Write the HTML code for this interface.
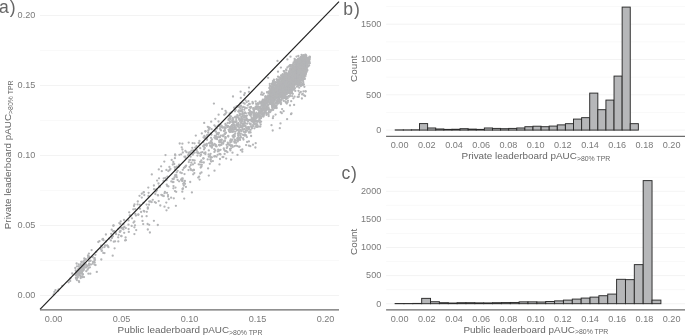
<!DOCTYPE html><html><head><meta charset="utf-8"><title>Leaderboard pAUC</title><style>html,body{margin:0;padding:0;background:#fff;}svg{display:block;will-change:transform}</style></head><body><svg width="685" height="335" viewBox="0 0 685 335"><line x1="40.0" x2="339.0" y1="295.50" y2="295.50" stroke="#ebebeb" stroke-width="0.6"/>
<line x1="40.0" x2="339.0" y1="260.50" y2="260.50" stroke="#f3f3f3" stroke-width="0.5"/>
<line x1="40.0" x2="339.0" y1="225.50" y2="225.50" stroke="#ebebeb" stroke-width="0.6"/>
<line x1="40.0" x2="339.0" y1="190.50" y2="190.50" stroke="#f3f3f3" stroke-width="0.5"/>
<line x1="40.0" x2="339.0" y1="155.50" y2="155.50" stroke="#ebebeb" stroke-width="0.6"/>
<line x1="40.0" x2="339.0" y1="120.50" y2="120.50" stroke="#f3f3f3" stroke-width="0.5"/>
<line x1="40.0" x2="339.0" y1="85.50" y2="85.50" stroke="#ebebeb" stroke-width="0.6"/>
<line x1="40.0" x2="339.0" y1="50.50" y2="50.50" stroke="#f3f3f3" stroke-width="0.5"/>
<line x1="40.0" x2="339.0" y1="15.50" y2="15.50" stroke="#ebebeb" stroke-width="0.6"/>
<g fill="#b4b5b7">
<circle cx="54.4" cy="291.9" r="1.15"/>
<circle cx="55.5" cy="290.2" r="1.15"/>
<circle cx="53.7" cy="294.4" r="1.15"/>
<circle cx="62.3" cy="285.8" r="1.15"/>
<circle cx="58.1" cy="290.8" r="1.15"/>
<circle cx="58.6" cy="289.3" r="1.15"/>
<circle cx="70.4" cy="278.5" r="1.15"/>
<circle cx="68.6" cy="282.3" r="1.15"/>
<circle cx="72.2" cy="273.5" r="1.15"/>
<circle cx="70.2" cy="280.9" r="1.15"/>
<circle cx="75.3" cy="268.0" r="1.15"/>
<circle cx="78.1" cy="270.3" r="1.15"/>
<circle cx="76.8" cy="271.3" r="1.15"/>
<circle cx="82.8" cy="265.7" r="1.15"/>
<circle cx="77.1" cy="278.2" r="1.15"/>
<circle cx="78.8" cy="274.7" r="1.15"/>
<circle cx="80.4" cy="269.2" r="1.15"/>
<circle cx="77.4" cy="272.7" r="1.15"/>
<circle cx="81.6" cy="272.8" r="1.15"/>
<circle cx="80.7" cy="268.7" r="1.15"/>
<circle cx="79.6" cy="273.5" r="1.15"/>
<circle cx="81.7" cy="262.0" r="1.15"/>
<circle cx="77.7" cy="277.2" r="1.15"/>
<circle cx="83.3" cy="270.2" r="1.15"/>
<circle cx="82.0" cy="271.9" r="1.15"/>
<circle cx="76.6" cy="263.5" r="1.15"/>
<circle cx="79.3" cy="271.5" r="1.15"/>
<circle cx="79.9" cy="273.4" r="1.15"/>
<circle cx="75.9" cy="277.6" r="1.15"/>
<circle cx="80.6" cy="276.6" r="1.15"/>
<circle cx="83.3" cy="270.4" r="1.15"/>
<circle cx="80.8" cy="264.2" r="1.15"/>
<circle cx="80.7" cy="278.0" r="1.15"/>
<circle cx="83.9" cy="264.7" r="1.15"/>
<circle cx="79.7" cy="271.9" r="1.15"/>
<circle cx="81.8" cy="270.5" r="1.15"/>
<circle cx="81.3" cy="261.8" r="1.15"/>
<circle cx="78.1" cy="272.9" r="1.15"/>
<circle cx="79.0" cy="272.2" r="1.15"/>
<circle cx="79.6" cy="272.0" r="1.15"/>
<circle cx="77.0" cy="272.5" r="1.15"/>
<circle cx="82.4" cy="267.6" r="1.15"/>
<circle cx="76.7" cy="273.8" r="1.15"/>
<circle cx="83.3" cy="263.3" r="1.15"/>
<circle cx="76.3" cy="278.7" r="1.15"/>
<circle cx="83.4" cy="265.9" r="1.15"/>
<circle cx="82.8" cy="265.9" r="1.15"/>
<circle cx="79.2" cy="274.1" r="1.15"/>
<circle cx="78.7" cy="264.5" r="1.15"/>
<circle cx="76.9" cy="280.1" r="1.15"/>
<circle cx="77.1" cy="273.1" r="1.15"/>
<circle cx="79.8" cy="268.1" r="1.15"/>
<circle cx="80.8" cy="270.3" r="1.15"/>
<circle cx="79.3" cy="271.2" r="1.15"/>
<circle cx="78.8" cy="281.1" r="1.15"/>
<circle cx="81.7" cy="273.6" r="1.15"/>
<circle cx="80.1" cy="275.4" r="1.15"/>
<circle cx="76.0" cy="278.2" r="1.15"/>
<circle cx="83.5" cy="265.8" r="1.15"/>
<circle cx="82.6" cy="277.2" r="1.15"/>
<circle cx="79.0" cy="273.3" r="1.15"/>
<circle cx="81.2" cy="268.7" r="1.15"/>
<circle cx="76.1" cy="272.0" r="1.15"/>
<circle cx="77.0" cy="272.5" r="1.15"/>
<circle cx="78.6" cy="272.1" r="1.15"/>
<circle cx="76.9" cy="273.6" r="1.15"/>
<circle cx="76.4" cy="274.6" r="1.15"/>
<circle cx="83.3" cy="266.9" r="1.15"/>
<circle cx="81.0" cy="268.1" r="1.15"/>
<circle cx="78.6" cy="269.7" r="1.15"/>
<circle cx="78.8" cy="266.4" r="1.15"/>
<circle cx="84.4" cy="260.5" r="1.15"/>
<circle cx="79.7" cy="272.9" r="1.15"/>
<circle cx="76.4" cy="273.9" r="1.15"/>
<circle cx="78.6" cy="272.8" r="1.15"/>
<circle cx="77.0" cy="266.3" r="1.15"/>
<circle cx="75.7" cy="270.3" r="1.15"/>
<circle cx="76.8" cy="275.1" r="1.15"/>
<circle cx="80.4" cy="265.6" r="1.15"/>
<circle cx="84.2" cy="265.8" r="1.15"/>
<circle cx="83.2" cy="269.0" r="1.15"/>
<circle cx="78.8" cy="274.9" r="1.15"/>
<circle cx="77.0" cy="272.9" r="1.15"/>
<circle cx="82.5" cy="273.9" r="1.15"/>
<circle cx="78.5" cy="271.0" r="1.15"/>
<circle cx="84.3" cy="258.5" r="1.15"/>
<circle cx="83.1" cy="265.1" r="1.15"/>
<circle cx="82.1" cy="276.4" r="1.15"/>
<circle cx="77.6" cy="276.7" r="1.15"/>
<circle cx="75.8" cy="275.0" r="1.15"/>
<circle cx="75.8" cy="275.1" r="1.15"/>
<circle cx="81.7" cy="266.0" r="1.15"/>
<circle cx="84.0" cy="277.1" r="1.15"/>
<circle cx="84.3" cy="263.2" r="1.15"/>
<circle cx="84.0" cy="269.1" r="1.15"/>
<circle cx="77.6" cy="271.0" r="1.15"/>
<circle cx="77.3" cy="271.8" r="1.15"/>
<circle cx="83.5" cy="261.5" r="1.15"/>
<circle cx="83.0" cy="274.4" r="1.15"/>
<circle cx="82.6" cy="267.5" r="1.15"/>
<circle cx="76.3" cy="278.6" r="1.15"/>
<circle cx="82.5" cy="276.7" r="1.15"/>
<circle cx="82.2" cy="271.5" r="1.15"/>
<circle cx="82.5" cy="268.1" r="1.15"/>
<circle cx="78.5" cy="268.9" r="1.15"/>
<circle cx="79.1" cy="282.0" r="1.15"/>
<circle cx="88.0" cy="255.5" r="1.15"/>
<circle cx="85.9" cy="267.6" r="1.15"/>
<circle cx="85.5" cy="259.5" r="1.15"/>
<circle cx="91.6" cy="250.1" r="1.15"/>
<circle cx="85.7" cy="259.2" r="1.15"/>
<circle cx="90.3" cy="273.7" r="1.15"/>
<circle cx="87.5" cy="266.0" r="1.15"/>
<circle cx="84.5" cy="267.2" r="1.15"/>
<circle cx="93.0" cy="262.0" r="1.15"/>
<circle cx="92.7" cy="263.7" r="1.15"/>
<circle cx="88.3" cy="256.3" r="1.15"/>
<circle cx="86.3" cy="271.2" r="1.15"/>
<circle cx="86.7" cy="265.3" r="1.15"/>
<circle cx="89.6" cy="257.8" r="1.15"/>
<circle cx="86.7" cy="266.5" r="1.15"/>
<circle cx="92.5" cy="257.2" r="1.15"/>
<circle cx="87.6" cy="269.7" r="1.15"/>
<circle cx="92.5" cy="256.7" r="1.15"/>
<circle cx="88.2" cy="257.8" r="1.15"/>
<circle cx="89.1" cy="264.9" r="1.15"/>
<circle cx="89.1" cy="256.6" r="1.15"/>
<circle cx="86.0" cy="264.4" r="1.15"/>
<circle cx="84.5" cy="265.7" r="1.15"/>
<circle cx="88.6" cy="265.4" r="1.15"/>
<circle cx="90.9" cy="264.6" r="1.15"/>
<circle cx="89.0" cy="263.6" r="1.15"/>
<circle cx="89.4" cy="261.2" r="1.15"/>
<circle cx="89.4" cy="264.0" r="1.15"/>
<circle cx="86.6" cy="265.8" r="1.15"/>
<circle cx="88.9" cy="253.6" r="1.15"/>
<circle cx="89.4" cy="260.9" r="1.15"/>
<circle cx="88.4" cy="273.7" r="1.15"/>
<circle cx="89.9" cy="267.3" r="1.15"/>
<circle cx="90.6" cy="260.7" r="1.15"/>
<circle cx="88.4" cy="268.2" r="1.15"/>
<circle cx="101.7" cy="250.9" r="1.15"/>
<circle cx="99.5" cy="241.1" r="1.15"/>
<circle cx="95.6" cy="265.1" r="1.15"/>
<circle cx="98.3" cy="242.0" r="1.15"/>
<circle cx="94.5" cy="260.3" r="1.15"/>
<circle cx="94.4" cy="258.7" r="1.15"/>
<circle cx="95.4" cy="254.8" r="1.15"/>
<circle cx="93.9" cy="261.8" r="1.15"/>
<circle cx="101.3" cy="259.5" r="1.15"/>
<circle cx="94.7" cy="258.1" r="1.15"/>
<circle cx="94.6" cy="264.6" r="1.15"/>
<circle cx="101.1" cy="245.6" r="1.15"/>
<circle cx="101.8" cy="250.3" r="1.15"/>
<circle cx="96.8" cy="271.9" r="1.15"/>
<circle cx="100.7" cy="248.9" r="1.15"/>
<circle cx="94.7" cy="262.5" r="1.15"/>
<circle cx="96.3" cy="251.8" r="1.15"/>
<circle cx="95.0" cy="259.8" r="1.15"/>
<circle cx="102.4" cy="239.4" r="1.15"/>
<circle cx="107.1" cy="245.3" r="1.15"/>
<circle cx="105.1" cy="245.5" r="1.15"/>
<circle cx="107.7" cy="245.9" r="1.15"/>
<circle cx="110.9" cy="240.4" r="1.15"/>
<circle cx="109.2" cy="238.7" r="1.15"/>
<circle cx="104.5" cy="247.1" r="1.15"/>
<circle cx="102.5" cy="247.6" r="1.15"/>
<circle cx="103.3" cy="252.9" r="1.15"/>
<circle cx="105.9" cy="234.5" r="1.15"/>
<circle cx="104.5" cy="253.1" r="1.15"/>
<circle cx="103.5" cy="240.2" r="1.15"/>
<circle cx="108.4" cy="247.2" r="1.15"/>
<circle cx="103.0" cy="238.9" r="1.15"/>
<circle cx="106.0" cy="241.5" r="1.15"/>
<circle cx="111.7" cy="229.7" r="1.15"/>
<circle cx="118.2" cy="237.3" r="1.15"/>
<circle cx="111.8" cy="237.6" r="1.15"/>
<circle cx="118.7" cy="234.8" r="1.15"/>
<circle cx="115.1" cy="241.3" r="1.15"/>
<circle cx="119.3" cy="223.1" r="1.15"/>
<circle cx="113.4" cy="231.3" r="1.15"/>
<circle cx="113.2" cy="231.3" r="1.15"/>
<circle cx="112.0" cy="237.9" r="1.15"/>
<circle cx="112.9" cy="236.3" r="1.15"/>
<circle cx="113.8" cy="241.7" r="1.15"/>
<circle cx="113.6" cy="225.5" r="1.15"/>
<circle cx="115.5" cy="232.5" r="1.15"/>
<circle cx="111.2" cy="233.8" r="1.15"/>
<circle cx="113.3" cy="225.7" r="1.15"/>
<circle cx="116.0" cy="234.0" r="1.15"/>
<circle cx="112.7" cy="255.7" r="1.15"/>
<circle cx="112.0" cy="236.4" r="1.15"/>
<circle cx="118.3" cy="241.4" r="1.15"/>
<circle cx="118.5" cy="228.8" r="1.15"/>
<circle cx="114.6" cy="248.3" r="1.15"/>
<circle cx="119.8" cy="231.9" r="1.15"/>
<circle cx="114.1" cy="231.1" r="1.15"/>
<circle cx="125.6" cy="237.5" r="1.15"/>
<circle cx="123.5" cy="229.3" r="1.15"/>
<circle cx="121.1" cy="227.8" r="1.15"/>
<circle cx="120.6" cy="231.0" r="1.15"/>
<circle cx="121.4" cy="236.2" r="1.15"/>
<circle cx="120.7" cy="221.4" r="1.15"/>
<circle cx="125.9" cy="240.2" r="1.15"/>
<circle cx="122.4" cy="228.4" r="1.15"/>
<circle cx="124.0" cy="220.0" r="1.15"/>
<circle cx="121.3" cy="236.0" r="1.15"/>
<circle cx="128.5" cy="220.4" r="1.15"/>
<circle cx="128.6" cy="229.1" r="1.15"/>
<circle cx="128.5" cy="224.7" r="1.15"/>
<circle cx="122.7" cy="228.8" r="1.15"/>
<circle cx="123.3" cy="227.6" r="1.15"/>
<circle cx="124.2" cy="232.8" r="1.15"/>
<circle cx="124.4" cy="226.9" r="1.15"/>
<circle cx="120.0" cy="231.5" r="1.15"/>
<circle cx="123.5" cy="224.0" r="1.15"/>
<circle cx="120.3" cy="223.9" r="1.15"/>
<circle cx="122.0" cy="228.2" r="1.15"/>
<circle cx="125.1" cy="240.4" r="1.15"/>
<circle cx="125.8" cy="228.1" r="1.15"/>
<circle cx="135.2" cy="209.2" r="1.15"/>
<circle cx="131.7" cy="225.9" r="1.15"/>
<circle cx="137.6" cy="204.4" r="1.15"/>
<circle cx="134.5" cy="204.4" r="1.15"/>
<circle cx="129.2" cy="212.3" r="1.15"/>
<circle cx="134.4" cy="234.1" r="1.15"/>
<circle cx="135.3" cy="213.9" r="1.15"/>
<circle cx="133.5" cy="222.6" r="1.15"/>
<circle cx="133.3" cy="209.3" r="1.15"/>
<circle cx="136.2" cy="230.1" r="1.15"/>
<circle cx="134.0" cy="206.0" r="1.15"/>
<circle cx="135.0" cy="225.3" r="1.15"/>
<circle cx="130.9" cy="215.6" r="1.15"/>
<circle cx="132.0" cy="218.3" r="1.15"/>
<circle cx="129.8" cy="215.5" r="1.15"/>
<circle cx="134.4" cy="227.3" r="1.15"/>
<circle cx="134.4" cy="221.5" r="1.15"/>
<circle cx="128.8" cy="231.9" r="1.15"/>
<circle cx="135.9" cy="215.5" r="1.15"/>
<circle cx="142.5" cy="220.9" r="1.15"/>
<circle cx="143.6" cy="192.4" r="1.15"/>
<circle cx="139.9" cy="204.8" r="1.15"/>
<circle cx="138.4" cy="214.5" r="1.15"/>
<circle cx="139.5" cy="195.8" r="1.15"/>
<circle cx="144.3" cy="195.1" r="1.15"/>
<circle cx="141.1" cy="212.0" r="1.15"/>
<circle cx="142.0" cy="216.4" r="1.15"/>
<circle cx="143.2" cy="224.1" r="1.15"/>
<circle cx="143.4" cy="202.8" r="1.15"/>
<circle cx="140.0" cy="208.7" r="1.15"/>
<circle cx="144.3" cy="211.5" r="1.15"/>
<circle cx="137.8" cy="201.5" r="1.15"/>
<circle cx="138.2" cy="214.8" r="1.15"/>
<circle cx="143.8" cy="192.2" r="1.15"/>
<circle cx="143.7" cy="210.8" r="1.15"/>
<circle cx="141.8" cy="197.6" r="1.15"/>
<circle cx="141.8" cy="193.7" r="1.15"/>
<circle cx="148.3" cy="187.6" r="1.15"/>
<circle cx="155.3" cy="194.1" r="1.15"/>
<circle cx="150.7" cy="201.5" r="1.15"/>
<circle cx="153.9" cy="185.5" r="1.15"/>
<circle cx="149.0" cy="204.7" r="1.15"/>
<circle cx="148.4" cy="195.9" r="1.15"/>
<circle cx="151.7" cy="202.1" r="1.15"/>
<circle cx="147.8" cy="229.5" r="1.15"/>
<circle cx="147.8" cy="207.5" r="1.15"/>
<circle cx="153.9" cy="220.8" r="1.15"/>
<circle cx="152.8" cy="199.8" r="1.15"/>
<circle cx="148.6" cy="192.8" r="1.15"/>
<circle cx="146.8" cy="211.8" r="1.15"/>
<circle cx="146.6" cy="216.2" r="1.15"/>
<circle cx="149.3" cy="201.5" r="1.15"/>
<circle cx="147.8" cy="208.7" r="1.15"/>
<circle cx="154.0" cy="189.2" r="1.15"/>
<circle cx="146.6" cy="204.6" r="1.15"/>
<circle cx="147.6" cy="224.0" r="1.15"/>
<circle cx="154.8" cy="202.1" r="1.15"/>
<circle cx="149.2" cy="224.8" r="1.15"/>
<circle cx="149.9" cy="232.5" r="1.15"/>
<circle cx="151.8" cy="174.4" r="1.15"/>
<circle cx="158.7" cy="201.1" r="1.15"/>
<circle cx="155.9" cy="191.5" r="1.15"/>
<circle cx="156.4" cy="190.3" r="1.15"/>
<circle cx="163.8" cy="196.1" r="1.15"/>
<circle cx="157.7" cy="195.1" r="1.15"/>
<circle cx="157.1" cy="180.6" r="1.15"/>
<circle cx="158.8" cy="169.4" r="1.15"/>
<circle cx="162.7" cy="195.5" r="1.15"/>
<circle cx="161.1" cy="166.3" r="1.15"/>
<circle cx="160.3" cy="205.5" r="1.15"/>
<circle cx="161.8" cy="171.2" r="1.15"/>
<circle cx="159.5" cy="186.1" r="1.15"/>
<circle cx="162.1" cy="195.3" r="1.15"/>
<circle cx="155.9" cy="202.8" r="1.15"/>
<circle cx="163.7" cy="178.3" r="1.15"/>
<circle cx="158.5" cy="183.5" r="1.15"/>
<circle cx="158.1" cy="195.4" r="1.15"/>
<circle cx="157.8" cy="225.0" r="1.15"/>
<circle cx="161.3" cy="194.8" r="1.15"/>
<circle cx="159.0" cy="178.3" r="1.15"/>
<circle cx="156.9" cy="190.3" r="1.15"/>
<circle cx="163.5" cy="181.0" r="1.15"/>
<circle cx="159.9" cy="186.8" r="1.15"/>
<circle cx="164.3" cy="161.6" r="1.15"/>
<circle cx="159.5" cy="187.1" r="1.15"/>
<circle cx="156.3" cy="189.4" r="1.15"/>
<circle cx="167.4" cy="176.7" r="1.15"/>
<circle cx="166.6" cy="180.1" r="1.15"/>
<circle cx="169.4" cy="166.9" r="1.15"/>
<circle cx="168.0" cy="196.6" r="1.15"/>
<circle cx="168.0" cy="195.1" r="1.15"/>
<circle cx="167.3" cy="185.9" r="1.15"/>
<circle cx="164.9" cy="192.0" r="1.15"/>
<circle cx="165.5" cy="155.1" r="1.15"/>
<circle cx="168.8" cy="199.2" r="1.15"/>
<circle cx="166.3" cy="202.6" r="1.15"/>
<circle cx="166.7" cy="184.6" r="1.15"/>
<circle cx="168.3" cy="171.1" r="1.15"/>
<circle cx="172.8" cy="164.5" r="1.15"/>
<circle cx="164.5" cy="206.7" r="1.15"/>
<circle cx="164.6" cy="193.2" r="1.15"/>
<circle cx="168.5" cy="207.8" r="1.15"/>
<circle cx="169.6" cy="170.0" r="1.15"/>
<circle cx="172.6" cy="179.0" r="1.15"/>
<circle cx="171.7" cy="159.9" r="1.15"/>
<circle cx="166.5" cy="210.3" r="1.15"/>
<circle cx="165.3" cy="177.9" r="1.15"/>
<circle cx="170.4" cy="169.0" r="1.15"/>
<circle cx="172.7" cy="182.0" r="1.15"/>
<circle cx="171.1" cy="197.7" r="1.15"/>
<circle cx="168.4" cy="186.4" r="1.15"/>
<circle cx="171.3" cy="181.4" r="1.15"/>
<circle cx="166.4" cy="169.9" r="1.15"/>
<circle cx="167.0" cy="192.8" r="1.15"/>
<circle cx="174.4" cy="177.5" r="1.15"/>
<circle cx="179.4" cy="154.8" r="1.15"/>
<circle cx="174.2" cy="164.0" r="1.15"/>
<circle cx="178.4" cy="166.9" r="1.15"/>
<circle cx="176.7" cy="172.3" r="1.15"/>
<circle cx="173.3" cy="162.0" r="1.15"/>
<circle cx="175.9" cy="205.8" r="1.15"/>
<circle cx="178.9" cy="165.2" r="1.15"/>
<circle cx="181.1" cy="179.7" r="1.15"/>
<circle cx="175.4" cy="174.9" r="1.15"/>
<circle cx="181.8" cy="173.1" r="1.15"/>
<circle cx="173.4" cy="188.3" r="1.15"/>
<circle cx="177.6" cy="180.0" r="1.15"/>
<circle cx="175.5" cy="187.6" r="1.15"/>
<circle cx="179.1" cy="164.7" r="1.15"/>
<circle cx="173.5" cy="182.1" r="1.15"/>
<circle cx="176.2" cy="191.8" r="1.15"/>
<circle cx="175.0" cy="167.8" r="1.15"/>
<circle cx="180.3" cy="172.5" r="1.15"/>
<circle cx="175.0" cy="191.1" r="1.15"/>
<circle cx="181.8" cy="178.7" r="1.15"/>
<circle cx="175.3" cy="155.4" r="1.15"/>
<circle cx="175.2" cy="175.8" r="1.15"/>
<circle cx="181.7" cy="180.5" r="1.15"/>
<circle cx="177.6" cy="170.8" r="1.15"/>
<circle cx="176.9" cy="166.7" r="1.15"/>
<circle cx="179.1" cy="166.1" r="1.15"/>
<circle cx="176.7" cy="177.2" r="1.15"/>
<circle cx="175.1" cy="169.9" r="1.15"/>
<circle cx="173.7" cy="179.1" r="1.15"/>
<circle cx="173.8" cy="198.3" r="1.15"/>
<circle cx="181.1" cy="154.3" r="1.15"/>
<circle cx="179.7" cy="143.5" r="1.15"/>
<circle cx="176.1" cy="176.0" r="1.15"/>
<circle cx="174.9" cy="158.2" r="1.15"/>
<circle cx="173.5" cy="186.1" r="1.15"/>
<circle cx="179.1" cy="181.3" r="1.15"/>
<circle cx="176.2" cy="167.3" r="1.15"/>
<circle cx="174.7" cy="167.1" r="1.15"/>
<circle cx="176.3" cy="175.2" r="1.15"/>
<circle cx="181.7" cy="147.3" r="1.15"/>
<circle cx="175.1" cy="154.5" r="1.15"/>
<circle cx="185.3" cy="156.6" r="1.15"/>
<circle cx="185.9" cy="186.9" r="1.15"/>
<circle cx="182.5" cy="181.1" r="1.15"/>
<circle cx="190.3" cy="159.8" r="1.15"/>
<circle cx="183.8" cy="185.5" r="1.15"/>
<circle cx="182.4" cy="149.5" r="1.15"/>
<circle cx="185.7" cy="158.1" r="1.15"/>
<circle cx="182.5" cy="189.0" r="1.15"/>
<circle cx="182.4" cy="143.7" r="1.15"/>
<circle cx="184.4" cy="156.8" r="1.15"/>
<circle cx="188.7" cy="154.0" r="1.15"/>
<circle cx="184.5" cy="174.1" r="1.15"/>
<circle cx="190.6" cy="168.9" r="1.15"/>
<circle cx="188.5" cy="170.1" r="1.15"/>
<circle cx="184.9" cy="167.2" r="1.15"/>
<circle cx="188.8" cy="162.1" r="1.15"/>
<circle cx="190.2" cy="182.0" r="1.15"/>
<circle cx="182.3" cy="191.7" r="1.15"/>
<circle cx="184.2" cy="198.6" r="1.15"/>
<circle cx="190.6" cy="156.7" r="1.15"/>
<circle cx="185.5" cy="166.5" r="1.15"/>
<circle cx="186.5" cy="152.2" r="1.15"/>
<circle cx="190.3" cy="152.5" r="1.15"/>
<circle cx="188.7" cy="142.6" r="1.15"/>
<circle cx="189.4" cy="160.1" r="1.15"/>
<circle cx="185.0" cy="183.8" r="1.15"/>
<circle cx="184.9" cy="181.0" r="1.15"/>
<circle cx="182.8" cy="152.5" r="1.15"/>
<circle cx="183.9" cy="167.9" r="1.15"/>
<circle cx="182.7" cy="178.5" r="1.15"/>
<circle cx="182.4" cy="179.9" r="1.15"/>
<circle cx="190.8" cy="165.1" r="1.15"/>
<circle cx="189.9" cy="152.3" r="1.15"/>
<circle cx="182.8" cy="169.8" r="1.15"/>
<circle cx="183.0" cy="188.5" r="1.15"/>
<circle cx="186.1" cy="165.7" r="1.15"/>
<circle cx="184.2" cy="182.7" r="1.15"/>
<circle cx="188.1" cy="155.2" r="1.15"/>
<circle cx="188.7" cy="152.6" r="1.15"/>
<circle cx="183.2" cy="183.8" r="1.15"/>
<circle cx="189.6" cy="166.9" r="1.15"/>
<circle cx="185.4" cy="150.9" r="1.15"/>
<circle cx="197.5" cy="152.9" r="1.15"/>
<circle cx="193.2" cy="150.4" r="1.15"/>
<circle cx="192.3" cy="147.8" r="1.15"/>
<circle cx="193.9" cy="170.0" r="1.15"/>
<circle cx="194.5" cy="143.3" r="1.15"/>
<circle cx="193.0" cy="160.3" r="1.15"/>
<circle cx="198.2" cy="177.6" r="1.15"/>
<circle cx="191.9" cy="192.4" r="1.15"/>
<circle cx="195.2" cy="147.6" r="1.15"/>
<circle cx="199.1" cy="176.7" r="1.15"/>
<circle cx="191.3" cy="162.7" r="1.15"/>
<circle cx="192.7" cy="153.8" r="1.15"/>
<circle cx="199.6" cy="179.6" r="1.15"/>
<circle cx="194.3" cy="173.1" r="1.15"/>
<circle cx="198.7" cy="164.3" r="1.15"/>
<circle cx="197.9" cy="152.5" r="1.15"/>
<circle cx="199.4" cy="140.9" r="1.15"/>
<circle cx="196.5" cy="146.2" r="1.15"/>
<circle cx="192.9" cy="164.4" r="1.15"/>
<circle cx="192.8" cy="154.7" r="1.15"/>
<circle cx="193.2" cy="174.3" r="1.15"/>
<circle cx="192.8" cy="170.5" r="1.15"/>
<circle cx="191.1" cy="170.1" r="1.15"/>
<circle cx="192.6" cy="143.1" r="1.15"/>
<circle cx="193.8" cy="152.5" r="1.15"/>
<circle cx="195.8" cy="135.6" r="1.15"/>
<circle cx="191.5" cy="150.6" r="1.15"/>
<circle cx="195.9" cy="149.7" r="1.15"/>
<circle cx="196.7" cy="150.2" r="1.15"/>
<circle cx="197.2" cy="152.1" r="1.15"/>
<circle cx="194.6" cy="160.5" r="1.15"/>
<circle cx="199.4" cy="143.6" r="1.15"/>
<circle cx="193.8" cy="169.9" r="1.15"/>
<circle cx="194.7" cy="163.1" r="1.15"/>
<circle cx="198.7" cy="142.9" r="1.15"/>
<circle cx="192.7" cy="160.1" r="1.15"/>
<circle cx="197.4" cy="155.6" r="1.15"/>
<circle cx="199.0" cy="153.4" r="1.15"/>
<circle cx="194.7" cy="152.6" r="1.15"/>
<circle cx="207.7" cy="159.4" r="1.15"/>
<circle cx="204.0" cy="149.4" r="1.15"/>
<circle cx="204.8" cy="148.0" r="1.15"/>
<circle cx="205.5" cy="144.6" r="1.15"/>
<circle cx="205.4" cy="152.4" r="1.15"/>
<circle cx="203.2" cy="158.4" r="1.15"/>
<circle cx="202.4" cy="152.1" r="1.15"/>
<circle cx="204.5" cy="144.7" r="1.15"/>
<circle cx="204.2" cy="153.2" r="1.15"/>
<circle cx="207.0" cy="139.8" r="1.15"/>
<circle cx="201.0" cy="154.8" r="1.15"/>
<circle cx="208.2" cy="132.5" r="1.15"/>
<circle cx="200.3" cy="155.8" r="1.15"/>
<circle cx="208.1" cy="168.4" r="1.15"/>
<circle cx="205.4" cy="131.5" r="1.15"/>
<circle cx="207.2" cy="135.9" r="1.15"/>
<circle cx="201.8" cy="133.4" r="1.15"/>
<circle cx="203.5" cy="137.3" r="1.15"/>
<circle cx="201.5" cy="172.4" r="1.15"/>
<circle cx="201.8" cy="164.8" r="1.15"/>
<circle cx="203.3" cy="142.1" r="1.15"/>
<circle cx="201.0" cy="152.7" r="1.15"/>
<circle cx="207.8" cy="126.8" r="1.15"/>
<circle cx="200.2" cy="173.5" r="1.15"/>
<circle cx="200.2" cy="161.9" r="1.15"/>
<circle cx="207.3" cy="135.0" r="1.15"/>
<circle cx="204.7" cy="138.3" r="1.15"/>
<circle cx="205.4" cy="154.0" r="1.15"/>
<circle cx="205.0" cy="137.2" r="1.15"/>
<circle cx="203.6" cy="158.4" r="1.15"/>
<circle cx="203.8" cy="162.5" r="1.15"/>
<circle cx="200.1" cy="164.6" r="1.15"/>
<circle cx="201.9" cy="162.3" r="1.15"/>
<circle cx="206.6" cy="145.7" r="1.15"/>
<circle cx="201.5" cy="166.5" r="1.15"/>
<circle cx="204.1" cy="145.3" r="1.15"/>
<circle cx="203.7" cy="146.6" r="1.15"/>
<circle cx="200.7" cy="167.5" r="1.15"/>
<circle cx="200.2" cy="148.2" r="1.15"/>
<circle cx="205.5" cy="131.2" r="1.15"/>
<circle cx="206.8" cy="138.0" r="1.15"/>
<circle cx="204.4" cy="135.9" r="1.15"/>
<circle cx="203.2" cy="146.1" r="1.15"/>
<circle cx="208.3" cy="130.4" r="1.15"/>
<circle cx="208.7" cy="127.5" r="1.15"/>
<circle cx="206.4" cy="145.3" r="1.15"/>
<circle cx="208.6" cy="154.5" r="1.15"/>
<circle cx="204.2" cy="122.9" r="1.15"/>
<circle cx="201.3" cy="160.4" r="1.15"/>
<circle cx="206.9" cy="143.9" r="1.15"/>
<circle cx="211.9" cy="146.2" r="1.15"/>
<circle cx="215.5" cy="126.6" r="1.15"/>
<circle cx="211.2" cy="121.7" r="1.15"/>
<circle cx="216.0" cy="131.7" r="1.15"/>
<circle cx="216.9" cy="128.5" r="1.15"/>
<circle cx="210.6" cy="146.4" r="1.15"/>
<circle cx="211.6" cy="129.2" r="1.15"/>
<circle cx="209.1" cy="143.2" r="1.15"/>
<circle cx="217.1" cy="133.3" r="1.15"/>
<circle cx="214.8" cy="135.8" r="1.15"/>
<circle cx="215.7" cy="146.1" r="1.15"/>
<circle cx="209.8" cy="163.8" r="1.15"/>
<circle cx="211.9" cy="147.7" r="1.15"/>
<circle cx="216.5" cy="156.7" r="1.15"/>
<circle cx="216.6" cy="146.4" r="1.15"/>
<circle cx="209.7" cy="127.8" r="1.15"/>
<circle cx="212.2" cy="144.7" r="1.15"/>
<circle cx="215.8" cy="144.9" r="1.15"/>
<circle cx="213.9" cy="103.6" r="1.15"/>
<circle cx="211.9" cy="142.9" r="1.15"/>
<circle cx="210.3" cy="159.3" r="1.15"/>
<circle cx="215.3" cy="118.8" r="1.15"/>
<circle cx="211.0" cy="137.8" r="1.15"/>
<circle cx="214.4" cy="125.3" r="1.15"/>
<circle cx="214.6" cy="143.8" r="1.15"/>
<circle cx="211.5" cy="141.1" r="1.15"/>
<circle cx="210.1" cy="145.5" r="1.15"/>
<circle cx="214.2" cy="156.5" r="1.15"/>
<circle cx="216.7" cy="134.2" r="1.15"/>
<circle cx="209.9" cy="143.0" r="1.15"/>
<circle cx="208.9" cy="128.0" r="1.15"/>
<circle cx="208.8" cy="150.4" r="1.15"/>
<circle cx="211.9" cy="139.4" r="1.15"/>
<circle cx="210.7" cy="159.9" r="1.15"/>
<circle cx="210.6" cy="153.8" r="1.15"/>
<circle cx="214.3" cy="149.2" r="1.15"/>
<circle cx="217.1" cy="139.2" r="1.15"/>
<circle cx="210.9" cy="141.5" r="1.15"/>
<circle cx="214.4" cy="137.6" r="1.15"/>
<circle cx="216.5" cy="138.1" r="1.15"/>
<circle cx="211.1" cy="157.6" r="1.15"/>
<circle cx="208.8" cy="156.7" r="1.15"/>
<circle cx="211.9" cy="157.3" r="1.15"/>
<circle cx="214.5" cy="170.7" r="1.15"/>
<circle cx="215.3" cy="131.2" r="1.15"/>
<circle cx="210.9" cy="141.7" r="1.15"/>
<circle cx="213.5" cy="145.2" r="1.15"/>
<circle cx="212.3" cy="143.5" r="1.15"/>
<circle cx="215.7" cy="136.9" r="1.15"/>
<circle cx="208.8" cy="175.6" r="1.15"/>
<circle cx="210.0" cy="155.3" r="1.15"/>
<circle cx="210.5" cy="157.2" r="1.15"/>
<circle cx="214.4" cy="151.9" r="1.15"/>
<circle cx="216.0" cy="136.1" r="1.15"/>
<circle cx="211.4" cy="134.7" r="1.15"/>
<circle cx="209.2" cy="129.0" r="1.15"/>
<circle cx="215.1" cy="156.2" r="1.15"/>
<circle cx="208.8" cy="134.7" r="1.15"/>
<circle cx="212.9" cy="161.1" r="1.15"/>
<circle cx="215.3" cy="150.4" r="1.15"/>
<circle cx="209.7" cy="143.2" r="1.15"/>
<circle cx="210.8" cy="133.7" r="1.15"/>
<circle cx="215.4" cy="138.7" r="1.15"/>
<circle cx="214.9" cy="130.5" r="1.15"/>
<circle cx="211.1" cy="161.6" r="1.15"/>
<circle cx="222.5" cy="157.1" r="1.15"/>
<circle cx="222.3" cy="127.5" r="1.15"/>
<circle cx="220.0" cy="159.0" r="1.15"/>
<circle cx="219.5" cy="164.4" r="1.15"/>
<circle cx="225.4" cy="124.0" r="1.15"/>
<circle cx="219.7" cy="137.3" r="1.15"/>
<circle cx="224.2" cy="114.8" r="1.15"/>
<circle cx="220.5" cy="144.9" r="1.15"/>
<circle cx="225.4" cy="138.5" r="1.15"/>
<circle cx="225.7" cy="125.4" r="1.15"/>
<circle cx="223.2" cy="142.3" r="1.15"/>
<circle cx="226.3" cy="151.1" r="1.15"/>
<circle cx="221.8" cy="126.1" r="1.15"/>
<circle cx="225.2" cy="151.0" r="1.15"/>
<circle cx="221.5" cy="139.6" r="1.15"/>
<circle cx="220.4" cy="154.3" r="1.15"/>
<circle cx="219.5" cy="142.2" r="1.15"/>
<circle cx="225.7" cy="137.4" r="1.15"/>
<circle cx="218.9" cy="132.9" r="1.15"/>
<circle cx="225.9" cy="132.6" r="1.15"/>
<circle cx="220.7" cy="135.6" r="1.15"/>
<circle cx="218.0" cy="137.2" r="1.15"/>
<circle cx="223.8" cy="148.5" r="1.15"/>
<circle cx="224.2" cy="149.8" r="1.15"/>
<circle cx="218.2" cy="149.7" r="1.15"/>
<circle cx="224.9" cy="141.0" r="1.15"/>
<circle cx="224.9" cy="130.7" r="1.15"/>
<circle cx="225.3" cy="137.1" r="1.15"/>
<circle cx="225.7" cy="128.0" r="1.15"/>
<circle cx="219.4" cy="140.6" r="1.15"/>
<circle cx="218.6" cy="114.7" r="1.15"/>
<circle cx="224.8" cy="129.1" r="1.15"/>
<circle cx="223.3" cy="127.4" r="1.15"/>
<circle cx="220.2" cy="154.2" r="1.15"/>
<circle cx="218.5" cy="121.5" r="1.15"/>
<circle cx="219.4" cy="126.0" r="1.15"/>
<circle cx="220.5" cy="140.1" r="1.15"/>
<circle cx="219.9" cy="136.9" r="1.15"/>
<circle cx="220.1" cy="140.6" r="1.15"/>
<circle cx="220.5" cy="149.8" r="1.15"/>
<circle cx="226.2" cy="158.6" r="1.15"/>
<circle cx="223.1" cy="136.3" r="1.15"/>
<circle cx="217.9" cy="151.4" r="1.15"/>
<circle cx="224.5" cy="127.5" r="1.15"/>
<circle cx="220.7" cy="142.0" r="1.15"/>
<circle cx="219.5" cy="153.8" r="1.15"/>
<circle cx="225.3" cy="114.0" r="1.15"/>
<circle cx="219.1" cy="125.8" r="1.15"/>
<circle cx="217.6" cy="133.4" r="1.15"/>
<circle cx="226.3" cy="112.5" r="1.15"/>
<circle cx="217.7" cy="154.8" r="1.15"/>
<circle cx="224.7" cy="133.7" r="1.15"/>
<circle cx="219.3" cy="150.5" r="1.15"/>
<circle cx="225.0" cy="133.9" r="1.15"/>
<circle cx="219.9" cy="128.3" r="1.15"/>
<circle cx="219.5" cy="142.1" r="1.15"/>
<circle cx="223.8" cy="141.4" r="1.15"/>
<circle cx="223.3" cy="135.5" r="1.15"/>
<circle cx="218.3" cy="134.6" r="1.15"/>
<circle cx="224.6" cy="153.9" r="1.15"/>
<circle cx="223.2" cy="143.7" r="1.15"/>
<circle cx="221.1" cy="126.9" r="1.15"/>
<circle cx="225.5" cy="110.8" r="1.15"/>
<circle cx="217.8" cy="125.8" r="1.15"/>
<circle cx="219.5" cy="140.8" r="1.15"/>
<circle cx="222.1" cy="108.9" r="1.15"/>
<circle cx="221.0" cy="130.3" r="1.15"/>
<circle cx="221.7" cy="143.0" r="1.15"/>
<circle cx="222.3" cy="135.7" r="1.15"/>
<circle cx="223.4" cy="157.1" r="1.15"/>
<circle cx="220.7" cy="141.0" r="1.15"/>
<circle cx="225.1" cy="127.6" r="1.15"/>
<circle cx="223.5" cy="135.8" r="1.15"/>
<circle cx="221.5" cy="144.8" r="1.15"/>
<circle cx="224.5" cy="140.6" r="1.15"/>
<circle cx="221.7" cy="140.0" r="1.15"/>
<circle cx="225.5" cy="133.3" r="1.15"/>
<circle cx="220.3" cy="129.5" r="1.15"/>
<circle cx="223.9" cy="131.0" r="1.15"/>
<circle cx="219.0" cy="145.0" r="1.15"/>
<circle cx="219.8" cy="145.5" r="1.15"/>
<circle cx="219.0" cy="124.9" r="1.15"/>
<circle cx="220.5" cy="124.6" r="1.15"/>
<circle cx="233.0" cy="96.5" r="1.15"/>
<circle cx="227.4" cy="126.7" r="1.15"/>
<circle cx="229.9" cy="132.0" r="1.15"/>
<circle cx="235.2" cy="121.5" r="1.15"/>
<circle cx="230.4" cy="150.4" r="1.15"/>
<circle cx="228.2" cy="135.8" r="1.15"/>
<circle cx="228.3" cy="136.5" r="1.15"/>
<circle cx="229.9" cy="117.9" r="1.15"/>
<circle cx="233.5" cy="125.6" r="1.15"/>
<circle cx="232.7" cy="146.9" r="1.15"/>
<circle cx="230.6" cy="130.2" r="1.15"/>
<circle cx="227.8" cy="142.6" r="1.15"/>
<circle cx="233.1" cy="136.5" r="1.15"/>
<circle cx="234.6" cy="142.7" r="1.15"/>
<circle cx="233.2" cy="121.5" r="1.15"/>
<circle cx="230.2" cy="127.6" r="1.15"/>
<circle cx="234.3" cy="107.7" r="1.15"/>
<circle cx="233.4" cy="136.1" r="1.15"/>
<circle cx="232.5" cy="152.7" r="1.15"/>
<circle cx="232.2" cy="139.7" r="1.15"/>
<circle cx="232.1" cy="126.0" r="1.15"/>
<circle cx="227.4" cy="152.2" r="1.15"/>
<circle cx="232.8" cy="118.0" r="1.15"/>
<circle cx="232.1" cy="129.2" r="1.15"/>
<circle cx="230.5" cy="116.6" r="1.15"/>
<circle cx="232.0" cy="145.4" r="1.15"/>
<circle cx="234.8" cy="117.3" r="1.15"/>
<circle cx="228.1" cy="144.6" r="1.15"/>
<circle cx="230.0" cy="149.0" r="1.15"/>
<circle cx="230.8" cy="126.4" r="1.15"/>
<circle cx="231.3" cy="130.2" r="1.15"/>
<circle cx="227.9" cy="126.0" r="1.15"/>
<circle cx="231.1" cy="159.7" r="1.15"/>
<circle cx="227.4" cy="146.8" r="1.15"/>
<circle cx="232.9" cy="135.9" r="1.15"/>
<circle cx="231.0" cy="145.3" r="1.15"/>
<circle cx="231.1" cy="148.3" r="1.15"/>
<circle cx="230.1" cy="122.0" r="1.15"/>
<circle cx="232.6" cy="131.7" r="1.15"/>
<circle cx="230.0" cy="130.0" r="1.15"/>
<circle cx="235.2" cy="133.7" r="1.15"/>
<circle cx="229.7" cy="121.1" r="1.15"/>
<circle cx="230.0" cy="126.9" r="1.15"/>
<circle cx="226.6" cy="144.8" r="1.15"/>
<circle cx="232.7" cy="122.3" r="1.15"/>
<circle cx="229.6" cy="131.7" r="1.15"/>
<circle cx="233.1" cy="119.5" r="1.15"/>
<circle cx="234.8" cy="136.3" r="1.15"/>
<circle cx="233.6" cy="129.8" r="1.15"/>
<circle cx="230.0" cy="128.9" r="1.15"/>
<circle cx="233.4" cy="121.9" r="1.15"/>
<circle cx="233.7" cy="137.7" r="1.15"/>
<circle cx="231.5" cy="140.3" r="1.15"/>
<circle cx="228.5" cy="119.9" r="1.15"/>
<circle cx="232.2" cy="131.8" r="1.15"/>
<circle cx="233.8" cy="122.4" r="1.15"/>
<circle cx="229.1" cy="144.4" r="1.15"/>
<circle cx="231.4" cy="112.5" r="1.15"/>
<circle cx="229.7" cy="113.5" r="1.15"/>
<circle cx="234.1" cy="129.3" r="1.15"/>
<circle cx="228.8" cy="119.0" r="1.15"/>
<circle cx="230.3" cy="129.9" r="1.15"/>
<circle cx="232.9" cy="127.8" r="1.15"/>
<circle cx="229.0" cy="130.9" r="1.15"/>
<circle cx="230.8" cy="119.1" r="1.15"/>
<circle cx="230.3" cy="142.6" r="1.15"/>
<circle cx="229.7" cy="145.1" r="1.15"/>
<circle cx="234.7" cy="124.9" r="1.15"/>
<circle cx="233.9" cy="131.6" r="1.15"/>
<circle cx="234.5" cy="126.2" r="1.15"/>
<circle cx="233.9" cy="134.9" r="1.15"/>
<circle cx="232.1" cy="127.2" r="1.15"/>
<circle cx="235.0" cy="127.2" r="1.15"/>
<circle cx="232.3" cy="129.1" r="1.15"/>
<circle cx="227.8" cy="126.3" r="1.15"/>
<circle cx="228.6" cy="129.6" r="1.15"/>
<circle cx="227.9" cy="143.9" r="1.15"/>
<circle cx="234.5" cy="125.7" r="1.15"/>
<circle cx="234.4" cy="135.2" r="1.15"/>
<circle cx="231.9" cy="125.6" r="1.15"/>
<circle cx="234.4" cy="146.2" r="1.15"/>
<circle cx="233.5" cy="123.9" r="1.15"/>
<circle cx="232.7" cy="136.0" r="1.15"/>
<circle cx="231.2" cy="130.4" r="1.15"/>
<circle cx="234.3" cy="141.4" r="1.15"/>
<circle cx="231.4" cy="130.5" r="1.15"/>
<circle cx="227.7" cy="122.9" r="1.15"/>
<circle cx="230.9" cy="116.5" r="1.15"/>
<circle cx="227.8" cy="127.0" r="1.15"/>
<circle cx="230.9" cy="146.0" r="1.15"/>
<circle cx="234.2" cy="127.7" r="1.15"/>
<circle cx="226.6" cy="125.3" r="1.15"/>
<circle cx="231.5" cy="141.7" r="1.15"/>
<circle cx="232.4" cy="122.3" r="1.15"/>
<circle cx="230.2" cy="140.9" r="1.15"/>
<circle cx="235.0" cy="111.3" r="1.15"/>
<circle cx="232.1" cy="120.9" r="1.15"/>
<circle cx="226.8" cy="148.0" r="1.15"/>
<circle cx="234.8" cy="139.7" r="1.15"/>
<circle cx="229.4" cy="115.7" r="1.15"/>
<circle cx="230.8" cy="131.8" r="1.15"/>
<circle cx="234.5" cy="108.0" r="1.15"/>
<circle cx="232.1" cy="124.9" r="1.15"/>
<circle cx="229.5" cy="123.0" r="1.15"/>
<circle cx="230.7" cy="139.4" r="1.15"/>
<circle cx="231.2" cy="128.6" r="1.15"/>
<circle cx="239.2" cy="133.3" r="1.15"/>
<circle cx="239.1" cy="146.8" r="1.15"/>
<circle cx="238.0" cy="133.4" r="1.15"/>
<circle cx="242.7" cy="134.6" r="1.15"/>
<circle cx="237.8" cy="117.2" r="1.15"/>
<circle cx="239.9" cy="106.5" r="1.15"/>
<circle cx="242.4" cy="125.6" r="1.15"/>
<circle cx="238.3" cy="129.7" r="1.15"/>
<circle cx="240.6" cy="114.4" r="1.15"/>
<circle cx="241.0" cy="122.9" r="1.15"/>
<circle cx="241.8" cy="126.6" r="1.15"/>
<circle cx="243.2" cy="126.1" r="1.15"/>
<circle cx="238.0" cy="126.6" r="1.15"/>
<circle cx="235.4" cy="116.6" r="1.15"/>
<circle cx="240.8" cy="97.9" r="1.15"/>
<circle cx="241.2" cy="117.0" r="1.15"/>
<circle cx="240.8" cy="150.1" r="1.15"/>
<circle cx="240.9" cy="137.1" r="1.15"/>
<circle cx="240.7" cy="137.6" r="1.15"/>
<circle cx="241.4" cy="119.2" r="1.15"/>
<circle cx="239.4" cy="106.7" r="1.15"/>
<circle cx="242.2" cy="116.7" r="1.15"/>
<circle cx="235.7" cy="122.2" r="1.15"/>
<circle cx="242.3" cy="107.5" r="1.15"/>
<circle cx="238.7" cy="134.5" r="1.15"/>
<circle cx="242.7" cy="119.1" r="1.15"/>
<circle cx="237.7" cy="141.4" r="1.15"/>
<circle cx="238.1" cy="135.2" r="1.15"/>
<circle cx="239.2" cy="119.7" r="1.15"/>
<circle cx="241.1" cy="119.9" r="1.15"/>
<circle cx="240.4" cy="125.7" r="1.15"/>
<circle cx="235.7" cy="110.1" r="1.15"/>
<circle cx="240.5" cy="108.7" r="1.15"/>
<circle cx="243.5" cy="124.1" r="1.15"/>
<circle cx="238.8" cy="124.3" r="1.15"/>
<circle cx="240.6" cy="91.7" r="1.15"/>
<circle cx="239.6" cy="137.9" r="1.15"/>
<circle cx="239.0" cy="110.5" r="1.15"/>
<circle cx="237.3" cy="115.2" r="1.15"/>
<circle cx="236.7" cy="125.1" r="1.15"/>
<circle cx="241.5" cy="123.3" r="1.15"/>
<circle cx="236.5" cy="121.2" r="1.15"/>
<circle cx="243.1" cy="123.5" r="1.15"/>
<circle cx="236.5" cy="106.5" r="1.15"/>
<circle cx="237.5" cy="123.6" r="1.15"/>
<circle cx="241.9" cy="121.6" r="1.15"/>
<circle cx="242.3" cy="119.3" r="1.15"/>
<circle cx="241.7" cy="111.0" r="1.15"/>
<circle cx="236.1" cy="142.8" r="1.15"/>
<circle cx="241.0" cy="127.2" r="1.15"/>
<circle cx="243.7" cy="135.2" r="1.15"/>
<circle cx="237.6" cy="106.4" r="1.15"/>
<circle cx="235.5" cy="131.6" r="1.15"/>
<circle cx="235.5" cy="140.7" r="1.15"/>
<circle cx="236.1" cy="145.6" r="1.15"/>
<circle cx="238.1" cy="126.4" r="1.15"/>
<circle cx="243.0" cy="129.8" r="1.15"/>
<circle cx="239.7" cy="113.4" r="1.15"/>
<circle cx="240.5" cy="119.7" r="1.15"/>
<circle cx="239.3" cy="127.8" r="1.15"/>
<circle cx="242.5" cy="129.0" r="1.15"/>
<circle cx="238.6" cy="136.0" r="1.15"/>
<circle cx="239.1" cy="138.7" r="1.15"/>
<circle cx="238.8" cy="118.3" r="1.15"/>
<circle cx="242.3" cy="151.7" r="1.15"/>
<circle cx="240.4" cy="125.2" r="1.15"/>
<circle cx="244.0" cy="117.7" r="1.15"/>
<circle cx="241.6" cy="118.1" r="1.15"/>
<circle cx="240.8" cy="133.7" r="1.15"/>
<circle cx="244.1" cy="113.7" r="1.15"/>
<circle cx="238.1" cy="140.3" r="1.15"/>
<circle cx="239.2" cy="115.6" r="1.15"/>
<circle cx="241.5" cy="131.2" r="1.15"/>
<circle cx="240.7" cy="106.0" r="1.15"/>
<circle cx="237.9" cy="139.4" r="1.15"/>
<circle cx="235.4" cy="128.2" r="1.15"/>
<circle cx="240.6" cy="111.0" r="1.15"/>
<circle cx="242.6" cy="119.9" r="1.15"/>
<circle cx="242.8" cy="124.9" r="1.15"/>
<circle cx="242.6" cy="112.0" r="1.15"/>
<circle cx="237.8" cy="137.7" r="1.15"/>
<circle cx="242.9" cy="116.0" r="1.15"/>
<circle cx="243.5" cy="139.6" r="1.15"/>
<circle cx="238.5" cy="111.6" r="1.15"/>
<circle cx="242.5" cy="114.8" r="1.15"/>
<circle cx="237.2" cy="126.0" r="1.15"/>
<circle cx="237.5" cy="154.9" r="1.15"/>
<circle cx="240.8" cy="129.9" r="1.15"/>
<circle cx="237.2" cy="138.6" r="1.15"/>
<circle cx="237.6" cy="125.6" r="1.15"/>
<circle cx="239.5" cy="146.7" r="1.15"/>
<circle cx="236.2" cy="119.1" r="1.15"/>
<circle cx="237.4" cy="146.1" r="1.15"/>
<circle cx="240.5" cy="103.4" r="1.15"/>
<circle cx="240.0" cy="139.9" r="1.15"/>
<circle cx="239.6" cy="131.4" r="1.15"/>
<circle cx="237.1" cy="130.4" r="1.15"/>
<circle cx="237.0" cy="129.8" r="1.15"/>
<circle cx="240.4" cy="135.3" r="1.15"/>
<circle cx="239.0" cy="132.0" r="1.15"/>
<circle cx="235.8" cy="127.7" r="1.15"/>
<circle cx="244.2" cy="125.8" r="1.15"/>
<circle cx="241.0" cy="119.5" r="1.15"/>
<circle cx="242.4" cy="113.6" r="1.15"/>
<circle cx="238.4" cy="111.3" r="1.15"/>
<circle cx="240.0" cy="121.1" r="1.15"/>
<circle cx="244.2" cy="121.3" r="1.15"/>
<circle cx="243.1" cy="138.2" r="1.15"/>
<circle cx="237.7" cy="124.3" r="1.15"/>
<circle cx="242.3" cy="149.5" r="1.15"/>
<circle cx="242.2" cy="109.6" r="1.15"/>
<circle cx="242.7" cy="113.5" r="1.15"/>
<circle cx="235.7" cy="129.2" r="1.15"/>
<circle cx="237.2" cy="123.8" r="1.15"/>
<circle cx="235.8" cy="122.1" r="1.15"/>
<circle cx="240.3" cy="114.7" r="1.15"/>
<circle cx="243.8" cy="131.8" r="1.15"/>
<circle cx="243.5" cy="107.0" r="1.15"/>
<circle cx="238.9" cy="118.4" r="1.15"/>
<circle cx="236.4" cy="117.1" r="1.15"/>
<circle cx="240.4" cy="126.5" r="1.15"/>
<circle cx="241.1" cy="105.9" r="1.15"/>
<circle cx="238.9" cy="130.0" r="1.15"/>
<circle cx="239.4" cy="107.3" r="1.15"/>
<circle cx="244.2" cy="95.0" r="1.15"/>
<circle cx="237.3" cy="116.6" r="1.15"/>
<circle cx="238.5" cy="122.9" r="1.15"/>
<circle cx="243.4" cy="102.9" r="1.15"/>
<circle cx="235.8" cy="140.5" r="1.15"/>
<circle cx="242.4" cy="127.3" r="1.15"/>
<circle cx="253.0" cy="144.7" r="1.15"/>
<circle cx="245.5" cy="120.0" r="1.15"/>
<circle cx="250.3" cy="146.2" r="1.15"/>
<circle cx="246.9" cy="137.1" r="1.15"/>
<circle cx="245.2" cy="132.2" r="1.15"/>
<circle cx="247.1" cy="120.2" r="1.15"/>
<circle cx="248.5" cy="112.9" r="1.15"/>
<circle cx="245.8" cy="120.3" r="1.15"/>
<circle cx="250.3" cy="111.4" r="1.15"/>
<circle cx="244.4" cy="123.3" r="1.15"/>
<circle cx="244.6" cy="129.3" r="1.15"/>
<circle cx="252.5" cy="101.9" r="1.15"/>
<circle cx="245.5" cy="126.1" r="1.15"/>
<circle cx="252.5" cy="119.7" r="1.15"/>
<circle cx="251.6" cy="126.6" r="1.15"/>
<circle cx="244.8" cy="119.6" r="1.15"/>
<circle cx="250.6" cy="124.0" r="1.15"/>
<circle cx="252.0" cy="128.3" r="1.15"/>
<circle cx="251.7" cy="126.7" r="1.15"/>
<circle cx="252.3" cy="112.7" r="1.15"/>
<circle cx="250.2" cy="120.2" r="1.15"/>
<circle cx="246.1" cy="130.4" r="1.15"/>
<circle cx="246.5" cy="118.9" r="1.15"/>
<circle cx="246.1" cy="145.1" r="1.15"/>
<circle cx="253.1" cy="121.0" r="1.15"/>
<circle cx="244.8" cy="93.2" r="1.15"/>
<circle cx="250.7" cy="115.8" r="1.15"/>
<circle cx="247.3" cy="119.3" r="1.15"/>
<circle cx="251.7" cy="118.9" r="1.15"/>
<circle cx="246.2" cy="119.9" r="1.15"/>
<circle cx="249.3" cy="113.7" r="1.15"/>
<circle cx="251.1" cy="136.0" r="1.15"/>
<circle cx="249.7" cy="112.6" r="1.15"/>
<circle cx="248.7" cy="120.2" r="1.15"/>
<circle cx="249.7" cy="110.3" r="1.15"/>
<circle cx="250.5" cy="111.9" r="1.15"/>
<circle cx="246.1" cy="135.4" r="1.15"/>
<circle cx="244.8" cy="122.7" r="1.15"/>
<circle cx="250.7" cy="129.8" r="1.15"/>
<circle cx="244.8" cy="117.3" r="1.15"/>
<circle cx="251.7" cy="120.4" r="1.15"/>
<circle cx="248.5" cy="129.1" r="1.15"/>
<circle cx="252.0" cy="120.6" r="1.15"/>
<circle cx="245.7" cy="132.0" r="1.15"/>
<circle cx="244.3" cy="109.8" r="1.15"/>
<circle cx="248.9" cy="132.4" r="1.15"/>
<circle cx="245.3" cy="116.1" r="1.15"/>
<circle cx="250.6" cy="108.1" r="1.15"/>
<circle cx="247.1" cy="142.0" r="1.15"/>
<circle cx="250.6" cy="132.4" r="1.15"/>
<circle cx="244.8" cy="107.6" r="1.15"/>
<circle cx="252.0" cy="118.5" r="1.15"/>
<circle cx="249.0" cy="87.6" r="1.15"/>
<circle cx="246.2" cy="116.3" r="1.15"/>
<circle cx="245.9" cy="113.3" r="1.15"/>
<circle cx="251.5" cy="114.3" r="1.15"/>
<circle cx="245.1" cy="123.7" r="1.15"/>
<circle cx="244.4" cy="129.2" r="1.15"/>
<circle cx="249.6" cy="131.3" r="1.15"/>
<circle cx="250.5" cy="124.5" r="1.15"/>
<circle cx="245.2" cy="107.9" r="1.15"/>
<circle cx="244.7" cy="135.6" r="1.15"/>
<circle cx="245.4" cy="135.3" r="1.15"/>
<circle cx="246.7" cy="119.6" r="1.15"/>
<circle cx="245.3" cy="126.5" r="1.15"/>
<circle cx="249.5" cy="114.8" r="1.15"/>
<circle cx="251.9" cy="119.3" r="1.15"/>
<circle cx="251.6" cy="117.3" r="1.15"/>
<circle cx="248.9" cy="141.4" r="1.15"/>
<circle cx="251.2" cy="126.7" r="1.15"/>
<circle cx="253.0" cy="103.2" r="1.15"/>
<circle cx="244.7" cy="103.7" r="1.15"/>
<circle cx="248.9" cy="91.8" r="1.15"/>
<circle cx="246.5" cy="127.7" r="1.15"/>
<circle cx="248.0" cy="127.1" r="1.15"/>
<circle cx="249.0" cy="127.2" r="1.15"/>
<circle cx="244.9" cy="134.5" r="1.15"/>
<circle cx="244.4" cy="115.7" r="1.15"/>
<circle cx="245.5" cy="100.3" r="1.15"/>
<circle cx="252.6" cy="103.4" r="1.15"/>
<circle cx="244.6" cy="125.5" r="1.15"/>
<circle cx="250.0" cy="119.9" r="1.15"/>
<circle cx="246.7" cy="102.1" r="1.15"/>
<circle cx="249.1" cy="103.9" r="1.15"/>
<circle cx="246.5" cy="128.0" r="1.15"/>
<circle cx="248.9" cy="145.7" r="1.15"/>
<circle cx="246.8" cy="108.1" r="1.15"/>
<circle cx="247.0" cy="123.7" r="1.15"/>
<circle cx="249.5" cy="123.3" r="1.15"/>
<circle cx="252.8" cy="121.6" r="1.15"/>
<circle cx="245.6" cy="116.3" r="1.15"/>
<circle cx="246.9" cy="115.6" r="1.15"/>
<circle cx="247.9" cy="121.6" r="1.15"/>
<circle cx="245.0" cy="112.4" r="1.15"/>
<circle cx="249.1" cy="109.9" r="1.15"/>
<circle cx="249.3" cy="132.4" r="1.15"/>
<circle cx="250.0" cy="112.4" r="1.15"/>
<circle cx="248.4" cy="101.1" r="1.15"/>
<circle cx="249.1" cy="128.9" r="1.15"/>
<circle cx="247.0" cy="128.8" r="1.15"/>
<circle cx="246.4" cy="117.8" r="1.15"/>
<circle cx="247.7" cy="105.4" r="1.15"/>
<circle cx="249.5" cy="107.3" r="1.15"/>
<circle cx="251.9" cy="121.4" r="1.15"/>
<circle cx="253.0" cy="125.1" r="1.15"/>
<circle cx="252.0" cy="127.6" r="1.15"/>
<circle cx="250.8" cy="114.0" r="1.15"/>
<circle cx="245.6" cy="120.0" r="1.15"/>
<circle cx="247.3" cy="130.7" r="1.15"/>
<circle cx="249.7" cy="104.0" r="1.15"/>
<circle cx="251.8" cy="112.1" r="1.15"/>
<circle cx="251.0" cy="106.9" r="1.15"/>
<circle cx="245.4" cy="120.2" r="1.15"/>
<circle cx="251.1" cy="112.2" r="1.15"/>
<circle cx="248.0" cy="120.2" r="1.15"/>
<circle cx="251.2" cy="120.6" r="1.15"/>
<circle cx="248.3" cy="120.9" r="1.15"/>
<circle cx="256.6" cy="115.1" r="1.15"/>
<circle cx="260.7" cy="117.6" r="1.15"/>
<circle cx="254.4" cy="115.7" r="1.15"/>
<circle cx="256.0" cy="108.8" r="1.15"/>
<circle cx="256.9" cy="126.3" r="1.15"/>
<circle cx="257.6" cy="103.5" r="1.15"/>
<circle cx="257.7" cy="114.8" r="1.15"/>
<circle cx="258.4" cy="104.6" r="1.15"/>
<circle cx="254.0" cy="116.7" r="1.15"/>
<circle cx="261.0" cy="109.4" r="1.15"/>
<circle cx="262.0" cy="108.6" r="1.15"/>
<circle cx="256.0" cy="116.2" r="1.15"/>
<circle cx="261.1" cy="94.5" r="1.15"/>
<circle cx="256.9" cy="117.3" r="1.15"/>
<circle cx="254.8" cy="115.4" r="1.15"/>
<circle cx="262.0" cy="112.1" r="1.15"/>
<circle cx="255.9" cy="120.3" r="1.15"/>
<circle cx="258.3" cy="116.5" r="1.15"/>
<circle cx="255.5" cy="107.8" r="1.15"/>
<circle cx="256.8" cy="121.1" r="1.15"/>
<circle cx="254.0" cy="110.9" r="1.15"/>
<circle cx="260.3" cy="126.5" r="1.15"/>
<circle cx="253.3" cy="119.4" r="1.15"/>
<circle cx="254.6" cy="115.5" r="1.15"/>
<circle cx="256.2" cy="117.6" r="1.15"/>
<circle cx="258.3" cy="115.7" r="1.15"/>
<circle cx="253.5" cy="109.8" r="1.15"/>
<circle cx="260.4" cy="103.5" r="1.15"/>
<circle cx="261.6" cy="111.4" r="1.15"/>
<circle cx="255.9" cy="115.3" r="1.15"/>
<circle cx="254.7" cy="117.4" r="1.15"/>
<circle cx="258.1" cy="115.8" r="1.15"/>
<circle cx="253.7" cy="118.6" r="1.15"/>
<circle cx="254.8" cy="124.2" r="1.15"/>
<circle cx="256.2" cy="121.1" r="1.15"/>
<circle cx="260.6" cy="103.0" r="1.15"/>
<circle cx="254.6" cy="109.2" r="1.15"/>
<circle cx="255.0" cy="120.7" r="1.15"/>
<circle cx="254.3" cy="113.6" r="1.15"/>
<circle cx="256.4" cy="112.6" r="1.15"/>
<circle cx="254.2" cy="115.9" r="1.15"/>
<circle cx="256.6" cy="118.1" r="1.15"/>
<circle cx="253.9" cy="112.7" r="1.15"/>
<circle cx="254.1" cy="121.8" r="1.15"/>
<circle cx="253.7" cy="123.4" r="1.15"/>
<circle cx="255.6" cy="101.5" r="1.15"/>
<circle cx="260.8" cy="116.8" r="1.15"/>
<circle cx="259.0" cy="108.8" r="1.15"/>
<circle cx="255.3" cy="120.6" r="1.15"/>
<circle cx="254.2" cy="117.3" r="1.15"/>
<circle cx="253.5" cy="126.2" r="1.15"/>
<circle cx="253.5" cy="115.5" r="1.15"/>
<circle cx="258.2" cy="115.0" r="1.15"/>
<circle cx="256.2" cy="103.8" r="1.15"/>
<circle cx="255.7" cy="143.2" r="1.15"/>
<circle cx="260.7" cy="124.4" r="1.15"/>
<circle cx="260.2" cy="107.8" r="1.15"/>
<circle cx="259.3" cy="107.4" r="1.15"/>
<circle cx="253.9" cy="109.8" r="1.15"/>
<circle cx="259.7" cy="116.2" r="1.15"/>
<circle cx="259.3" cy="111.1" r="1.15"/>
<circle cx="259.9" cy="122.5" r="1.15"/>
<circle cx="255.5" cy="107.2" r="1.15"/>
<circle cx="255.4" cy="147.5" r="1.15"/>
<circle cx="256.3" cy="126.6" r="1.15"/>
<circle cx="259.4" cy="118.4" r="1.15"/>
<circle cx="257.1" cy="114.1" r="1.15"/>
<circle cx="254.4" cy="114.2" r="1.15"/>
<circle cx="259.9" cy="108.4" r="1.15"/>
<circle cx="259.9" cy="120.7" r="1.15"/>
<circle cx="255.0" cy="121.3" r="1.15"/>
<circle cx="259.4" cy="119.6" r="1.15"/>
<circle cx="256.4" cy="120.9" r="1.15"/>
<circle cx="259.8" cy="101.6" r="1.15"/>
<circle cx="254.1" cy="121.7" r="1.15"/>
<circle cx="253.2" cy="108.1" r="1.15"/>
<circle cx="258.9" cy="126.6" r="1.15"/>
<circle cx="260.0" cy="116.0" r="1.15"/>
<circle cx="260.7" cy="106.8" r="1.15"/>
<circle cx="259.7" cy="113.7" r="1.15"/>
<circle cx="256.4" cy="115.9" r="1.15"/>
<circle cx="253.5" cy="108.7" r="1.15"/>
<circle cx="261.2" cy="114.2" r="1.15"/>
<circle cx="255.8" cy="123.3" r="1.15"/>
<circle cx="257.1" cy="126.8" r="1.15"/>
<circle cx="254.8" cy="113.8" r="1.15"/>
<circle cx="260.1" cy="111.5" r="1.15"/>
<circle cx="256.9" cy="109.0" r="1.15"/>
<circle cx="261.2" cy="112.3" r="1.15"/>
<circle cx="256.2" cy="123.7" r="1.15"/>
<circle cx="261.8" cy="92.5" r="1.15"/>
<circle cx="258.6" cy="114.8" r="1.15"/>
<circle cx="255.8" cy="107.9" r="1.15"/>
<circle cx="255.8" cy="121.0" r="1.15"/>
<circle cx="259.2" cy="117.1" r="1.15"/>
<circle cx="258.3" cy="113.4" r="1.15"/>
<circle cx="254.2" cy="116.4" r="1.15"/>
<circle cx="260.8" cy="118.2" r="1.15"/>
<circle cx="257.5" cy="121.9" r="1.15"/>
<circle cx="257.7" cy="126.2" r="1.15"/>
<circle cx="257.0" cy="107.7" r="1.15"/>
<circle cx="254.2" cy="115.0" r="1.15"/>
<circle cx="256.6" cy="104.4" r="1.15"/>
<circle cx="254.4" cy="128.3" r="1.15"/>
<circle cx="253.3" cy="121.8" r="1.15"/>
<circle cx="256.9" cy="107.4" r="1.15"/>
<circle cx="261.3" cy="112.7" r="1.15"/>
<circle cx="259.9" cy="113.6" r="1.15"/>
<circle cx="259.7" cy="113.2" r="1.15"/>
<circle cx="254.0" cy="112.6" r="1.15"/>
<circle cx="259.1" cy="112.5" r="1.15"/>
<circle cx="258.3" cy="120.6" r="1.15"/>
<circle cx="254.8" cy="118.5" r="1.15"/>
<circle cx="254.4" cy="109.6" r="1.15"/>
<circle cx="261.6" cy="101.9" r="1.15"/>
<circle cx="256.2" cy="106.3" r="1.15"/>
<circle cx="253.5" cy="112.3" r="1.15"/>
<circle cx="257.4" cy="106.3" r="1.15"/>
<circle cx="258.6" cy="121.0" r="1.15"/>
<circle cx="261.1" cy="121.7" r="1.15"/>
<circle cx="257.3" cy="124.3" r="1.15"/>
<circle cx="258.3" cy="113.7" r="1.15"/>
<circle cx="253.5" cy="121.6" r="1.15"/>
<circle cx="257.6" cy="106.8" r="1.15"/>
<circle cx="262.0" cy="102.1" r="1.15"/>
<circle cx="258.1" cy="103.3" r="1.15"/>
<circle cx="258.8" cy="106.8" r="1.15"/>
<circle cx="261.5" cy="105.5" r="1.15"/>
<circle cx="257.7" cy="116.5" r="1.15"/>
<circle cx="253.7" cy="113.5" r="1.15"/>
<circle cx="256.4" cy="125.5" r="1.15"/>
<circle cx="253.2" cy="118.4" r="1.15"/>
<circle cx="255.8" cy="126.7" r="1.15"/>
<circle cx="259.6" cy="102.6" r="1.15"/>
<circle cx="258.3" cy="110.0" r="1.15"/>
<circle cx="256.3" cy="117.0" r="1.15"/>
<circle cx="257.4" cy="126.6" r="1.15"/>
<circle cx="254.6" cy="119.2" r="1.15"/>
<circle cx="254.9" cy="113.6" r="1.15"/>
<circle cx="259.7" cy="111.7" r="1.15"/>
<circle cx="260.9" cy="118.2" r="1.15"/>
<circle cx="260.9" cy="110.6" r="1.15"/>
<circle cx="268.7" cy="101.6" r="1.15"/>
<circle cx="262.5" cy="114.4" r="1.15"/>
<circle cx="266.4" cy="112.9" r="1.15"/>
<circle cx="270.2" cy="96.9" r="1.15"/>
<circle cx="268.5" cy="114.4" r="1.15"/>
<circle cx="268.8" cy="97.2" r="1.15"/>
<circle cx="267.2" cy="101.3" r="1.15"/>
<circle cx="268.6" cy="91.7" r="1.15"/>
<circle cx="264.8" cy="102.8" r="1.15"/>
<circle cx="266.7" cy="114.0" r="1.15"/>
<circle cx="267.8" cy="100.7" r="1.15"/>
<circle cx="268.7" cy="116.1" r="1.15"/>
<circle cx="266.5" cy="103.5" r="1.15"/>
<circle cx="263.3" cy="103.1" r="1.15"/>
<circle cx="262.3" cy="105.6" r="1.15"/>
<circle cx="267.7" cy="100.9" r="1.15"/>
<circle cx="270.0" cy="99.7" r="1.15"/>
<circle cx="265.6" cy="110.2" r="1.15"/>
<circle cx="270.2" cy="103.6" r="1.15"/>
<circle cx="264.3" cy="109.7" r="1.15"/>
<circle cx="267.7" cy="98.4" r="1.15"/>
<circle cx="263.4" cy="102.2" r="1.15"/>
<circle cx="269.3" cy="97.4" r="1.15"/>
<circle cx="263.5" cy="105.4" r="1.15"/>
<circle cx="269.9" cy="93.0" r="1.15"/>
<circle cx="269.7" cy="91.6" r="1.15"/>
<circle cx="262.2" cy="103.5" r="1.15"/>
<circle cx="263.4" cy="114.0" r="1.15"/>
<circle cx="262.8" cy="94.9" r="1.15"/>
<circle cx="270.7" cy="98.5" r="1.15"/>
<circle cx="268.1" cy="77.8" r="1.15"/>
<circle cx="266.5" cy="114.9" r="1.15"/>
<circle cx="270.8" cy="98.3" r="1.15"/>
<circle cx="263.2" cy="113.4" r="1.15"/>
<circle cx="268.6" cy="107.3" r="1.15"/>
<circle cx="270.2" cy="92.1" r="1.15"/>
<circle cx="268.5" cy="112.9" r="1.15"/>
<circle cx="262.4" cy="110.5" r="1.15"/>
<circle cx="262.1" cy="105.5" r="1.15"/>
<circle cx="268.1" cy="95.3" r="1.15"/>
<circle cx="264.8" cy="102.3" r="1.15"/>
<circle cx="265.7" cy="103.0" r="1.15"/>
<circle cx="270.2" cy="102.0" r="1.15"/>
<circle cx="263.8" cy="93.6" r="1.15"/>
<circle cx="262.5" cy="108.0" r="1.15"/>
<circle cx="264.8" cy="104.1" r="1.15"/>
<circle cx="266.5" cy="98.8" r="1.15"/>
<circle cx="268.6" cy="99.2" r="1.15"/>
<circle cx="267.5" cy="102.2" r="1.15"/>
<circle cx="264.0" cy="104.5" r="1.15"/>
<circle cx="268.4" cy="109.0" r="1.15"/>
<circle cx="270.3" cy="94.4" r="1.15"/>
<circle cx="264.1" cy="100.9" r="1.15"/>
<circle cx="269.4" cy="102.3" r="1.15"/>
<circle cx="269.4" cy="111.5" r="1.15"/>
<circle cx="262.9" cy="104.1" r="1.15"/>
<circle cx="262.8" cy="99.7" r="1.15"/>
<circle cx="266.3" cy="102.5" r="1.15"/>
<circle cx="265.3" cy="111.6" r="1.15"/>
<circle cx="265.4" cy="101.4" r="1.15"/>
<circle cx="262.5" cy="110.4" r="1.15"/>
<circle cx="264.2" cy="105.1" r="1.15"/>
<circle cx="263.8" cy="103.0" r="1.15"/>
<circle cx="262.4" cy="109.8" r="1.15"/>
<circle cx="265.6" cy="103.8" r="1.15"/>
<circle cx="267.2" cy="97.9" r="1.15"/>
<circle cx="265.3" cy="109.0" r="1.15"/>
<circle cx="265.4" cy="96.5" r="1.15"/>
<circle cx="262.2" cy="105.1" r="1.15"/>
<circle cx="265.7" cy="100.3" r="1.15"/>
<circle cx="266.6" cy="99.4" r="1.15"/>
<circle cx="262.4" cy="100.8" r="1.15"/>
<circle cx="263.1" cy="113.8" r="1.15"/>
<circle cx="262.8" cy="110.3" r="1.15"/>
<circle cx="268.3" cy="105.2" r="1.15"/>
<circle cx="267.2" cy="98.4" r="1.15"/>
<circle cx="265.0" cy="108.0" r="1.15"/>
<circle cx="264.3" cy="103.8" r="1.15"/>
<circle cx="266.6" cy="106.7" r="1.15"/>
<circle cx="269.1" cy="112.0" r="1.15"/>
<circle cx="266.8" cy="102.5" r="1.15"/>
<circle cx="265.3" cy="102.6" r="1.15"/>
<circle cx="262.5" cy="108.1" r="1.15"/>
<circle cx="264.9" cy="101.5" r="1.15"/>
<circle cx="269.1" cy="96.1" r="1.15"/>
<circle cx="269.8" cy="83.9" r="1.15"/>
<circle cx="265.9" cy="110.5" r="1.15"/>
<circle cx="267.3" cy="92.7" r="1.15"/>
<circle cx="266.4" cy="107.3" r="1.15"/>
<circle cx="269.5" cy="103.0" r="1.15"/>
<circle cx="262.9" cy="101.1" r="1.15"/>
<circle cx="264.3" cy="113.5" r="1.15"/>
<circle cx="268.2" cy="97.7" r="1.15"/>
<circle cx="264.1" cy="112.1" r="1.15"/>
<circle cx="270.1" cy="95.4" r="1.15"/>
<circle cx="270.7" cy="103.5" r="1.15"/>
<circle cx="264.0" cy="109.0" r="1.15"/>
<circle cx="265.8" cy="109.5" r="1.15"/>
<circle cx="270.2" cy="95.7" r="1.15"/>
<circle cx="265.1" cy="104.8" r="1.15"/>
<circle cx="266.3" cy="106.9" r="1.15"/>
<circle cx="263.3" cy="101.4" r="1.15"/>
<circle cx="270.2" cy="112.1" r="1.15"/>
<circle cx="267.3" cy="96.9" r="1.15"/>
<circle cx="262.5" cy="109.0" r="1.15"/>
<circle cx="263.6" cy="114.0" r="1.15"/>
<circle cx="262.9" cy="103.3" r="1.15"/>
<circle cx="262.3" cy="116.3" r="1.15"/>
<circle cx="267.2" cy="106.2" r="1.15"/>
<circle cx="263.5" cy="100.0" r="1.15"/>
<circle cx="266.3" cy="108.6" r="1.15"/>
<circle cx="266.4" cy="112.6" r="1.15"/>
<circle cx="266.8" cy="109.5" r="1.15"/>
<circle cx="263.8" cy="105.1" r="1.15"/>
<circle cx="269.9" cy="86.0" r="1.15"/>
<circle cx="269.0" cy="98.2" r="1.15"/>
<circle cx="263.4" cy="114.1" r="1.15"/>
<circle cx="264.6" cy="113.1" r="1.15"/>
<circle cx="267.3" cy="108.2" r="1.15"/>
<circle cx="267.3" cy="104.1" r="1.15"/>
<circle cx="269.3" cy="91.6" r="1.15"/>
<circle cx="262.1" cy="116.1" r="1.15"/>
<circle cx="264.2" cy="110.2" r="1.15"/>
<circle cx="263.3" cy="106.9" r="1.15"/>
<circle cx="270.9" cy="95.0" r="1.15"/>
<circle cx="270.1" cy="99.5" r="1.15"/>
<circle cx="269.5" cy="103.8" r="1.15"/>
<circle cx="263.5" cy="106.3" r="1.15"/>
<circle cx="269.4" cy="88.0" r="1.15"/>
<circle cx="269.1" cy="93.5" r="1.15"/>
<circle cx="269.8" cy="88.1" r="1.15"/>
<circle cx="263.0" cy="102.7" r="1.15"/>
<circle cx="264.1" cy="110.2" r="1.15"/>
<circle cx="270.1" cy="94.4" r="1.15"/>
<circle cx="269.1" cy="92.1" r="1.15"/>
<circle cx="262.8" cy="104.4" r="1.15"/>
<circle cx="269.4" cy="111.7" r="1.15"/>
<circle cx="263.0" cy="107.8" r="1.15"/>
<circle cx="265.0" cy="101.2" r="1.15"/>
<circle cx="264.6" cy="106.7" r="1.15"/>
<circle cx="267.9" cy="109.6" r="1.15"/>
<circle cx="269.3" cy="98.8" r="1.15"/>
<circle cx="264.0" cy="101.3" r="1.15"/>
<circle cx="266.5" cy="101.1" r="1.15"/>
<circle cx="269.4" cy="109.4" r="1.15"/>
<circle cx="270.4" cy="99.6" r="1.15"/>
<circle cx="262.9" cy="104.5" r="1.15"/>
<circle cx="270.3" cy="100.4" r="1.15"/>
<circle cx="266.0" cy="102.0" r="1.15"/>
<circle cx="265.4" cy="97.5" r="1.15"/>
<circle cx="265.2" cy="103.9" r="1.15"/>
<circle cx="267.0" cy="92.1" r="1.15"/>
<circle cx="268.7" cy="109.5" r="1.15"/>
<circle cx="264.9" cy="99.2" r="1.15"/>
<circle cx="267.2" cy="106.3" r="1.15"/>
<circle cx="267.7" cy="100.6" r="1.15"/>
<circle cx="265.8" cy="96.4" r="1.15"/>
<circle cx="265.4" cy="102.4" r="1.15"/>
<circle cx="263.5" cy="101.1" r="1.15"/>
<circle cx="263.3" cy="103.7" r="1.15"/>
<circle cx="263.5" cy="116.5" r="1.15"/>
<circle cx="270.6" cy="99.1" r="1.15"/>
<circle cx="263.8" cy="115.3" r="1.15"/>
<circle cx="265.5" cy="105.3" r="1.15"/>
<circle cx="270.1" cy="90.0" r="1.15"/>
<circle cx="264.8" cy="101.8" r="1.15"/>
<circle cx="268.0" cy="100.9" r="1.15"/>
<circle cx="266.7" cy="101.1" r="1.15"/>
<circle cx="262.4" cy="103.7" r="1.15"/>
<circle cx="264.4" cy="107.5" r="1.15"/>
<circle cx="268.0" cy="104.8" r="1.15"/>
<circle cx="276.6" cy="85.6" r="1.15"/>
<circle cx="274.4" cy="95.2" r="1.15"/>
<circle cx="278.1" cy="90.6" r="1.15"/>
<circle cx="275.5" cy="95.4" r="1.15"/>
<circle cx="271.5" cy="91.2" r="1.15"/>
<circle cx="276.0" cy="91.1" r="1.15"/>
<circle cx="277.9" cy="90.9" r="1.15"/>
<circle cx="275.3" cy="82.4" r="1.15"/>
<circle cx="276.7" cy="92.4" r="1.15"/>
<circle cx="276.3" cy="93.2" r="1.15"/>
<circle cx="273.3" cy="101.9" r="1.15"/>
<circle cx="279.6" cy="94.9" r="1.15"/>
<circle cx="278.3" cy="100.4" r="1.15"/>
<circle cx="273.3" cy="116.3" r="1.15"/>
<circle cx="278.1" cy="88.1" r="1.15"/>
<circle cx="278.2" cy="95.3" r="1.15"/>
<circle cx="273.8" cy="98.7" r="1.15"/>
<circle cx="278.4" cy="93.3" r="1.15"/>
<circle cx="271.2" cy="102.3" r="1.15"/>
<circle cx="277.3" cy="92.3" r="1.15"/>
<circle cx="272.9" cy="81.1" r="1.15"/>
<circle cx="273.8" cy="105.2" r="1.15"/>
<circle cx="274.9" cy="94.4" r="1.15"/>
<circle cx="272.6" cy="99.9" r="1.15"/>
<circle cx="275.5" cy="98.8" r="1.15"/>
<circle cx="273.3" cy="84.8" r="1.15"/>
<circle cx="279.3" cy="90.5" r="1.15"/>
<circle cx="272.7" cy="83.8" r="1.15"/>
<circle cx="276.5" cy="97.3" r="1.15"/>
<circle cx="279.7" cy="101.7" r="1.15"/>
<circle cx="278.9" cy="101.3" r="1.15"/>
<circle cx="272.3" cy="86.3" r="1.15"/>
<circle cx="278.0" cy="97.2" r="1.15"/>
<circle cx="275.9" cy="105.9" r="1.15"/>
<circle cx="279.0" cy="80.3" r="1.15"/>
<circle cx="277.4" cy="88.7" r="1.15"/>
<circle cx="271.0" cy="104.1" r="1.15"/>
<circle cx="278.3" cy="92.8" r="1.15"/>
<circle cx="275.6" cy="114.6" r="1.15"/>
<circle cx="273.8" cy="89.3" r="1.15"/>
<circle cx="272.7" cy="97.6" r="1.15"/>
<circle cx="276.2" cy="96.5" r="1.15"/>
<circle cx="276.6" cy="96.3" r="1.15"/>
<circle cx="271.4" cy="94.1" r="1.15"/>
<circle cx="273.0" cy="98.4" r="1.15"/>
<circle cx="279.0" cy="93.5" r="1.15"/>
<circle cx="272.9" cy="87.2" r="1.15"/>
<circle cx="277.5" cy="60.9" r="1.15"/>
<circle cx="278.0" cy="71.7" r="1.15"/>
<circle cx="271.3" cy="93.7" r="1.15"/>
<circle cx="279.2" cy="92.8" r="1.15"/>
<circle cx="271.1" cy="94.4" r="1.15"/>
<circle cx="272.6" cy="105.1" r="1.15"/>
<circle cx="277.9" cy="88.5" r="1.15"/>
<circle cx="275.8" cy="91.0" r="1.15"/>
<circle cx="278.0" cy="76.7" r="1.15"/>
<circle cx="273.5" cy="104.4" r="1.15"/>
<circle cx="278.3" cy="94.8" r="1.15"/>
<circle cx="272.7" cy="94.7" r="1.15"/>
<circle cx="274.0" cy="84.0" r="1.15"/>
<circle cx="271.8" cy="100.6" r="1.15"/>
<circle cx="276.3" cy="101.1" r="1.15"/>
<circle cx="271.9" cy="96.2" r="1.15"/>
<circle cx="274.5" cy="85.1" r="1.15"/>
<circle cx="278.0" cy="90.7" r="1.15"/>
<circle cx="276.9" cy="92.8" r="1.15"/>
<circle cx="279.3" cy="93.6" r="1.15"/>
<circle cx="274.0" cy="95.0" r="1.15"/>
<circle cx="276.7" cy="79.5" r="1.15"/>
<circle cx="277.6" cy="102.1" r="1.15"/>
<circle cx="272.9" cy="89.9" r="1.15"/>
<circle cx="277.8" cy="92.8" r="1.15"/>
<circle cx="278.2" cy="91.2" r="1.15"/>
<circle cx="279.5" cy="87.7" r="1.15"/>
<circle cx="279.2" cy="77.5" r="1.15"/>
<circle cx="271.7" cy="100.7" r="1.15"/>
<circle cx="273.2" cy="94.7" r="1.15"/>
<circle cx="277.0" cy="89.6" r="1.15"/>
<circle cx="273.2" cy="92.6" r="1.15"/>
<circle cx="277.0" cy="88.1" r="1.15"/>
<circle cx="276.1" cy="92.2" r="1.15"/>
<circle cx="271.5" cy="86.5" r="1.15"/>
<circle cx="272.2" cy="89.0" r="1.15"/>
<circle cx="273.3" cy="106.8" r="1.15"/>
<circle cx="274.5" cy="97.6" r="1.15"/>
<circle cx="279.2" cy="88.3" r="1.15"/>
<circle cx="272.9" cy="93.2" r="1.15"/>
<circle cx="271.0" cy="95.2" r="1.15"/>
<circle cx="276.1" cy="106.5" r="1.15"/>
<circle cx="279.6" cy="91.0" r="1.15"/>
<circle cx="271.5" cy="99.0" r="1.15"/>
<circle cx="278.5" cy="84.6" r="1.15"/>
<circle cx="272.1" cy="101.1" r="1.15"/>
<circle cx="271.9" cy="97.5" r="1.15"/>
<circle cx="277.7" cy="100.6" r="1.15"/>
<circle cx="274.1" cy="96.4" r="1.15"/>
<circle cx="276.8" cy="102.5" r="1.15"/>
<circle cx="271.9" cy="103.9" r="1.15"/>
<circle cx="275.2" cy="102.8" r="1.15"/>
<circle cx="271.5" cy="91.9" r="1.15"/>
<circle cx="271.5" cy="89.3" r="1.15"/>
<circle cx="279.4" cy="89.5" r="1.15"/>
<circle cx="273.0" cy="100.1" r="1.15"/>
<circle cx="273.3" cy="98.7" r="1.15"/>
<circle cx="274.9" cy="97.7" r="1.15"/>
<circle cx="272.0" cy="106.9" r="1.15"/>
<circle cx="276.7" cy="96.1" r="1.15"/>
<circle cx="275.7" cy="90.7" r="1.15"/>
<circle cx="272.2" cy="84.3" r="1.15"/>
<circle cx="274.2" cy="101.0" r="1.15"/>
<circle cx="278.9" cy="100.9" r="1.15"/>
<circle cx="272.1" cy="87.6" r="1.15"/>
<circle cx="274.5" cy="98.5" r="1.15"/>
<circle cx="275.1" cy="82.9" r="1.15"/>
<circle cx="276.4" cy="86.6" r="1.15"/>
<circle cx="275.0" cy="92.1" r="1.15"/>
<circle cx="273.9" cy="106.6" r="1.15"/>
<circle cx="278.3" cy="103.4" r="1.15"/>
<circle cx="274.9" cy="99.4" r="1.15"/>
<circle cx="272.0" cy="105.2" r="1.15"/>
<circle cx="276.1" cy="106.1" r="1.15"/>
<circle cx="276.1" cy="87.8" r="1.15"/>
<circle cx="278.5" cy="89.8" r="1.15"/>
<circle cx="271.4" cy="110.5" r="1.15"/>
<circle cx="273.5" cy="91.8" r="1.15"/>
<circle cx="278.4" cy="94.0" r="1.15"/>
<circle cx="273.1" cy="86.6" r="1.15"/>
<circle cx="279.4" cy="89.9" r="1.15"/>
<circle cx="272.5" cy="104.2" r="1.15"/>
<circle cx="275.6" cy="94.6" r="1.15"/>
<circle cx="275.1" cy="96.9" r="1.15"/>
<circle cx="276.9" cy="89.2" r="1.15"/>
<circle cx="277.9" cy="90.7" r="1.15"/>
<circle cx="274.5" cy="90.3" r="1.15"/>
<circle cx="274.1" cy="99.8" r="1.15"/>
<circle cx="272.8" cy="107.3" r="1.15"/>
<circle cx="274.6" cy="104.6" r="1.15"/>
<circle cx="276.1" cy="91.8" r="1.15"/>
<circle cx="274.8" cy="98.5" r="1.15"/>
<circle cx="272.3" cy="83.9" r="1.15"/>
<circle cx="276.6" cy="88.5" r="1.15"/>
<circle cx="277.7" cy="89.8" r="1.15"/>
<circle cx="278.4" cy="99.9" r="1.15"/>
<circle cx="275.6" cy="107.8" r="1.15"/>
<circle cx="272.4" cy="108.6" r="1.15"/>
<circle cx="277.2" cy="97.7" r="1.15"/>
<circle cx="279.5" cy="94.4" r="1.15"/>
<circle cx="274.6" cy="108.0" r="1.15"/>
<circle cx="272.3" cy="95.7" r="1.15"/>
<circle cx="277.9" cy="97.7" r="1.15"/>
<circle cx="279.1" cy="98.2" r="1.15"/>
<circle cx="274.3" cy="91.0" r="1.15"/>
<circle cx="271.7" cy="94.8" r="1.15"/>
<circle cx="277.9" cy="94.0" r="1.15"/>
<circle cx="272.1" cy="99.0" r="1.15"/>
<circle cx="273.0" cy="93.9" r="1.15"/>
<circle cx="271.2" cy="101.8" r="1.15"/>
<circle cx="277.0" cy="93.6" r="1.15"/>
<circle cx="276.8" cy="97.0" r="1.15"/>
<circle cx="278.2" cy="84.6" r="1.15"/>
<circle cx="273.7" cy="104.5" r="1.15"/>
<circle cx="271.3" cy="92.1" r="1.15"/>
<circle cx="275.0" cy="98.6" r="1.15"/>
<circle cx="274.1" cy="96.2" r="1.15"/>
<circle cx="271.5" cy="98.5" r="1.15"/>
<circle cx="272.9" cy="90.7" r="1.15"/>
<circle cx="274.2" cy="83.2" r="1.15"/>
<circle cx="271.8" cy="103.6" r="1.15"/>
<circle cx="279.6" cy="93.9" r="1.15"/>
<circle cx="273.6" cy="98.3" r="1.15"/>
<circle cx="274.8" cy="95.1" r="1.15"/>
<circle cx="271.4" cy="103.4" r="1.15"/>
<circle cx="271.5" cy="97.0" r="1.15"/>
<circle cx="272.4" cy="103.9" r="1.15"/>
<circle cx="273.1" cy="100.6" r="1.15"/>
<circle cx="278.8" cy="84.5" r="1.15"/>
<circle cx="273.5" cy="94.7" r="1.15"/>
<circle cx="272.6" cy="99.3" r="1.15"/>
<circle cx="273.1" cy="94.7" r="1.15"/>
<circle cx="278.5" cy="94.3" r="1.15"/>
<circle cx="272.6" cy="87.4" r="1.15"/>
<circle cx="271.0" cy="86.5" r="1.15"/>
<circle cx="273.8" cy="96.0" r="1.15"/>
<circle cx="274.2" cy="104.5" r="1.15"/>
<circle cx="279.0" cy="81.3" r="1.15"/>
<circle cx="273.1" cy="83.8" r="1.15"/>
<circle cx="277.6" cy="94.7" r="1.15"/>
<circle cx="278.4" cy="89.0" r="1.15"/>
<circle cx="274.0" cy="90.8" r="1.15"/>
<circle cx="279.2" cy="92.2" r="1.15"/>
<circle cx="278.6" cy="90.2" r="1.15"/>
<circle cx="277.8" cy="100.4" r="1.15"/>
<circle cx="271.8" cy="102.5" r="1.15"/>
<circle cx="271.5" cy="125.2" r="1.15"/>
<circle cx="277.5" cy="90.2" r="1.15"/>
<circle cx="279.4" cy="84.4" r="1.15"/>
<circle cx="278.9" cy="87.8" r="1.15"/>
<circle cx="271.8" cy="93.1" r="1.15"/>
<circle cx="274.6" cy="97.9" r="1.15"/>
<circle cx="274.1" cy="92.3" r="1.15"/>
<circle cx="271.2" cy="96.7" r="1.15"/>
<circle cx="271.7" cy="91.7" r="1.15"/>
<circle cx="272.9" cy="91.4" r="1.15"/>
<circle cx="279.7" cy="83.8" r="1.15"/>
<circle cx="272.7" cy="99.4" r="1.15"/>
<circle cx="275.8" cy="90.4" r="1.15"/>
<circle cx="279.8" cy="85.4" r="1.15"/>
<circle cx="275.8" cy="85.7" r="1.15"/>
<circle cx="272.7" cy="130.5" r="1.15"/>
<circle cx="278.9" cy="84.8" r="1.15"/>
<circle cx="272.2" cy="92.9" r="1.15"/>
<circle cx="273.2" cy="97.1" r="1.15"/>
<circle cx="271.7" cy="100.5" r="1.15"/>
<circle cx="273.9" cy="98.4" r="1.15"/>
<circle cx="275.5" cy="91.4" r="1.15"/>
<circle cx="276.1" cy="85.2" r="1.15"/>
<circle cx="273.3" cy="90.7" r="1.15"/>
<circle cx="274.8" cy="94.0" r="1.15"/>
<circle cx="272.2" cy="91.2" r="1.15"/>
<circle cx="277.7" cy="100.9" r="1.15"/>
<circle cx="276.4" cy="105.7" r="1.15"/>
<circle cx="272.6" cy="100.4" r="1.15"/>
<circle cx="274.8" cy="89.7" r="1.15"/>
<circle cx="272.7" cy="109.7" r="1.15"/>
<circle cx="277.1" cy="96.4" r="1.15"/>
<circle cx="274.0" cy="96.3" r="1.15"/>
<circle cx="276.0" cy="82.2" r="1.15"/>
<circle cx="274.0" cy="92.1" r="1.15"/>
<circle cx="273.5" cy="85.4" r="1.15"/>
<circle cx="272.2" cy="88.0" r="1.15"/>
<circle cx="276.9" cy="87.8" r="1.15"/>
<circle cx="272.5" cy="93.8" r="1.15"/>
<circle cx="273.8" cy="92.4" r="1.15"/>
<circle cx="274.0" cy="88.6" r="1.15"/>
<circle cx="273.9" cy="93.5" r="1.15"/>
<circle cx="274.2" cy="91.3" r="1.15"/>
<circle cx="273.3" cy="93.7" r="1.15"/>
<circle cx="271.1" cy="103.6" r="1.15"/>
<circle cx="272.9" cy="118.2" r="1.15"/>
<circle cx="273.2" cy="82.9" r="1.15"/>
<circle cx="275.8" cy="94.3" r="1.15"/>
<circle cx="272.6" cy="98.4" r="1.15"/>
<circle cx="278.7" cy="89.8" r="1.15"/>
<circle cx="271.4" cy="99.2" r="1.15"/>
<circle cx="271.9" cy="97.5" r="1.15"/>
<circle cx="279.5" cy="86.7" r="1.15"/>
<circle cx="273.1" cy="81.9" r="1.15"/>
<circle cx="272.5" cy="99.7" r="1.15"/>
<circle cx="271.4" cy="101.6" r="1.15"/>
<circle cx="277.9" cy="86.5" r="1.15"/>
<circle cx="273.9" cy="80.7" r="1.15"/>
<circle cx="275.9" cy="96.6" r="1.15"/>
<circle cx="270.9" cy="100.2" r="1.15"/>
<circle cx="278.0" cy="86.0" r="1.15"/>
<circle cx="274.5" cy="82.7" r="1.15"/>
<circle cx="273.7" cy="89.9" r="1.15"/>
<circle cx="277.9" cy="85.7" r="1.15"/>
<circle cx="277.6" cy="90.5" r="1.15"/>
<circle cx="275.2" cy="88.9" r="1.15"/>
<circle cx="277.6" cy="83.0" r="1.15"/>
<circle cx="276.1" cy="89.8" r="1.15"/>
<circle cx="271.8" cy="98.0" r="1.15"/>
<circle cx="277.4" cy="92.6" r="1.15"/>
<circle cx="275.3" cy="98.4" r="1.15"/>
<circle cx="274.2" cy="84.6" r="1.15"/>
<circle cx="276.0" cy="86.5" r="1.15"/>
<circle cx="274.5" cy="96.7" r="1.15"/>
<circle cx="272.2" cy="95.8" r="1.15"/>
<circle cx="277.5" cy="95.1" r="1.15"/>
<circle cx="278.1" cy="100.8" r="1.15"/>
<circle cx="278.5" cy="97.9" r="1.15"/>
<circle cx="277.3" cy="92.8" r="1.15"/>
<circle cx="272.1" cy="105.2" r="1.15"/>
<circle cx="273.9" cy="87.0" r="1.15"/>
<circle cx="273.1" cy="93.1" r="1.15"/>
<circle cx="279.5" cy="84.0" r="1.15"/>
<circle cx="274.8" cy="83.6" r="1.15"/>
<circle cx="277.5" cy="83.0" r="1.15"/>
<circle cx="279.1" cy="89.0" r="1.15"/>
<circle cx="272.4" cy="99.8" r="1.15"/>
<circle cx="274.2" cy="94.9" r="1.15"/>
<circle cx="278.8" cy="83.9" r="1.15"/>
<circle cx="276.1" cy="96.5" r="1.15"/>
<circle cx="271.2" cy="103.2" r="1.15"/>
<circle cx="275.9" cy="87.5" r="1.15"/>
<circle cx="276.5" cy="88.2" r="1.15"/>
<circle cx="276.3" cy="84.9" r="1.15"/>
<circle cx="271.5" cy="99.4" r="1.15"/>
<circle cx="275.8" cy="94.1" r="1.15"/>
<circle cx="276.8" cy="79.4" r="1.15"/>
<circle cx="277.2" cy="80.1" r="1.15"/>
<circle cx="279.5" cy="96.7" r="1.15"/>
<circle cx="278.9" cy="96.6" r="1.15"/>
<circle cx="272.5" cy="98.9" r="1.15"/>
<circle cx="278.7" cy="88.7" r="1.15"/>
<circle cx="277.1" cy="90.5" r="1.15"/>
<circle cx="278.3" cy="96.1" r="1.15"/>
<circle cx="272.2" cy="83.5" r="1.15"/>
<circle cx="279.7" cy="89.7" r="1.15"/>
<circle cx="275.8" cy="96.1" r="1.15"/>
<circle cx="272.3" cy="96.1" r="1.15"/>
<circle cx="275.4" cy="93.8" r="1.15"/>
<circle cx="271.0" cy="110.1" r="1.15"/>
<circle cx="277.6" cy="96.3" r="1.15"/>
<circle cx="275.1" cy="96.4" r="1.15"/>
<circle cx="276.8" cy="88.1" r="1.15"/>
<circle cx="276.3" cy="105.6" r="1.15"/>
<circle cx="271.7" cy="100.3" r="1.15"/>
<circle cx="279.2" cy="99.5" r="1.15"/>
<circle cx="279.0" cy="101.5" r="1.15"/>
<circle cx="272.0" cy="97.8" r="1.15"/>
<circle cx="271.4" cy="101.3" r="1.15"/>
<circle cx="277.3" cy="95.2" r="1.15"/>
<circle cx="276.8" cy="97.3" r="1.15"/>
<circle cx="274.4" cy="91.6" r="1.15"/>
<circle cx="273.9" cy="97.8" r="1.15"/>
<circle cx="277.0" cy="101.5" r="1.15"/>
<circle cx="279.7" cy="95.3" r="1.15"/>
<circle cx="272.6" cy="95.3" r="1.15"/>
<circle cx="279.2" cy="95.7" r="1.15"/>
<circle cx="272.0" cy="88.0" r="1.15"/>
<circle cx="271.3" cy="100.7" r="1.15"/>
<circle cx="271.4" cy="94.3" r="1.15"/>
<circle cx="274.2" cy="92.8" r="1.15"/>
<circle cx="270.9" cy="89.3" r="1.15"/>
<circle cx="272.3" cy="100.2" r="1.15"/>
<circle cx="276.9" cy="90.4" r="1.15"/>
<circle cx="271.3" cy="89.4" r="1.15"/>
<circle cx="279.0" cy="79.5" r="1.15"/>
<circle cx="276.6" cy="95.6" r="1.15"/>
<circle cx="275.2" cy="94.5" r="1.15"/>
<circle cx="272.9" cy="97.1" r="1.15"/>
<circle cx="276.8" cy="91.8" r="1.15"/>
<circle cx="277.1" cy="90.1" r="1.15"/>
<circle cx="275.4" cy="95.2" r="1.15"/>
<circle cx="278.2" cy="92.9" r="1.15"/>
<circle cx="274.1" cy="91.0" r="1.15"/>
<circle cx="272.7" cy="89.0" r="1.15"/>
<circle cx="276.5" cy="102.8" r="1.15"/>
<circle cx="271.2" cy="89.8" r="1.15"/>
<circle cx="278.0" cy="94.9" r="1.15"/>
<circle cx="277.4" cy="96.8" r="1.15"/>
<circle cx="277.2" cy="84.4" r="1.15"/>
<circle cx="274.6" cy="96.9" r="1.15"/>
<circle cx="273.4" cy="89.3" r="1.15"/>
<circle cx="278.8" cy="93.0" r="1.15"/>
<circle cx="272.0" cy="97.8" r="1.15"/>
<circle cx="273.2" cy="109.8" r="1.15"/>
<circle cx="271.0" cy="94.6" r="1.15"/>
<circle cx="276.4" cy="95.5" r="1.15"/>
<circle cx="273.5" cy="89.7" r="1.15"/>
<circle cx="276.1" cy="103.3" r="1.15"/>
<circle cx="276.6" cy="100.9" r="1.15"/>
<circle cx="273.7" cy="96.9" r="1.15"/>
<circle cx="279.7" cy="88.0" r="1.15"/>
<circle cx="274.2" cy="88.6" r="1.15"/>
<circle cx="278.0" cy="91.5" r="1.15"/>
<circle cx="279.7" cy="101.0" r="1.15"/>
<circle cx="276.4" cy="89.7" r="1.15"/>
<circle cx="278.0" cy="92.3" r="1.15"/>
<circle cx="279.7" cy="100.4" r="1.15"/>
<circle cx="271.7" cy="99.5" r="1.15"/>
<circle cx="273.5" cy="93.7" r="1.15"/>
<circle cx="275.4" cy="94.7" r="1.15"/>
<circle cx="278.7" cy="91.0" r="1.15"/>
<circle cx="273.4" cy="96.5" r="1.15"/>
<circle cx="276.7" cy="92.8" r="1.15"/>
<circle cx="273.9" cy="92.7" r="1.15"/>
<circle cx="272.3" cy="96.5" r="1.15"/>
<circle cx="273.0" cy="94.2" r="1.15"/>
<circle cx="277.4" cy="87.7" r="1.15"/>
<circle cx="272.9" cy="92.0" r="1.15"/>
<circle cx="275.1" cy="94.1" r="1.15"/>
<circle cx="273.2" cy="102.9" r="1.15"/>
<circle cx="275.4" cy="98.0" r="1.15"/>
<circle cx="276.4" cy="92.7" r="1.15"/>
<circle cx="276.4" cy="96.4" r="1.15"/>
<circle cx="278.3" cy="90.7" r="1.15"/>
<circle cx="279.5" cy="92.0" r="1.15"/>
<circle cx="271.2" cy="92.1" r="1.15"/>
<circle cx="278.4" cy="93.0" r="1.15"/>
<circle cx="278.8" cy="84.2" r="1.15"/>
<circle cx="278.6" cy="94.2" r="1.15"/>
<circle cx="273.9" cy="79.6" r="1.15"/>
<circle cx="272.0" cy="97.1" r="1.15"/>
<circle cx="278.9" cy="82.0" r="1.15"/>
<circle cx="273.4" cy="92.5" r="1.15"/>
<circle cx="271.7" cy="90.9" r="1.15"/>
<circle cx="272.2" cy="94.4" r="1.15"/>
<circle cx="272.6" cy="92.1" r="1.15"/>
<circle cx="273.1" cy="104.0" r="1.15"/>
<circle cx="279.4" cy="96.3" r="1.15"/>
<circle cx="277.6" cy="92.8" r="1.15"/>
<circle cx="274.0" cy="94.2" r="1.15"/>
<circle cx="272.3" cy="93.6" r="1.15"/>
<circle cx="272.7" cy="99.3" r="1.15"/>
<circle cx="273.4" cy="96.5" r="1.15"/>
<circle cx="272.8" cy="101.6" r="1.15"/>
<circle cx="278.3" cy="93.3" r="1.15"/>
<circle cx="277.8" cy="81.8" r="1.15"/>
<circle cx="278.1" cy="87.7" r="1.15"/>
<circle cx="271.8" cy="104.5" r="1.15"/>
<circle cx="278.6" cy="98.5" r="1.15"/>
<circle cx="272.6" cy="96.7" r="1.15"/>
<circle cx="278.3" cy="85.0" r="1.15"/>
<circle cx="279.2" cy="92.3" r="1.15"/>
<circle cx="275.7" cy="89.9" r="1.15"/>
<circle cx="272.9" cy="96.2" r="1.15"/>
<circle cx="271.5" cy="98.7" r="1.15"/>
<circle cx="277.4" cy="89.1" r="1.15"/>
<circle cx="273.1" cy="104.1" r="1.15"/>
<circle cx="273.1" cy="94.5" r="1.15"/>
<circle cx="277.3" cy="103.8" r="1.15"/>
<circle cx="271.9" cy="91.3" r="1.15"/>
<circle cx="271.2" cy="94.8" r="1.15"/>
<circle cx="273.7" cy="81.6" r="1.15"/>
<circle cx="274.8" cy="87.6" r="1.15"/>
<circle cx="272.5" cy="91.0" r="1.15"/>
<circle cx="275.9" cy="95.1" r="1.15"/>
<circle cx="278.6" cy="99.8" r="1.15"/>
<circle cx="274.2" cy="93.6" r="1.15"/>
<circle cx="276.5" cy="100.3" r="1.15"/>
<circle cx="277.2" cy="92.4" r="1.15"/>
<circle cx="276.7" cy="108.0" r="1.15"/>
<circle cx="276.2" cy="98.4" r="1.15"/>
<circle cx="277.9" cy="92.2" r="1.15"/>
<circle cx="277.4" cy="90.3" r="1.15"/>
<circle cx="279.2" cy="95.8" r="1.15"/>
<circle cx="272.5" cy="102.1" r="1.15"/>
<circle cx="275.5" cy="90.4" r="1.15"/>
<circle cx="272.9" cy="92.6" r="1.15"/>
<circle cx="274.4" cy="107.8" r="1.15"/>
<circle cx="274.9" cy="95.6" r="1.15"/>
<circle cx="273.4" cy="91.2" r="1.15"/>
<circle cx="287.7" cy="89.5" r="1.15"/>
<circle cx="283.7" cy="85.5" r="1.15"/>
<circle cx="280.3" cy="94.3" r="1.15"/>
<circle cx="280.0" cy="101.0" r="1.15"/>
<circle cx="281.1" cy="103.1" r="1.15"/>
<circle cx="284.4" cy="86.3" r="1.15"/>
<circle cx="281.9" cy="96.0" r="1.15"/>
<circle cx="288.2" cy="82.1" r="1.15"/>
<circle cx="280.3" cy="88.6" r="1.15"/>
<circle cx="284.2" cy="88.8" r="1.15"/>
<circle cx="282.4" cy="87.5" r="1.15"/>
<circle cx="284.2" cy="91.1" r="1.15"/>
<circle cx="286.2" cy="83.6" r="1.15"/>
<circle cx="288.5" cy="73.7" r="1.15"/>
<circle cx="287.0" cy="79.4" r="1.15"/>
<circle cx="287.0" cy="88.8" r="1.15"/>
<circle cx="282.1" cy="89.8" r="1.15"/>
<circle cx="280.6" cy="92.8" r="1.15"/>
<circle cx="285.9" cy="102.4" r="1.15"/>
<circle cx="281.5" cy="92.6" r="1.15"/>
<circle cx="286.0" cy="83.3" r="1.15"/>
<circle cx="284.4" cy="71.2" r="1.15"/>
<circle cx="288.6" cy="78.4" r="1.15"/>
<circle cx="286.1" cy="78.6" r="1.15"/>
<circle cx="286.8" cy="84.4" r="1.15"/>
<circle cx="287.3" cy="90.1" r="1.15"/>
<circle cx="284.8" cy="97.3" r="1.15"/>
<circle cx="286.1" cy="78.0" r="1.15"/>
<circle cx="282.5" cy="96.1" r="1.15"/>
<circle cx="283.2" cy="80.4" r="1.15"/>
<circle cx="279.8" cy="102.5" r="1.15"/>
<circle cx="280.7" cy="91.5" r="1.15"/>
<circle cx="282.3" cy="78.6" r="1.15"/>
<circle cx="280.9" cy="88.7" r="1.15"/>
<circle cx="286.0" cy="84.7" r="1.15"/>
<circle cx="282.1" cy="88.5" r="1.15"/>
<circle cx="286.7" cy="73.5" r="1.15"/>
<circle cx="284.8" cy="87.1" r="1.15"/>
<circle cx="282.7" cy="78.3" r="1.15"/>
<circle cx="288.1" cy="80.8" r="1.15"/>
<circle cx="282.6" cy="85.5" r="1.15"/>
<circle cx="285.9" cy="94.3" r="1.15"/>
<circle cx="282.7" cy="78.4" r="1.15"/>
<circle cx="285.4" cy="88.8" r="1.15"/>
<circle cx="283.8" cy="100.9" r="1.15"/>
<circle cx="284.0" cy="77.4" r="1.15"/>
<circle cx="286.7" cy="90.1" r="1.15"/>
<circle cx="283.3" cy="87.9" r="1.15"/>
<circle cx="288.6" cy="96.1" r="1.15"/>
<circle cx="280.3" cy="77.4" r="1.15"/>
<circle cx="287.2" cy="90.4" r="1.15"/>
<circle cx="282.1" cy="94.6" r="1.15"/>
<circle cx="284.1" cy="84.7" r="1.15"/>
<circle cx="285.1" cy="73.5" r="1.15"/>
<circle cx="286.5" cy="70.4" r="1.15"/>
<circle cx="282.2" cy="82.2" r="1.15"/>
<circle cx="284.9" cy="83.5" r="1.15"/>
<circle cx="282.7" cy="76.2" r="1.15"/>
<circle cx="284.8" cy="91.6" r="1.15"/>
<circle cx="286.2" cy="81.6" r="1.15"/>
<circle cx="284.5" cy="88.8" r="1.15"/>
<circle cx="287.6" cy="102.3" r="1.15"/>
<circle cx="286.8" cy="103.6" r="1.15"/>
<circle cx="281.9" cy="88.8" r="1.15"/>
<circle cx="285.2" cy="75.1" r="1.15"/>
<circle cx="288.2" cy="86.1" r="1.15"/>
<circle cx="286.9" cy="74.2" r="1.15"/>
<circle cx="279.9" cy="88.9" r="1.15"/>
<circle cx="287.2" cy="83.2" r="1.15"/>
<circle cx="282.7" cy="92.2" r="1.15"/>
<circle cx="284.9" cy="86.3" r="1.15"/>
<circle cx="287.1" cy="77.9" r="1.15"/>
<circle cx="281.8" cy="113.2" r="1.15"/>
<circle cx="287.5" cy="81.7" r="1.15"/>
<circle cx="285.4" cy="77.1" r="1.15"/>
<circle cx="288.0" cy="73.9" r="1.15"/>
<circle cx="284.8" cy="93.0" r="1.15"/>
<circle cx="287.4" cy="82.1" r="1.15"/>
<circle cx="280.9" cy="93.3" r="1.15"/>
<circle cx="282.3" cy="88.7" r="1.15"/>
<circle cx="280.7" cy="94.1" r="1.15"/>
<circle cx="286.5" cy="90.8" r="1.15"/>
<circle cx="285.7" cy="92.8" r="1.15"/>
<circle cx="282.8" cy="77.7" r="1.15"/>
<circle cx="284.5" cy="94.8" r="1.15"/>
<circle cx="282.3" cy="96.5" r="1.15"/>
<circle cx="287.5" cy="79.9" r="1.15"/>
<circle cx="288.1" cy="80.5" r="1.15"/>
<circle cx="282.1" cy="89.1" r="1.15"/>
<circle cx="283.6" cy="84.3" r="1.15"/>
<circle cx="287.7" cy="83.3" r="1.15"/>
<circle cx="288.0" cy="88.0" r="1.15"/>
<circle cx="283.7" cy="71.1" r="1.15"/>
<circle cx="284.0" cy="84.0" r="1.15"/>
<circle cx="287.5" cy="78.8" r="1.15"/>
<circle cx="287.1" cy="80.1" r="1.15"/>
<circle cx="283.9" cy="83.7" r="1.15"/>
<circle cx="280.6" cy="95.6" r="1.15"/>
<circle cx="284.9" cy="80.1" r="1.15"/>
<circle cx="280.7" cy="112.2" r="1.15"/>
<circle cx="283.8" cy="90.7" r="1.15"/>
<circle cx="281.3" cy="88.1" r="1.15"/>
<circle cx="282.0" cy="83.0" r="1.15"/>
<circle cx="284.8" cy="97.7" r="1.15"/>
<circle cx="286.7" cy="84.7" r="1.15"/>
<circle cx="284.6" cy="95.2" r="1.15"/>
<circle cx="285.9" cy="78.0" r="1.15"/>
<circle cx="280.4" cy="96.8" r="1.15"/>
<circle cx="284.1" cy="91.6" r="1.15"/>
<circle cx="286.3" cy="91.4" r="1.15"/>
<circle cx="281.4" cy="82.7" r="1.15"/>
<circle cx="282.9" cy="85.7" r="1.15"/>
<circle cx="284.8" cy="77.3" r="1.15"/>
<circle cx="285.5" cy="86.4" r="1.15"/>
<circle cx="279.9" cy="79.3" r="1.15"/>
<circle cx="282.5" cy="85.0" r="1.15"/>
<circle cx="282.9" cy="76.5" r="1.15"/>
<circle cx="283.1" cy="94.6" r="1.15"/>
<circle cx="284.6" cy="88.6" r="1.15"/>
<circle cx="286.7" cy="86.9" r="1.15"/>
<circle cx="286.6" cy="94.0" r="1.15"/>
<circle cx="285.7" cy="81.1" r="1.15"/>
<circle cx="285.7" cy="80.4" r="1.15"/>
<circle cx="281.5" cy="97.5" r="1.15"/>
<circle cx="286.3" cy="90.6" r="1.15"/>
<circle cx="286.5" cy="92.5" r="1.15"/>
<circle cx="282.2" cy="82.2" r="1.15"/>
<circle cx="286.0" cy="76.4" r="1.15"/>
<circle cx="279.9" cy="96.9" r="1.15"/>
<circle cx="287.8" cy="79.1" r="1.15"/>
<circle cx="279.9" cy="101.2" r="1.15"/>
<circle cx="283.0" cy="93.5" r="1.15"/>
<circle cx="283.7" cy="80.1" r="1.15"/>
<circle cx="282.8" cy="83.4" r="1.15"/>
<circle cx="282.7" cy="86.5" r="1.15"/>
<circle cx="288.0" cy="89.8" r="1.15"/>
<circle cx="284.5" cy="85.9" r="1.15"/>
<circle cx="281.5" cy="87.5" r="1.15"/>
<circle cx="286.1" cy="99.0" r="1.15"/>
<circle cx="282.2" cy="96.2" r="1.15"/>
<circle cx="286.8" cy="82.6" r="1.15"/>
<circle cx="281.7" cy="85.5" r="1.15"/>
<circle cx="283.3" cy="78.3" r="1.15"/>
<circle cx="281.6" cy="83.6" r="1.15"/>
<circle cx="286.7" cy="82.2" r="1.15"/>
<circle cx="280.7" cy="86.6" r="1.15"/>
<circle cx="283.4" cy="88.8" r="1.15"/>
<circle cx="286.9" cy="82.0" r="1.15"/>
<circle cx="280.0" cy="88.6" r="1.15"/>
<circle cx="283.6" cy="80.8" r="1.15"/>
<circle cx="286.0" cy="84.2" r="1.15"/>
<circle cx="283.7" cy="91.6" r="1.15"/>
<circle cx="288.0" cy="87.2" r="1.15"/>
<circle cx="286.3" cy="81.8" r="1.15"/>
<circle cx="285.0" cy="87.4" r="1.15"/>
<circle cx="283.5" cy="82.5" r="1.15"/>
<circle cx="288.2" cy="83.2" r="1.15"/>
<circle cx="284.2" cy="86.9" r="1.15"/>
<circle cx="280.9" cy="96.3" r="1.15"/>
<circle cx="283.9" cy="80.7" r="1.15"/>
<circle cx="284.3" cy="98.1" r="1.15"/>
<circle cx="282.6" cy="89.3" r="1.15"/>
<circle cx="284.1" cy="77.8" r="1.15"/>
<circle cx="282.5" cy="89.7" r="1.15"/>
<circle cx="286.7" cy="78.2" r="1.15"/>
<circle cx="288.5" cy="88.5" r="1.15"/>
<circle cx="286.4" cy="79.9" r="1.15"/>
<circle cx="288.0" cy="80.0" r="1.15"/>
<circle cx="286.5" cy="91.0" r="1.15"/>
<circle cx="283.6" cy="90.9" r="1.15"/>
<circle cx="283.1" cy="95.7" r="1.15"/>
<circle cx="283.3" cy="90.9" r="1.15"/>
<circle cx="279.9" cy="87.7" r="1.15"/>
<circle cx="282.7" cy="90.6" r="1.15"/>
<circle cx="287.7" cy="87.2" r="1.15"/>
<circle cx="286.9" cy="85.1" r="1.15"/>
<circle cx="287.4" cy="81.0" r="1.15"/>
<circle cx="286.1" cy="91.8" r="1.15"/>
<circle cx="280.4" cy="83.1" r="1.15"/>
<circle cx="288.1" cy="88.0" r="1.15"/>
<circle cx="282.0" cy="93.5" r="1.15"/>
<circle cx="282.8" cy="86.6" r="1.15"/>
<circle cx="281.4" cy="79.7" r="1.15"/>
<circle cx="282.7" cy="92.1" r="1.15"/>
<circle cx="285.4" cy="95.2" r="1.15"/>
<circle cx="281.3" cy="82.2" r="1.15"/>
<circle cx="282.0" cy="91.8" r="1.15"/>
<circle cx="282.1" cy="91.1" r="1.15"/>
<circle cx="280.9" cy="89.3" r="1.15"/>
<circle cx="283.4" cy="79.9" r="1.15"/>
<circle cx="283.6" cy="83.7" r="1.15"/>
<circle cx="285.8" cy="87.6" r="1.15"/>
<circle cx="283.0" cy="91.2" r="1.15"/>
<circle cx="281.4" cy="92.2" r="1.15"/>
<circle cx="286.1" cy="96.9" r="1.15"/>
<circle cx="287.1" cy="91.9" r="1.15"/>
<circle cx="282.3" cy="78.3" r="1.15"/>
<circle cx="287.6" cy="98.4" r="1.15"/>
<circle cx="282.1" cy="84.0" r="1.15"/>
<circle cx="281.9" cy="92.8" r="1.15"/>
<circle cx="288.5" cy="81.1" r="1.15"/>
<circle cx="282.9" cy="98.8" r="1.15"/>
<circle cx="286.9" cy="82.6" r="1.15"/>
<circle cx="282.2" cy="86.3" r="1.15"/>
<circle cx="282.9" cy="86.0" r="1.15"/>
<circle cx="281.2" cy="90.8" r="1.15"/>
<circle cx="287.5" cy="90.7" r="1.15"/>
<circle cx="284.0" cy="79.1" r="1.15"/>
<circle cx="280.2" cy="102.5" r="1.15"/>
<circle cx="285.1" cy="88.4" r="1.15"/>
<circle cx="285.9" cy="79.9" r="1.15"/>
<circle cx="281.2" cy="100.0" r="1.15"/>
<circle cx="283.4" cy="87.2" r="1.15"/>
<circle cx="283.4" cy="88.9" r="1.15"/>
<circle cx="287.5" cy="76.0" r="1.15"/>
<circle cx="284.9" cy="89.2" r="1.15"/>
<circle cx="282.6" cy="89.6" r="1.15"/>
<circle cx="286.8" cy="86.0" r="1.15"/>
<circle cx="286.5" cy="92.3" r="1.15"/>
<circle cx="287.2" cy="84.1" r="1.15"/>
<circle cx="284.3" cy="80.8" r="1.15"/>
<circle cx="283.4" cy="84.8" r="1.15"/>
<circle cx="282.2" cy="91.9" r="1.15"/>
<circle cx="281.5" cy="90.2" r="1.15"/>
<circle cx="284.7" cy="91.5" r="1.15"/>
<circle cx="287.9" cy="83.7" r="1.15"/>
<circle cx="286.9" cy="90.4" r="1.15"/>
<circle cx="281.9" cy="88.9" r="1.15"/>
<circle cx="281.2" cy="82.2" r="1.15"/>
<circle cx="284.0" cy="74.8" r="1.15"/>
<circle cx="282.5" cy="86.0" r="1.15"/>
<circle cx="287.6" cy="79.3" r="1.15"/>
<circle cx="284.5" cy="84.6" r="1.15"/>
<circle cx="284.1" cy="90.2" r="1.15"/>
<circle cx="287.1" cy="81.4" r="1.15"/>
<circle cx="280.9" cy="104.2" r="1.15"/>
<circle cx="282.1" cy="84.1" r="1.15"/>
<circle cx="284.7" cy="88.9" r="1.15"/>
<circle cx="288.4" cy="81.0" r="1.15"/>
<circle cx="280.9" cy="88.8" r="1.15"/>
<circle cx="287.2" cy="96.9" r="1.15"/>
<circle cx="282.2" cy="96.6" r="1.15"/>
<circle cx="284.5" cy="81.9" r="1.15"/>
<circle cx="282.4" cy="83.2" r="1.15"/>
<circle cx="283.9" cy="91.4" r="1.15"/>
<circle cx="281.4" cy="75.7" r="1.15"/>
<circle cx="284.1" cy="80.2" r="1.15"/>
<circle cx="280.8" cy="100.7" r="1.15"/>
<circle cx="285.1" cy="78.1" r="1.15"/>
<circle cx="282.7" cy="84.7" r="1.15"/>
<circle cx="287.1" cy="75.0" r="1.15"/>
<circle cx="284.6" cy="79.4" r="1.15"/>
<circle cx="283.1" cy="84.2" r="1.15"/>
<circle cx="280.0" cy="93.9" r="1.15"/>
<circle cx="284.9" cy="78.4" r="1.15"/>
<circle cx="287.1" cy="119.2" r="1.15"/>
<circle cx="282.0" cy="87.9" r="1.15"/>
<circle cx="285.6" cy="82.8" r="1.15"/>
<circle cx="282.9" cy="82.8" r="1.15"/>
<circle cx="283.9" cy="74.9" r="1.15"/>
<circle cx="282.2" cy="77.0" r="1.15"/>
<circle cx="287.3" cy="82.3" r="1.15"/>
<circle cx="287.4" cy="67.5" r="1.15"/>
<circle cx="284.5" cy="85.9" r="1.15"/>
<circle cx="281.4" cy="94.7" r="1.15"/>
<circle cx="280.6" cy="93.3" r="1.15"/>
<circle cx="287.4" cy="90.8" r="1.15"/>
<circle cx="285.1" cy="95.8" r="1.15"/>
<circle cx="285.0" cy="92.2" r="1.15"/>
<circle cx="280.7" cy="86.3" r="1.15"/>
<circle cx="282.6" cy="90.7" r="1.15"/>
<circle cx="282.7" cy="95.0" r="1.15"/>
<circle cx="283.8" cy="86.4" r="1.15"/>
<circle cx="283.1" cy="83.0" r="1.15"/>
<circle cx="284.0" cy="90.1" r="1.15"/>
<circle cx="283.9" cy="74.7" r="1.15"/>
<circle cx="282.7" cy="86.2" r="1.15"/>
<circle cx="285.9" cy="81.5" r="1.15"/>
<circle cx="285.6" cy="84.7" r="1.15"/>
<circle cx="280.4" cy="85.3" r="1.15"/>
<circle cx="288.0" cy="100.8" r="1.15"/>
<circle cx="283.6" cy="111.2" r="1.15"/>
<circle cx="281.6" cy="85.7" r="1.15"/>
<circle cx="285.3" cy="91.1" r="1.15"/>
<circle cx="282.0" cy="89.3" r="1.15"/>
<circle cx="282.4" cy="85.4" r="1.15"/>
<circle cx="283.2" cy="82.8" r="1.15"/>
<circle cx="287.9" cy="82.1" r="1.15"/>
<circle cx="280.1" cy="88.5" r="1.15"/>
<circle cx="282.2" cy="95.7" r="1.15"/>
<circle cx="282.9" cy="93.8" r="1.15"/>
<circle cx="288.5" cy="86.0" r="1.15"/>
<circle cx="280.8" cy="78.3" r="1.15"/>
<circle cx="280.9" cy="67.6" r="1.15"/>
<circle cx="287.1" cy="87.5" r="1.15"/>
<circle cx="282.7" cy="74.2" r="1.15"/>
<circle cx="288.5" cy="74.2" r="1.15"/>
<circle cx="288.5" cy="76.5" r="1.15"/>
<circle cx="286.4" cy="82.4" r="1.15"/>
<circle cx="280.3" cy="88.2" r="1.15"/>
<circle cx="286.0" cy="84.5" r="1.15"/>
<circle cx="286.4" cy="77.5" r="1.15"/>
<circle cx="286.3" cy="90.2" r="1.15"/>
<circle cx="280.6" cy="97.0" r="1.15"/>
<circle cx="286.3" cy="81.3" r="1.15"/>
<circle cx="285.3" cy="88.8" r="1.15"/>
<circle cx="281.1" cy="86.1" r="1.15"/>
<circle cx="282.1" cy="95.6" r="1.15"/>
<circle cx="284.1" cy="82.7" r="1.15"/>
<circle cx="286.8" cy="80.6" r="1.15"/>
<circle cx="280.9" cy="95.3" r="1.15"/>
<circle cx="280.0" cy="100.6" r="1.15"/>
<circle cx="281.6" cy="92.1" r="1.15"/>
<circle cx="282.7" cy="97.7" r="1.15"/>
<circle cx="287.2" cy="93.6" r="1.15"/>
<circle cx="287.8" cy="77.9" r="1.15"/>
<circle cx="280.9" cy="95.5" r="1.15"/>
<circle cx="285.3" cy="83.8" r="1.15"/>
<circle cx="280.4" cy="81.1" r="1.15"/>
<circle cx="287.2" cy="80.5" r="1.15"/>
<circle cx="281.3" cy="84.1" r="1.15"/>
<circle cx="287.2" cy="80.3" r="1.15"/>
<circle cx="285.8" cy="87.8" r="1.15"/>
<circle cx="281.4" cy="88.1" r="1.15"/>
<circle cx="284.4" cy="86.2" r="1.15"/>
<circle cx="281.3" cy="100.4" r="1.15"/>
<circle cx="287.7" cy="91.0" r="1.15"/>
<circle cx="284.5" cy="72.3" r="1.15"/>
<circle cx="285.1" cy="84.2" r="1.15"/>
<circle cx="284.5" cy="82.7" r="1.15"/>
<circle cx="284.6" cy="76.0" r="1.15"/>
<circle cx="286.1" cy="69.5" r="1.15"/>
<circle cx="281.7" cy="89.1" r="1.15"/>
<circle cx="281.7" cy="86.9" r="1.15"/>
<circle cx="286.2" cy="77.4" r="1.15"/>
<circle cx="285.7" cy="81.9" r="1.15"/>
<circle cx="280.0" cy="96.8" r="1.15"/>
<circle cx="284.1" cy="78.1" r="1.15"/>
<circle cx="281.3" cy="90.4" r="1.15"/>
<circle cx="283.2" cy="86.6" r="1.15"/>
<circle cx="282.3" cy="87.3" r="1.15"/>
<circle cx="286.8" cy="79.7" r="1.15"/>
<circle cx="283.1" cy="83.7" r="1.15"/>
<circle cx="284.9" cy="78.6" r="1.15"/>
<circle cx="282.7" cy="82.7" r="1.15"/>
<circle cx="288.3" cy="84.1" r="1.15"/>
<circle cx="283.1" cy="86.4" r="1.15"/>
<circle cx="282.2" cy="94.6" r="1.15"/>
<circle cx="288.5" cy="88.0" r="1.15"/>
<circle cx="283.5" cy="85.4" r="1.15"/>
<circle cx="287.7" cy="74.6" r="1.15"/>
<circle cx="284.0" cy="96.6" r="1.15"/>
<circle cx="281.2" cy="87.8" r="1.15"/>
<circle cx="284.0" cy="89.1" r="1.15"/>
<circle cx="286.2" cy="72.8" r="1.15"/>
<circle cx="285.1" cy="81.9" r="1.15"/>
<circle cx="281.9" cy="87.6" r="1.15"/>
<circle cx="284.0" cy="85.7" r="1.15"/>
<circle cx="287.2" cy="77.7" r="1.15"/>
<circle cx="283.2" cy="82.1" r="1.15"/>
<circle cx="281.0" cy="79.1" r="1.15"/>
<circle cx="280.7" cy="89.5" r="1.15"/>
<circle cx="282.3" cy="97.8" r="1.15"/>
<circle cx="286.4" cy="77.7" r="1.15"/>
<circle cx="281.8" cy="97.8" r="1.15"/>
<circle cx="280.5" cy="123.4" r="1.15"/>
<circle cx="282.9" cy="92.6" r="1.15"/>
<circle cx="280.7" cy="88.1" r="1.15"/>
<circle cx="285.9" cy="98.5" r="1.15"/>
<circle cx="285.4" cy="79.5" r="1.15"/>
<circle cx="286.8" cy="76.8" r="1.15"/>
<circle cx="280.8" cy="91.0" r="1.15"/>
<circle cx="287.4" cy="59.4" r="1.15"/>
<circle cx="279.9" cy="91.4" r="1.15"/>
<circle cx="280.8" cy="82.3" r="1.15"/>
<circle cx="279.8" cy="85.2" r="1.15"/>
<circle cx="280.8" cy="97.5" r="1.15"/>
<circle cx="282.0" cy="83.7" r="1.15"/>
<circle cx="284.9" cy="82.0" r="1.15"/>
<circle cx="283.6" cy="83.0" r="1.15"/>
<circle cx="284.9" cy="89.4" r="1.15"/>
<circle cx="284.3" cy="81.4" r="1.15"/>
<circle cx="285.4" cy="87.9" r="1.15"/>
<circle cx="281.8" cy="93.3" r="1.15"/>
<circle cx="287.2" cy="86.8" r="1.15"/>
<circle cx="285.4" cy="73.6" r="1.15"/>
<circle cx="282.8" cy="91.2" r="1.15"/>
<circle cx="286.8" cy="91.7" r="1.15"/>
<circle cx="282.1" cy="109.1" r="1.15"/>
<circle cx="285.5" cy="73.9" r="1.15"/>
<circle cx="283.9" cy="84.3" r="1.15"/>
<circle cx="284.1" cy="95.4" r="1.15"/>
<circle cx="285.3" cy="76.9" r="1.15"/>
<circle cx="280.6" cy="84.3" r="1.15"/>
<circle cx="286.0" cy="88.7" r="1.15"/>
<circle cx="283.8" cy="95.9" r="1.15"/>
<circle cx="287.8" cy="79.4" r="1.15"/>
<circle cx="287.5" cy="85.3" r="1.15"/>
<circle cx="287.0" cy="81.2" r="1.15"/>
<circle cx="279.8" cy="128.2" r="1.15"/>
<circle cx="285.3" cy="93.5" r="1.15"/>
<circle cx="282.7" cy="91.8" r="1.15"/>
<circle cx="285.5" cy="82.5" r="1.15"/>
<circle cx="284.6" cy="88.8" r="1.15"/>
<circle cx="281.3" cy="83.4" r="1.15"/>
<circle cx="282.7" cy="88.3" r="1.15"/>
<circle cx="283.5" cy="94.9" r="1.15"/>
<circle cx="285.6" cy="101.5" r="1.15"/>
<circle cx="282.2" cy="90.0" r="1.15"/>
<circle cx="280.5" cy="87.1" r="1.15"/>
<circle cx="286.0" cy="82.6" r="1.15"/>
<circle cx="281.4" cy="91.4" r="1.15"/>
<circle cx="284.8" cy="84.7" r="1.15"/>
<circle cx="284.7" cy="91.3" r="1.15"/>
<circle cx="288.6" cy="80.3" r="1.15"/>
<circle cx="282.3" cy="81.8" r="1.15"/>
<circle cx="282.2" cy="80.1" r="1.15"/>
<circle cx="282.0" cy="90.5" r="1.15"/>
<circle cx="285.9" cy="85.0" r="1.15"/>
<circle cx="283.0" cy="90.0" r="1.15"/>
<circle cx="281.8" cy="80.0" r="1.15"/>
<circle cx="288.4" cy="89.4" r="1.15"/>
<circle cx="280.4" cy="82.4" r="1.15"/>
<circle cx="282.2" cy="84.9" r="1.15"/>
<circle cx="280.4" cy="90.1" r="1.15"/>
<circle cx="285.2" cy="78.0" r="1.15"/>
<circle cx="279.9" cy="91.6" r="1.15"/>
<circle cx="280.5" cy="85.8" r="1.15"/>
<circle cx="281.5" cy="90.4" r="1.15"/>
<circle cx="281.2" cy="75.5" r="1.15"/>
<circle cx="288.2" cy="74.2" r="1.15"/>
<circle cx="285.4" cy="93.7" r="1.15"/>
<circle cx="287.4" cy="85.5" r="1.15"/>
<circle cx="280.3" cy="91.1" r="1.15"/>
<circle cx="283.2" cy="85.9" r="1.15"/>
<circle cx="283.9" cy="89.4" r="1.15"/>
<circle cx="281.0" cy="86.1" r="1.15"/>
<circle cx="280.3" cy="95.1" r="1.15"/>
<circle cx="285.5" cy="86.0" r="1.15"/>
<circle cx="283.6" cy="90.5" r="1.15"/>
<circle cx="288.2" cy="88.8" r="1.15"/>
<circle cx="286.2" cy="83.9" r="1.15"/>
<circle cx="285.8" cy="82.9" r="1.15"/>
<circle cx="282.6" cy="89.5" r="1.15"/>
<circle cx="286.1" cy="81.8" r="1.15"/>
<circle cx="294.5" cy="88.8" r="1.15"/>
<circle cx="290.3" cy="75.4" r="1.15"/>
<circle cx="290.7" cy="86.1" r="1.15"/>
<circle cx="293.8" cy="71.5" r="1.15"/>
<circle cx="294.1" cy="83.0" r="1.15"/>
<circle cx="297.1" cy="72.4" r="1.15"/>
<circle cx="296.3" cy="77.3" r="1.15"/>
<circle cx="290.5" cy="72.1" r="1.15"/>
<circle cx="297.2" cy="69.0" r="1.15"/>
<circle cx="289.8" cy="73.4" r="1.15"/>
<circle cx="292.5" cy="84.2" r="1.15"/>
<circle cx="289.7" cy="78.1" r="1.15"/>
<circle cx="293.8" cy="74.2" r="1.15"/>
<circle cx="293.6" cy="81.4" r="1.15"/>
<circle cx="295.9" cy="76.1" r="1.15"/>
<circle cx="290.7" cy="88.4" r="1.15"/>
<circle cx="293.1" cy="73.6" r="1.15"/>
<circle cx="293.6" cy="77.4" r="1.15"/>
<circle cx="293.8" cy="77.4" r="1.15"/>
<circle cx="296.1" cy="75.1" r="1.15"/>
<circle cx="289.0" cy="91.8" r="1.15"/>
<circle cx="288.9" cy="72.5" r="1.15"/>
<circle cx="294.5" cy="75.9" r="1.15"/>
<circle cx="296.3" cy="68.3" r="1.15"/>
<circle cx="290.6" cy="88.0" r="1.15"/>
<circle cx="294.9" cy="69.1" r="1.15"/>
<circle cx="297.1" cy="67.3" r="1.15"/>
<circle cx="296.0" cy="70.7" r="1.15"/>
<circle cx="297.3" cy="68.6" r="1.15"/>
<circle cx="296.1" cy="71.9" r="1.15"/>
<circle cx="294.5" cy="82.2" r="1.15"/>
<circle cx="292.8" cy="73.8" r="1.15"/>
<circle cx="290.7" cy="75.9" r="1.15"/>
<circle cx="294.0" cy="70.4" r="1.15"/>
<circle cx="292.8" cy="77.6" r="1.15"/>
<circle cx="296.9" cy="78.1" r="1.15"/>
<circle cx="289.5" cy="76.1" r="1.15"/>
<circle cx="295.3" cy="74.2" r="1.15"/>
<circle cx="291.6" cy="79.2" r="1.15"/>
<circle cx="296.4" cy="77.4" r="1.15"/>
<circle cx="294.9" cy="78.8" r="1.15"/>
<circle cx="297.2" cy="70.0" r="1.15"/>
<circle cx="289.2" cy="81.5" r="1.15"/>
<circle cx="289.0" cy="88.6" r="1.15"/>
<circle cx="296.7" cy="79.0" r="1.15"/>
<circle cx="293.3" cy="83.5" r="1.15"/>
<circle cx="295.3" cy="72.3" r="1.15"/>
<circle cx="290.3" cy="83.1" r="1.15"/>
<circle cx="291.2" cy="71.2" r="1.15"/>
<circle cx="295.5" cy="74.7" r="1.15"/>
<circle cx="293.4" cy="80.7" r="1.15"/>
<circle cx="291.4" cy="69.3" r="1.15"/>
<circle cx="289.0" cy="88.5" r="1.15"/>
<circle cx="290.1" cy="93.5" r="1.15"/>
<circle cx="289.4" cy="80.6" r="1.15"/>
<circle cx="297.2" cy="67.1" r="1.15"/>
<circle cx="293.7" cy="85.7" r="1.15"/>
<circle cx="290.4" cy="78.3" r="1.15"/>
<circle cx="296.0" cy="68.2" r="1.15"/>
<circle cx="290.8" cy="77.3" r="1.15"/>
<circle cx="289.9" cy="82.3" r="1.15"/>
<circle cx="293.5" cy="79.2" r="1.15"/>
<circle cx="295.3" cy="90.9" r="1.15"/>
<circle cx="293.2" cy="82.3" r="1.15"/>
<circle cx="290.7" cy="74.1" r="1.15"/>
<circle cx="291.0" cy="78.7" r="1.15"/>
<circle cx="289.7" cy="81.9" r="1.15"/>
<circle cx="296.7" cy="69.8" r="1.15"/>
<circle cx="291.4" cy="75.4" r="1.15"/>
<circle cx="296.1" cy="68.5" r="1.15"/>
<circle cx="296.7" cy="61.6" r="1.15"/>
<circle cx="295.2" cy="75.7" r="1.15"/>
<circle cx="290.6" cy="69.2" r="1.15"/>
<circle cx="294.8" cy="78.0" r="1.15"/>
<circle cx="292.6" cy="86.7" r="1.15"/>
<circle cx="290.9" cy="78.2" r="1.15"/>
<circle cx="296.4" cy="70.4" r="1.15"/>
<circle cx="297.1" cy="80.1" r="1.15"/>
<circle cx="291.0" cy="73.1" r="1.15"/>
<circle cx="294.7" cy="74.6" r="1.15"/>
<circle cx="289.3" cy="74.6" r="1.15"/>
<circle cx="291.7" cy="77.3" r="1.15"/>
<circle cx="289.9" cy="93.2" r="1.15"/>
<circle cx="292.7" cy="74.5" r="1.15"/>
<circle cx="295.7" cy="66.7" r="1.15"/>
<circle cx="292.1" cy="78.1" r="1.15"/>
<circle cx="292.4" cy="69.3" r="1.15"/>
<circle cx="290.3" cy="73.3" r="1.15"/>
<circle cx="289.6" cy="72.0" r="1.15"/>
<circle cx="289.2" cy="84.7" r="1.15"/>
<circle cx="292.7" cy="74.5" r="1.15"/>
<circle cx="291.1" cy="74.9" r="1.15"/>
<circle cx="289.8" cy="65.4" r="1.15"/>
<circle cx="297.5" cy="79.4" r="1.15"/>
<circle cx="288.8" cy="84.8" r="1.15"/>
<circle cx="289.8" cy="96.1" r="1.15"/>
<circle cx="295.8" cy="71.8" r="1.15"/>
<circle cx="294.4" cy="81.9" r="1.15"/>
<circle cx="297.1" cy="70.0" r="1.15"/>
<circle cx="289.5" cy="81.7" r="1.15"/>
<circle cx="290.7" cy="77.4" r="1.15"/>
<circle cx="294.8" cy="72.5" r="1.15"/>
<circle cx="293.2" cy="73.7" r="1.15"/>
<circle cx="291.1" cy="88.9" r="1.15"/>
<circle cx="296.4" cy="75.4" r="1.15"/>
<circle cx="293.8" cy="69.6" r="1.15"/>
<circle cx="293.2" cy="82.2" r="1.15"/>
<circle cx="291.4" cy="75.7" r="1.15"/>
<circle cx="295.2" cy="71.4" r="1.15"/>
<circle cx="294.2" cy="69.4" r="1.15"/>
<circle cx="291.5" cy="78.2" r="1.15"/>
<circle cx="292.8" cy="64.7" r="1.15"/>
<circle cx="290.2" cy="92.5" r="1.15"/>
<circle cx="290.2" cy="84.4" r="1.15"/>
<circle cx="290.9" cy="83.7" r="1.15"/>
<circle cx="295.4" cy="77.2" r="1.15"/>
<circle cx="290.0" cy="84.0" r="1.15"/>
<circle cx="291.2" cy="76.8" r="1.15"/>
<circle cx="289.4" cy="71.4" r="1.15"/>
<circle cx="290.3" cy="90.9" r="1.15"/>
<circle cx="290.3" cy="74.3" r="1.15"/>
<circle cx="297.3" cy="74.1" r="1.15"/>
<circle cx="289.5" cy="79.2" r="1.15"/>
<circle cx="289.0" cy="75.7" r="1.15"/>
<circle cx="290.4" cy="77.1" r="1.15"/>
<circle cx="290.0" cy="90.1" r="1.15"/>
<circle cx="295.4" cy="80.8" r="1.15"/>
<circle cx="294.3" cy="72.8" r="1.15"/>
<circle cx="291.9" cy="69.8" r="1.15"/>
<circle cx="293.2" cy="82.1" r="1.15"/>
<circle cx="292.3" cy="85.0" r="1.15"/>
<circle cx="295.3" cy="75.3" r="1.15"/>
<circle cx="293.2" cy="78.9" r="1.15"/>
<circle cx="297.2" cy="76.5" r="1.15"/>
<circle cx="293.7" cy="67.0" r="1.15"/>
<circle cx="293.7" cy="74.0" r="1.15"/>
<circle cx="294.0" cy="75.9" r="1.15"/>
<circle cx="294.6" cy="70.8" r="1.15"/>
<circle cx="296.7" cy="73.7" r="1.15"/>
<circle cx="293.4" cy="98.3" r="1.15"/>
<circle cx="296.4" cy="66.2" r="1.15"/>
<circle cx="293.2" cy="71.8" r="1.15"/>
<circle cx="291.7" cy="87.6" r="1.15"/>
<circle cx="294.9" cy="70.0" r="1.15"/>
<circle cx="294.5" cy="80.9" r="1.15"/>
<circle cx="289.8" cy="88.1" r="1.15"/>
<circle cx="293.3" cy="78.2" r="1.15"/>
<circle cx="289.6" cy="88.0" r="1.15"/>
<circle cx="292.0" cy="93.0" r="1.15"/>
<circle cx="293.6" cy="77.4" r="1.15"/>
<circle cx="291.8" cy="77.9" r="1.15"/>
<circle cx="292.5" cy="83.4" r="1.15"/>
<circle cx="292.4" cy="76.1" r="1.15"/>
<circle cx="295.9" cy="76.1" r="1.15"/>
<circle cx="294.1" cy="75.6" r="1.15"/>
<circle cx="291.8" cy="84.9" r="1.15"/>
<circle cx="297.1" cy="62.7" r="1.15"/>
<circle cx="292.6" cy="78.1" r="1.15"/>
<circle cx="295.6" cy="77.4" r="1.15"/>
<circle cx="294.8" cy="71.8" r="1.15"/>
<circle cx="295.9" cy="73.4" r="1.15"/>
<circle cx="292.8" cy="89.1" r="1.15"/>
<circle cx="296.6" cy="63.7" r="1.15"/>
<circle cx="296.6" cy="75.6" r="1.15"/>
<circle cx="291.4" cy="85.1" r="1.15"/>
<circle cx="292.4" cy="68.0" r="1.15"/>
<circle cx="297.2" cy="74.7" r="1.15"/>
<circle cx="295.7" cy="65.0" r="1.15"/>
<circle cx="294.8" cy="84.8" r="1.15"/>
<circle cx="290.3" cy="87.4" r="1.15"/>
<circle cx="289.2" cy="87.2" r="1.15"/>
<circle cx="296.9" cy="67.6" r="1.15"/>
<circle cx="295.0" cy="81.5" r="1.15"/>
<circle cx="291.8" cy="76.7" r="1.15"/>
<circle cx="296.2" cy="70.3" r="1.15"/>
<circle cx="296.2" cy="82.1" r="1.15"/>
<circle cx="292.7" cy="73.7" r="1.15"/>
<circle cx="289.6" cy="80.6" r="1.15"/>
<circle cx="289.0" cy="80.6" r="1.15"/>
<circle cx="291.0" cy="82.3" r="1.15"/>
<circle cx="290.8" cy="78.4" r="1.15"/>
<circle cx="296.5" cy="74.8" r="1.15"/>
<circle cx="290.6" cy="79.5" r="1.15"/>
<circle cx="289.8" cy="78.0" r="1.15"/>
<circle cx="292.9" cy="78.2" r="1.15"/>
<circle cx="290.4" cy="75.6" r="1.15"/>
<circle cx="293.4" cy="74.9" r="1.15"/>
<circle cx="293.0" cy="71.2" r="1.15"/>
<circle cx="294.6" cy="67.9" r="1.15"/>
<circle cx="295.8" cy="78.5" r="1.15"/>
<circle cx="296.9" cy="64.8" r="1.15"/>
<circle cx="295.3" cy="79.7" r="1.15"/>
<circle cx="292.7" cy="82.6" r="1.15"/>
<circle cx="296.4" cy="67.6" r="1.15"/>
<circle cx="292.7" cy="71.5" r="1.15"/>
<circle cx="291.3" cy="86.6" r="1.15"/>
<circle cx="295.6" cy="68.2" r="1.15"/>
<circle cx="295.4" cy="74.5" r="1.15"/>
<circle cx="291.1" cy="81.4" r="1.15"/>
<circle cx="289.2" cy="77.9" r="1.15"/>
<circle cx="296.3" cy="74.4" r="1.15"/>
<circle cx="293.6" cy="85.3" r="1.15"/>
<circle cx="289.0" cy="80.7" r="1.15"/>
<circle cx="293.2" cy="66.2" r="1.15"/>
<circle cx="294.7" cy="78.0" r="1.15"/>
<circle cx="296.8" cy="66.0" r="1.15"/>
<circle cx="293.3" cy="80.9" r="1.15"/>
<circle cx="295.0" cy="72.3" r="1.15"/>
<circle cx="294.7" cy="76.6" r="1.15"/>
<circle cx="296.1" cy="75.4" r="1.15"/>
<circle cx="290.0" cy="79.0" r="1.15"/>
<circle cx="288.9" cy="80.4" r="1.15"/>
<circle cx="293.9" cy="86.6" r="1.15"/>
<circle cx="294.4" cy="77.6" r="1.15"/>
<circle cx="294.8" cy="75.7" r="1.15"/>
<circle cx="294.5" cy="69.2" r="1.15"/>
<circle cx="296.2" cy="73.6" r="1.15"/>
<circle cx="292.6" cy="82.5" r="1.15"/>
<circle cx="294.8" cy="77.9" r="1.15"/>
<circle cx="291.2" cy="74.6" r="1.15"/>
<circle cx="297.4" cy="79.2" r="1.15"/>
<circle cx="291.2" cy="85.8" r="1.15"/>
<circle cx="289.7" cy="88.5" r="1.15"/>
<circle cx="295.1" cy="68.6" r="1.15"/>
<circle cx="289.8" cy="75.9" r="1.15"/>
<circle cx="290.1" cy="80.4" r="1.15"/>
<circle cx="294.2" cy="76.7" r="1.15"/>
<circle cx="295.2" cy="79.6" r="1.15"/>
<circle cx="297.5" cy="71.9" r="1.15"/>
<circle cx="297.3" cy="70.7" r="1.15"/>
<circle cx="292.6" cy="69.7" r="1.15"/>
<circle cx="296.3" cy="65.7" r="1.15"/>
<circle cx="295.4" cy="60.9" r="1.15"/>
<circle cx="293.4" cy="84.0" r="1.15"/>
<circle cx="288.7" cy="85.6" r="1.15"/>
<circle cx="291.9" cy="74.6" r="1.15"/>
<circle cx="289.5" cy="77.7" r="1.15"/>
<circle cx="295.8" cy="71.7" r="1.15"/>
<circle cx="295.2" cy="71.0" r="1.15"/>
<circle cx="292.0" cy="71.2" r="1.15"/>
<circle cx="291.8" cy="82.6" r="1.15"/>
<circle cx="296.9" cy="61.9" r="1.15"/>
<circle cx="297.5" cy="67.8" r="1.15"/>
<circle cx="289.7" cy="77.2" r="1.15"/>
<circle cx="293.1" cy="79.4" r="1.15"/>
<circle cx="297.4" cy="66.1" r="1.15"/>
<circle cx="295.5" cy="69.8" r="1.15"/>
<circle cx="291.3" cy="77.5" r="1.15"/>
<circle cx="294.4" cy="79.3" r="1.15"/>
<circle cx="293.3" cy="69.7" r="1.15"/>
<circle cx="297.4" cy="67.6" r="1.15"/>
<circle cx="292.4" cy="76.8" r="1.15"/>
<circle cx="289.2" cy="75.6" r="1.15"/>
<circle cx="291.3" cy="76.2" r="1.15"/>
<circle cx="290.6" cy="74.7" r="1.15"/>
<circle cx="294.3" cy="82.2" r="1.15"/>
<circle cx="290.3" cy="82.7" r="1.15"/>
<circle cx="291.9" cy="82.8" r="1.15"/>
<circle cx="296.1" cy="70.0" r="1.15"/>
<circle cx="296.7" cy="86.7" r="1.15"/>
<circle cx="297.3" cy="64.6" r="1.15"/>
<circle cx="294.0" cy="89.4" r="1.15"/>
<circle cx="293.8" cy="78.9" r="1.15"/>
<circle cx="290.9" cy="93.6" r="1.15"/>
<circle cx="289.6" cy="79.6" r="1.15"/>
<circle cx="291.2" cy="77.4" r="1.15"/>
<circle cx="290.0" cy="105.4" r="1.15"/>
<circle cx="289.8" cy="95.8" r="1.15"/>
<circle cx="294.6" cy="58.9" r="1.15"/>
<circle cx="290.1" cy="93.4" r="1.15"/>
<circle cx="296.5" cy="67.9" r="1.15"/>
<circle cx="293.2" cy="74.3" r="1.15"/>
<circle cx="291.3" cy="73.3" r="1.15"/>
<circle cx="292.5" cy="79.6" r="1.15"/>
<circle cx="290.3" cy="78.8" r="1.15"/>
<circle cx="289.7" cy="81.1" r="1.15"/>
<circle cx="290.6" cy="79.8" r="1.15"/>
<circle cx="296.4" cy="78.1" r="1.15"/>
<circle cx="292.7" cy="87.3" r="1.15"/>
<circle cx="296.2" cy="76.5" r="1.15"/>
<circle cx="293.2" cy="74.3" r="1.15"/>
<circle cx="290.9" cy="77.3" r="1.15"/>
<circle cx="293.0" cy="78.4" r="1.15"/>
<circle cx="289.7" cy="75.6" r="1.15"/>
<circle cx="292.3" cy="75.3" r="1.15"/>
<circle cx="293.9" cy="66.4" r="1.15"/>
<circle cx="290.9" cy="84.2" r="1.15"/>
<circle cx="295.9" cy="73.0" r="1.15"/>
<circle cx="295.2" cy="73.5" r="1.15"/>
<circle cx="291.6" cy="86.4" r="1.15"/>
<circle cx="289.9" cy="81.5" r="1.15"/>
<circle cx="288.8" cy="96.5" r="1.15"/>
<circle cx="290.0" cy="89.8" r="1.15"/>
<circle cx="295.2" cy="76.2" r="1.15"/>
<circle cx="289.4" cy="73.6" r="1.15"/>
<circle cx="290.0" cy="66.4" r="1.15"/>
<circle cx="292.5" cy="78.0" r="1.15"/>
<circle cx="288.9" cy="83.7" r="1.15"/>
<circle cx="291.8" cy="82.0" r="1.15"/>
<circle cx="291.9" cy="68.4" r="1.15"/>
<circle cx="291.1" cy="92.8" r="1.15"/>
<circle cx="296.6" cy="71.4" r="1.15"/>
<circle cx="291.2" cy="73.7" r="1.15"/>
<circle cx="297.0" cy="69.2" r="1.15"/>
<circle cx="294.5" cy="96.7" r="1.15"/>
<circle cx="294.8" cy="88.2" r="1.15"/>
<circle cx="293.5" cy="67.8" r="1.15"/>
<circle cx="295.2" cy="77.9" r="1.15"/>
<circle cx="296.3" cy="78.7" r="1.15"/>
<circle cx="294.8" cy="66.7" r="1.15"/>
<circle cx="296.0" cy="71.4" r="1.15"/>
<circle cx="290.2" cy="80.4" r="1.15"/>
<circle cx="293.0" cy="69.8" r="1.15"/>
<circle cx="295.1" cy="62.5" r="1.15"/>
<circle cx="293.5" cy="75.6" r="1.15"/>
<circle cx="289.7" cy="80.5" r="1.15"/>
<circle cx="296.1" cy="68.3" r="1.15"/>
<circle cx="296.9" cy="77.8" r="1.15"/>
<circle cx="289.7" cy="79.5" r="1.15"/>
<circle cx="290.1" cy="66.5" r="1.15"/>
<circle cx="295.8" cy="63.2" r="1.15"/>
<circle cx="289.4" cy="85.0" r="1.15"/>
<circle cx="292.7" cy="80.0" r="1.15"/>
<circle cx="290.6" cy="81.7" r="1.15"/>
<circle cx="290.4" cy="82.2" r="1.15"/>
<circle cx="292.9" cy="81.0" r="1.15"/>
<circle cx="296.5" cy="56.6" r="1.15"/>
<circle cx="292.9" cy="88.8" r="1.15"/>
<circle cx="296.1" cy="81.3" r="1.15"/>
<circle cx="289.4" cy="84.5" r="1.15"/>
<circle cx="289.3" cy="78.1" r="1.15"/>
<circle cx="296.2" cy="81.8" r="1.15"/>
<circle cx="294.6" cy="81.0" r="1.15"/>
<circle cx="297.5" cy="74.5" r="1.15"/>
<circle cx="291.6" cy="70.2" r="1.15"/>
<circle cx="290.3" cy="81.3" r="1.15"/>
<circle cx="294.1" cy="79.7" r="1.15"/>
<circle cx="293.4" cy="82.6" r="1.15"/>
<circle cx="295.4" cy="76.3" r="1.15"/>
<circle cx="294.9" cy="70.0" r="1.15"/>
<circle cx="294.8" cy="75.3" r="1.15"/>
<circle cx="297.1" cy="60.0" r="1.15"/>
<circle cx="292.0" cy="74.8" r="1.15"/>
<circle cx="296.6" cy="80.2" r="1.15"/>
<circle cx="291.2" cy="101.2" r="1.15"/>
<circle cx="292.2" cy="80.5" r="1.15"/>
<circle cx="291.6" cy="90.6" r="1.15"/>
<circle cx="290.1" cy="85.7" r="1.15"/>
<circle cx="294.6" cy="60.9" r="1.15"/>
<circle cx="292.2" cy="79.8" r="1.15"/>
<circle cx="293.3" cy="75.0" r="1.15"/>
<circle cx="293.9" cy="76.1" r="1.15"/>
<circle cx="292.6" cy="84.0" r="1.15"/>
<circle cx="297.0" cy="73.1" r="1.15"/>
<circle cx="288.8" cy="93.1" r="1.15"/>
<circle cx="291.2" cy="80.5" r="1.15"/>
<circle cx="292.4" cy="82.3" r="1.15"/>
<circle cx="290.8" cy="82.3" r="1.15"/>
<circle cx="291.8" cy="82.7" r="1.15"/>
<circle cx="291.9" cy="74.4" r="1.15"/>
<circle cx="289.5" cy="80.5" r="1.15"/>
<circle cx="296.5" cy="77.1" r="1.15"/>
<circle cx="294.0" cy="77.2" r="1.15"/>
<circle cx="293.7" cy="80.0" r="1.15"/>
<circle cx="296.7" cy="72.4" r="1.15"/>
<circle cx="291.6" cy="88.1" r="1.15"/>
<circle cx="295.1" cy="76.0" r="1.15"/>
<circle cx="295.8" cy="72.2" r="1.15"/>
<circle cx="288.9" cy="74.6" r="1.15"/>
<circle cx="295.8" cy="75.2" r="1.15"/>
<circle cx="293.4" cy="73.9" r="1.15"/>
<circle cx="293.8" cy="80.5" r="1.15"/>
<circle cx="290.2" cy="78.4" r="1.15"/>
<circle cx="289.6" cy="86.0" r="1.15"/>
<circle cx="296.7" cy="73.3" r="1.15"/>
<circle cx="291.8" cy="70.9" r="1.15"/>
<circle cx="289.3" cy="80.0" r="1.15"/>
<circle cx="294.3" cy="84.3" r="1.15"/>
<circle cx="294.4" cy="76.9" r="1.15"/>
<circle cx="291.0" cy="82.3" r="1.15"/>
<circle cx="291.7" cy="72.4" r="1.15"/>
<circle cx="292.8" cy="72.6" r="1.15"/>
<circle cx="290.2" cy="80.0" r="1.15"/>
<circle cx="297.1" cy="68.9" r="1.15"/>
<circle cx="294.8" cy="77.1" r="1.15"/>
<circle cx="296.0" cy="71.2" r="1.15"/>
<circle cx="293.3" cy="65.8" r="1.15"/>
<circle cx="296.1" cy="65.2" r="1.15"/>
<circle cx="294.6" cy="76.1" r="1.15"/>
<circle cx="296.0" cy="76.0" r="1.15"/>
<circle cx="292.2" cy="77.4" r="1.15"/>
<circle cx="296.6" cy="78.8" r="1.15"/>
<circle cx="292.8" cy="93.8" r="1.15"/>
<circle cx="296.6" cy="82.4" r="1.15"/>
<circle cx="293.8" cy="67.4" r="1.15"/>
<circle cx="289.5" cy="92.8" r="1.15"/>
<circle cx="288.9" cy="77.9" r="1.15"/>
<circle cx="295.7" cy="62.8" r="1.15"/>
<circle cx="293.9" cy="74.4" r="1.15"/>
<circle cx="296.0" cy="75.7" r="1.15"/>
<circle cx="290.3" cy="80.5" r="1.15"/>
<circle cx="292.3" cy="80.3" r="1.15"/>
<circle cx="293.4" cy="84.0" r="1.15"/>
<circle cx="294.0" cy="72.5" r="1.15"/>
<circle cx="295.3" cy="77.0" r="1.15"/>
<circle cx="294.9" cy="71.7" r="1.15"/>
<circle cx="292.8" cy="78.9" r="1.15"/>
<circle cx="296.5" cy="79.0" r="1.15"/>
<circle cx="292.6" cy="70.1" r="1.15"/>
<circle cx="289.9" cy="89.4" r="1.15"/>
<circle cx="295.0" cy="64.6" r="1.15"/>
<circle cx="296.0" cy="78.6" r="1.15"/>
<circle cx="294.6" cy="71.0" r="1.15"/>
<circle cx="292.0" cy="65.1" r="1.15"/>
<circle cx="297.4" cy="76.0" r="1.15"/>
<circle cx="292.1" cy="79.2" r="1.15"/>
<circle cx="291.2" cy="82.8" r="1.15"/>
<circle cx="292.3" cy="72.0" r="1.15"/>
<circle cx="296.9" cy="75.8" r="1.15"/>
<circle cx="293.5" cy="71.6" r="1.15"/>
<circle cx="292.2" cy="84.0" r="1.15"/>
<circle cx="292.2" cy="83.8" r="1.15"/>
<circle cx="296.6" cy="81.0" r="1.15"/>
<circle cx="295.9" cy="72.5" r="1.15"/>
<circle cx="292.6" cy="77.8" r="1.15"/>
<circle cx="291.6" cy="75.2" r="1.15"/>
<circle cx="295.1" cy="77.8" r="1.15"/>
<circle cx="291.9" cy="80.9" r="1.15"/>
<circle cx="292.9" cy="84.4" r="1.15"/>
<circle cx="289.0" cy="71.4" r="1.15"/>
<circle cx="292.3" cy="76.2" r="1.15"/>
<circle cx="295.1" cy="69.1" r="1.15"/>
<circle cx="293.0" cy="67.2" r="1.15"/>
<circle cx="293.7" cy="75.3" r="1.15"/>
<circle cx="290.8" cy="83.0" r="1.15"/>
<circle cx="293.9" cy="77.4" r="1.15"/>
<circle cx="290.8" cy="80.2" r="1.15"/>
<circle cx="289.3" cy="77.9" r="1.15"/>
<circle cx="295.1" cy="76.5" r="1.15"/>
<circle cx="294.4" cy="72.4" r="1.15"/>
<circle cx="293.5" cy="75.3" r="1.15"/>
<circle cx="294.1" cy="68.6" r="1.15"/>
<circle cx="290.6" cy="70.6" r="1.15"/>
<circle cx="297.5" cy="78.2" r="1.15"/>
<circle cx="289.9" cy="82.7" r="1.15"/>
<circle cx="292.3" cy="84.8" r="1.15"/>
<circle cx="288.8" cy="81.1" r="1.15"/>
<circle cx="291.9" cy="79.4" r="1.15"/>
<circle cx="296.0" cy="77.1" r="1.15"/>
<circle cx="289.8" cy="79.5" r="1.15"/>
<circle cx="290.6" cy="82.2" r="1.15"/>
<circle cx="290.3" cy="78.6" r="1.15"/>
<circle cx="290.5" cy="78.7" r="1.15"/>
<circle cx="291.9" cy="80.3" r="1.15"/>
<circle cx="290.0" cy="92.9" r="1.15"/>
<circle cx="293.6" cy="74.7" r="1.15"/>
<circle cx="296.0" cy="81.5" r="1.15"/>
<circle cx="296.4" cy="60.4" r="1.15"/>
<circle cx="289.9" cy="82.4" r="1.15"/>
<circle cx="288.8" cy="88.4" r="1.15"/>
<circle cx="294.3" cy="69.1" r="1.15"/>
<circle cx="289.8" cy="86.0" r="1.15"/>
<circle cx="293.6" cy="72.0" r="1.15"/>
<circle cx="291.8" cy="81.6" r="1.15"/>
<circle cx="291.4" cy="89.0" r="1.15"/>
<circle cx="292.3" cy="74.9" r="1.15"/>
<circle cx="296.5" cy="70.2" r="1.15"/>
<circle cx="296.9" cy="69.2" r="1.15"/>
<circle cx="290.1" cy="69.5" r="1.15"/>
<circle cx="293.3" cy="85.0" r="1.15"/>
<circle cx="293.5" cy="82.8" r="1.15"/>
<circle cx="290.4" cy="83.9" r="1.15"/>
<circle cx="295.5" cy="78.1" r="1.15"/>
<circle cx="293.9" cy="73.5" r="1.15"/>
<circle cx="289.1" cy="86.6" r="1.15"/>
<circle cx="296.5" cy="72.6" r="1.15"/>
<circle cx="296.8" cy="76.1" r="1.15"/>
<circle cx="294.8" cy="80.2" r="1.15"/>
<circle cx="293.5" cy="84.1" r="1.15"/>
<circle cx="296.4" cy="73.4" r="1.15"/>
<circle cx="291.4" cy="84.7" r="1.15"/>
<circle cx="294.0" cy="70.4" r="1.15"/>
<circle cx="297.1" cy="67.3" r="1.15"/>
<circle cx="290.6" cy="70.7" r="1.15"/>
<circle cx="292.5" cy="80.1" r="1.15"/>
<circle cx="291.0" cy="77.5" r="1.15"/>
<circle cx="288.7" cy="66.4" r="1.15"/>
<circle cx="291.1" cy="76.8" r="1.15"/>
<circle cx="295.9" cy="84.1" r="1.15"/>
<circle cx="291.0" cy="84.6" r="1.15"/>
<circle cx="296.4" cy="83.5" r="1.15"/>
<circle cx="288.9" cy="87.1" r="1.15"/>
<circle cx="293.5" cy="63.5" r="1.15"/>
<circle cx="296.9" cy="74.5" r="1.15"/>
<circle cx="295.6" cy="77.2" r="1.15"/>
<circle cx="297.5" cy="74.6" r="1.15"/>
<circle cx="289.5" cy="78.1" r="1.15"/>
<circle cx="294.1" cy="71.7" r="1.15"/>
<circle cx="294.4" cy="72.8" r="1.15"/>
<circle cx="295.0" cy="81.8" r="1.15"/>
<circle cx="290.2" cy="85.9" r="1.15"/>
<circle cx="297.3" cy="72.2" r="1.15"/>
<circle cx="295.9" cy="78.9" r="1.15"/>
<circle cx="290.6" cy="89.7" r="1.15"/>
<circle cx="293.7" cy="72.5" r="1.15"/>
<circle cx="292.5" cy="79.7" r="1.15"/>
<circle cx="291.0" cy="90.4" r="1.15"/>
<circle cx="297.4" cy="75.0" r="1.15"/>
<circle cx="292.3" cy="66.8" r="1.15"/>
<circle cx="291.5" cy="91.4" r="1.15"/>
<circle cx="294.2" cy="78.7" r="1.15"/>
<circle cx="293.9" cy="89.7" r="1.15"/>
<circle cx="294.1" cy="104.9" r="1.15"/>
<circle cx="288.7" cy="79.1" r="1.15"/>
<circle cx="294.7" cy="76.1" r="1.15"/>
<circle cx="296.9" cy="70.0" r="1.15"/>
<circle cx="293.0" cy="72.5" r="1.15"/>
<circle cx="293.1" cy="75.2" r="1.15"/>
<circle cx="290.2" cy="85.4" r="1.15"/>
<circle cx="292.9" cy="77.7" r="1.15"/>
<circle cx="290.4" cy="84.3" r="1.15"/>
<circle cx="292.3" cy="87.7" r="1.15"/>
<circle cx="293.2" cy="78.1" r="1.15"/>
<circle cx="289.8" cy="84.3" r="1.15"/>
<circle cx="291.1" cy="72.7" r="1.15"/>
<circle cx="292.1" cy="81.6" r="1.15"/>
<circle cx="290.5" cy="85.6" r="1.15"/>
<circle cx="292.2" cy="78.5" r="1.15"/>
<circle cx="291.0" cy="114.2" r="1.15"/>
<circle cx="295.0" cy="73.7" r="1.15"/>
<circle cx="291.4" cy="89.0" r="1.15"/>
<circle cx="296.3" cy="71.7" r="1.15"/>
<circle cx="289.9" cy="75.4" r="1.15"/>
<circle cx="297.1" cy="75.9" r="1.15"/>
<circle cx="297.1" cy="62.7" r="1.15"/>
<circle cx="294.5" cy="68.0" r="1.15"/>
<circle cx="291.2" cy="84.3" r="1.15"/>
<circle cx="290.4" cy="65.1" r="1.15"/>
<circle cx="293.1" cy="75.4" r="1.15"/>
<circle cx="289.8" cy="82.9" r="1.15"/>
<circle cx="290.8" cy="66.4" r="1.15"/>
<circle cx="295.6" cy="67.1" r="1.15"/>
<circle cx="290.7" cy="88.2" r="1.15"/>
<circle cx="295.2" cy="74.1" r="1.15"/>
<circle cx="291.7" cy="73.3" r="1.15"/>
<circle cx="295.5" cy="63.4" r="1.15"/>
<circle cx="289.0" cy="76.1" r="1.15"/>
<circle cx="289.5" cy="85.8" r="1.15"/>
<circle cx="292.0" cy="75.5" r="1.15"/>
<circle cx="295.2" cy="67.0" r="1.15"/>
<circle cx="294.1" cy="73.0" r="1.15"/>
<circle cx="293.7" cy="71.5" r="1.15"/>
<circle cx="297.2" cy="71.2" r="1.15"/>
<circle cx="294.4" cy="76.6" r="1.15"/>
<circle cx="289.1" cy="90.0" r="1.15"/>
<circle cx="293.1" cy="73.9" r="1.15"/>
<circle cx="294.5" cy="75.4" r="1.15"/>
<circle cx="297.2" cy="68.1" r="1.15"/>
<circle cx="291.7" cy="82.2" r="1.15"/>
<circle cx="292.8" cy="84.4" r="1.15"/>
<circle cx="295.8" cy="79.7" r="1.15"/>
<circle cx="290.5" cy="88.9" r="1.15"/>
<circle cx="292.7" cy="74.6" r="1.15"/>
<circle cx="295.1" cy="83.0" r="1.15"/>
<circle cx="292.9" cy="86.3" r="1.15"/>
<circle cx="294.0" cy="72.0" r="1.15"/>
<circle cx="292.1" cy="96.1" r="1.15"/>
<circle cx="290.5" cy="75.0" r="1.15"/>
<circle cx="296.8" cy="72.3" r="1.15"/>
<circle cx="291.9" cy="78.8" r="1.15"/>
<circle cx="289.7" cy="87.8" r="1.15"/>
<circle cx="294.9" cy="74.0" r="1.15"/>
<circle cx="297.4" cy="74.6" r="1.15"/>
<circle cx="292.1" cy="79.9" r="1.15"/>
<circle cx="296.3" cy="77.1" r="1.15"/>
<circle cx="295.2" cy="59.9" r="1.15"/>
<circle cx="291.0" cy="78.4" r="1.15"/>
<circle cx="290.2" cy="86.8" r="1.15"/>
<circle cx="293.2" cy="71.3" r="1.15"/>
<circle cx="294.9" cy="80.6" r="1.15"/>
<circle cx="291.3" cy="80.0" r="1.15"/>
<circle cx="293.6" cy="73.1" r="1.15"/>
<circle cx="296.9" cy="69.3" r="1.15"/>
<circle cx="288.9" cy="73.3" r="1.15"/>
<circle cx="295.7" cy="65.9" r="1.15"/>
<circle cx="288.7" cy="88.5" r="1.15"/>
<circle cx="289.3" cy="84.8" r="1.15"/>
<circle cx="295.5" cy="76.9" r="1.15"/>
<circle cx="291.1" cy="71.6" r="1.15"/>
<circle cx="292.1" cy="90.9" r="1.15"/>
<circle cx="294.3" cy="80.6" r="1.15"/>
<circle cx="289.1" cy="89.0" r="1.15"/>
<circle cx="294.5" cy="76.3" r="1.15"/>
<circle cx="289.6" cy="86.0" r="1.15"/>
<circle cx="293.6" cy="78.3" r="1.15"/>
<circle cx="295.6" cy="68.8" r="1.15"/>
<circle cx="291.8" cy="78.3" r="1.15"/>
<circle cx="295.3" cy="73.6" r="1.15"/>
<circle cx="293.1" cy="88.4" r="1.15"/>
<circle cx="296.7" cy="77.2" r="1.15"/>
<circle cx="296.9" cy="67.3" r="1.15"/>
<circle cx="294.0" cy="69.7" r="1.15"/>
<circle cx="295.2" cy="79.8" r="1.15"/>
<circle cx="289.0" cy="89.3" r="1.15"/>
<circle cx="290.1" cy="75.0" r="1.15"/>
<circle cx="293.7" cy="86.3" r="1.15"/>
<circle cx="294.0" cy="77.0" r="1.15"/>
<circle cx="296.8" cy="72.3" r="1.15"/>
<circle cx="290.0" cy="85.9" r="1.15"/>
<circle cx="296.8" cy="77.1" r="1.15"/>
<circle cx="295.9" cy="72.3" r="1.15"/>
<circle cx="294.8" cy="72.7" r="1.15"/>
<circle cx="290.8" cy="82.2" r="1.15"/>
<circle cx="293.3" cy="84.8" r="1.15"/>
<circle cx="297.4" cy="79.8" r="1.15"/>
<circle cx="290.5" cy="68.3" r="1.15"/>
<circle cx="291.9" cy="76.6" r="1.15"/>
<circle cx="291.1" cy="79.0" r="1.15"/>
<circle cx="293.2" cy="73.4" r="1.15"/>
<circle cx="297.4" cy="69.2" r="1.15"/>
<circle cx="294.0" cy="74.8" r="1.15"/>
<circle cx="290.9" cy="73.8" r="1.15"/>
<circle cx="288.8" cy="88.3" r="1.15"/>
<circle cx="289.9" cy="69.2" r="1.15"/>
<circle cx="290.1" cy="82.8" r="1.15"/>
<circle cx="290.0" cy="87.7" r="1.15"/>
<circle cx="296.4" cy="81.0" r="1.15"/>
<circle cx="291.8" cy="85.2" r="1.15"/>
<circle cx="289.4" cy="80.8" r="1.15"/>
<circle cx="294.3" cy="85.2" r="1.15"/>
<circle cx="290.2" cy="84.8" r="1.15"/>
<circle cx="294.6" cy="76.8" r="1.15"/>
<circle cx="295.9" cy="80.2" r="1.15"/>
<circle cx="292.9" cy="72.9" r="1.15"/>
<circle cx="291.5" cy="113.4" r="1.15"/>
<circle cx="293.6" cy="66.6" r="1.15"/>
<circle cx="297.1" cy="75.5" r="1.15"/>
<circle cx="295.0" cy="69.6" r="1.15"/>
<circle cx="290.2" cy="88.4" r="1.15"/>
<circle cx="292.2" cy="80.5" r="1.15"/>
<circle cx="296.6" cy="65.6" r="1.15"/>
<circle cx="296.5" cy="81.8" r="1.15"/>
<circle cx="295.0" cy="80.1" r="1.15"/>
<circle cx="296.1" cy="84.2" r="1.15"/>
<circle cx="295.3" cy="74.6" r="1.15"/>
<circle cx="292.3" cy="80.2" r="1.15"/>
<circle cx="292.0" cy="71.2" r="1.15"/>
<circle cx="290.6" cy="72.0" r="1.15"/>
<circle cx="296.7" cy="69.5" r="1.15"/>
<circle cx="295.0" cy="68.6" r="1.15"/>
<circle cx="295.4" cy="74.2" r="1.15"/>
<circle cx="293.8" cy="73.5" r="1.15"/>
<circle cx="296.8" cy="62.4" r="1.15"/>
<circle cx="294.9" cy="76.4" r="1.15"/>
<circle cx="293.3" cy="79.4" r="1.15"/>
<circle cx="290.8" cy="84.4" r="1.15"/>
<circle cx="291.7" cy="85.2" r="1.15"/>
<circle cx="295.4" cy="82.0" r="1.15"/>
<circle cx="297.2" cy="70.9" r="1.15"/>
<circle cx="294.3" cy="75.2" r="1.15"/>
<circle cx="292.0" cy="73.6" r="1.15"/>
<circle cx="289.3" cy="96.4" r="1.15"/>
<circle cx="290.2" cy="80.2" r="1.15"/>
<circle cx="295.8" cy="75.2" r="1.15"/>
<circle cx="296.0" cy="81.4" r="1.15"/>
<circle cx="290.9" cy="84.4" r="1.15"/>
<circle cx="289.0" cy="87.0" r="1.15"/>
<circle cx="296.7" cy="68.2" r="1.15"/>
<circle cx="294.4" cy="88.2" r="1.15"/>
<circle cx="297.4" cy="70.3" r="1.15"/>
<circle cx="294.3" cy="72.8" r="1.15"/>
<circle cx="288.8" cy="91.5" r="1.15"/>
<circle cx="295.6" cy="61.0" r="1.15"/>
<circle cx="290.4" cy="73.4" r="1.15"/>
<circle cx="291.6" cy="81.8" r="1.15"/>
<circle cx="292.4" cy="82.3" r="1.15"/>
<circle cx="290.5" cy="71.5" r="1.15"/>
<circle cx="290.7" cy="86.7" r="1.15"/>
<circle cx="291.0" cy="81.7" r="1.15"/>
<circle cx="290.6" cy="91.9" r="1.15"/>
<circle cx="294.5" cy="67.4" r="1.15"/>
<circle cx="295.6" cy="76.6" r="1.15"/>
<circle cx="290.8" cy="88.7" r="1.15"/>
<circle cx="293.7" cy="70.7" r="1.15"/>
<circle cx="290.4" cy="93.1" r="1.15"/>
<circle cx="290.5" cy="56.7" r="1.15"/>
<circle cx="288.9" cy="78.3" r="1.15"/>
<circle cx="288.9" cy="83.3" r="1.15"/>
<circle cx="293.4" cy="83.0" r="1.15"/>
<circle cx="296.7" cy="72.9" r="1.15"/>
<circle cx="291.0" cy="87.3" r="1.15"/>
<circle cx="292.4" cy="78.2" r="1.15"/>
<circle cx="293.7" cy="62.3" r="1.15"/>
<circle cx="291.3" cy="74.3" r="1.15"/>
<circle cx="293.5" cy="78.1" r="1.15"/>
<circle cx="299.1" cy="69.3" r="1.15"/>
<circle cx="304.6" cy="64.5" r="1.15"/>
<circle cx="301.3" cy="58.3" r="1.15"/>
<circle cx="301.8" cy="68.6" r="1.15"/>
<circle cx="301.8" cy="69.3" r="1.15"/>
<circle cx="303.1" cy="65.5" r="1.15"/>
<circle cx="303.8" cy="66.3" r="1.15"/>
<circle cx="304.5" cy="71.0" r="1.15"/>
<circle cx="305.1" cy="56.2" r="1.15"/>
<circle cx="299.8" cy="62.4" r="1.15"/>
<circle cx="305.8" cy="70.6" r="1.15"/>
<circle cx="298.5" cy="75.1" r="1.15"/>
<circle cx="305.6" cy="66.7" r="1.15"/>
<circle cx="298.8" cy="70.2" r="1.15"/>
<circle cx="299.5" cy="71.6" r="1.15"/>
<circle cx="300.8" cy="69.2" r="1.15"/>
<circle cx="303.6" cy="65.5" r="1.15"/>
<circle cx="302.3" cy="66.7" r="1.15"/>
<circle cx="301.1" cy="73.5" r="1.15"/>
<circle cx="299.6" cy="70.7" r="1.15"/>
<circle cx="305.2" cy="60.5" r="1.15"/>
<circle cx="301.0" cy="61.7" r="1.15"/>
<circle cx="302.2" cy="57.3" r="1.15"/>
<circle cx="300.6" cy="58.6" r="1.15"/>
<circle cx="301.4" cy="70.2" r="1.15"/>
<circle cx="299.1" cy="73.1" r="1.15"/>
<circle cx="297.9" cy="76.6" r="1.15"/>
<circle cx="305.6" cy="58.5" r="1.15"/>
<circle cx="297.7" cy="96.9" r="1.15"/>
<circle cx="300.5" cy="66.8" r="1.15"/>
<circle cx="298.7" cy="63.9" r="1.15"/>
<circle cx="298.2" cy="75.8" r="1.15"/>
<circle cx="304.7" cy="72.1" r="1.15"/>
<circle cx="297.7" cy="86.3" r="1.15"/>
<circle cx="300.9" cy="73.3" r="1.15"/>
<circle cx="302.4" cy="61.5" r="1.15"/>
<circle cx="301.0" cy="59.4" r="1.15"/>
<circle cx="303.4" cy="64.7" r="1.15"/>
<circle cx="299.7" cy="75.7" r="1.15"/>
<circle cx="303.9" cy="74.1" r="1.15"/>
<circle cx="299.4" cy="72.2" r="1.15"/>
<circle cx="299.7" cy="78.7" r="1.15"/>
<circle cx="298.3" cy="56.0" r="1.15"/>
<circle cx="303.5" cy="91.3" r="1.15"/>
<circle cx="303.0" cy="70.2" r="1.15"/>
<circle cx="298.0" cy="80.2" r="1.15"/>
<circle cx="298.5" cy="72.2" r="1.15"/>
<circle cx="302.0" cy="68.6" r="1.15"/>
<circle cx="297.9" cy="79.7" r="1.15"/>
<circle cx="299.1" cy="63.8" r="1.15"/>
<circle cx="299.7" cy="67.8" r="1.15"/>
<circle cx="305.9" cy="58.8" r="1.15"/>
<circle cx="305.8" cy="73.8" r="1.15"/>
<circle cx="305.7" cy="60.1" r="1.15"/>
<circle cx="306.2" cy="64.5" r="1.15"/>
<circle cx="305.9" cy="59.8" r="1.15"/>
<circle cx="305.5" cy="63.4" r="1.15"/>
<circle cx="303.0" cy="66.0" r="1.15"/>
<circle cx="302.6" cy="63.5" r="1.15"/>
<circle cx="303.7" cy="60.4" r="1.15"/>
<circle cx="306.3" cy="59.8" r="1.15"/>
<circle cx="299.7" cy="67.4" r="1.15"/>
<circle cx="297.6" cy="71.9" r="1.15"/>
<circle cx="300.6" cy="68.9" r="1.15"/>
<circle cx="302.7" cy="71.3" r="1.15"/>
<circle cx="299.6" cy="68.7" r="1.15"/>
<circle cx="299.6" cy="60.7" r="1.15"/>
<circle cx="298.9" cy="79.2" r="1.15"/>
<circle cx="303.9" cy="69.5" r="1.15"/>
<circle cx="298.8" cy="73.4" r="1.15"/>
<circle cx="300.0" cy="69.3" r="1.15"/>
<circle cx="300.2" cy="68.4" r="1.15"/>
<circle cx="299.2" cy="69.4" r="1.15"/>
<circle cx="303.6" cy="66.1" r="1.15"/>
<circle cx="305.3" cy="55.8" r="1.15"/>
<circle cx="299.8" cy="78.3" r="1.15"/>
<circle cx="305.9" cy="59.0" r="1.15"/>
<circle cx="304.3" cy="70.9" r="1.15"/>
<circle cx="298.1" cy="71.0" r="1.15"/>
<circle cx="305.1" cy="71.1" r="1.15"/>
<circle cx="301.6" cy="63.7" r="1.15"/>
<circle cx="301.5" cy="78.5" r="1.15"/>
<circle cx="298.3" cy="68.7" r="1.15"/>
<circle cx="303.8" cy="68.6" r="1.15"/>
<circle cx="304.6" cy="64.8" r="1.15"/>
<circle cx="299.2" cy="78.0" r="1.15"/>
<circle cx="298.4" cy="72.4" r="1.15"/>
<circle cx="300.7" cy="78.7" r="1.15"/>
<circle cx="300.5" cy="65.3" r="1.15"/>
<circle cx="299.3" cy="66.4" r="1.15"/>
<circle cx="300.6" cy="67.6" r="1.15"/>
<circle cx="299.3" cy="68.4" r="1.15"/>
<circle cx="297.8" cy="77.6" r="1.15"/>
<circle cx="306.0" cy="59.7" r="1.15"/>
<circle cx="306.1" cy="62.7" r="1.15"/>
<circle cx="305.4" cy="68.6" r="1.15"/>
<circle cx="298.6" cy="65.8" r="1.15"/>
<circle cx="301.4" cy="72.7" r="1.15"/>
<circle cx="297.6" cy="64.4" r="1.15"/>
<circle cx="301.5" cy="69.1" r="1.15"/>
<circle cx="302.8" cy="68.9" r="1.15"/>
<circle cx="301.3" cy="63.2" r="1.15"/>
<circle cx="301.6" cy="67.7" r="1.15"/>
<circle cx="297.6" cy="81.2" r="1.15"/>
<circle cx="302.0" cy="75.5" r="1.15"/>
<circle cx="300.6" cy="70.7" r="1.15"/>
<circle cx="303.8" cy="71.2" r="1.15"/>
<circle cx="302.0" cy="59.6" r="1.15"/>
<circle cx="303.4" cy="61.9" r="1.15"/>
<circle cx="305.8" cy="60.0" r="1.15"/>
<circle cx="302.4" cy="75.1" r="1.15"/>
<circle cx="297.9" cy="79.5" r="1.15"/>
<circle cx="305.8" cy="63.8" r="1.15"/>
<circle cx="299.7" cy="66.4" r="1.15"/>
<circle cx="300.3" cy="75.8" r="1.15"/>
<circle cx="306.2" cy="63.0" r="1.15"/>
<circle cx="302.6" cy="59.5" r="1.15"/>
<circle cx="300.3" cy="72.8" r="1.15"/>
<circle cx="303.2" cy="62.2" r="1.15"/>
<circle cx="306.1" cy="64.8" r="1.15"/>
<circle cx="301.6" cy="66.2" r="1.15"/>
<circle cx="302.4" cy="62.0" r="1.15"/>
<circle cx="299.9" cy="79.2" r="1.15"/>
<circle cx="301.9" cy="71.6" r="1.15"/>
<circle cx="302.2" cy="75.5" r="1.15"/>
<circle cx="300.8" cy="70.3" r="1.15"/>
<circle cx="304.2" cy="62.5" r="1.15"/>
<circle cx="300.3" cy="69.9" r="1.15"/>
<circle cx="305.4" cy="59.6" r="1.15"/>
<circle cx="299.2" cy="65.9" r="1.15"/>
<circle cx="301.2" cy="74.7" r="1.15"/>
<circle cx="298.2" cy="69.4" r="1.15"/>
<circle cx="299.4" cy="69.5" r="1.15"/>
<circle cx="301.7" cy="73.4" r="1.15"/>
<circle cx="302.4" cy="65.1" r="1.15"/>
<circle cx="301.8" cy="73.7" r="1.15"/>
<circle cx="298.6" cy="69.0" r="1.15"/>
<circle cx="303.2" cy="75.2" r="1.15"/>
<circle cx="298.0" cy="72.8" r="1.15"/>
<circle cx="300.6" cy="72.6" r="1.15"/>
<circle cx="303.1" cy="66.5" r="1.15"/>
<circle cx="306.3" cy="64.4" r="1.15"/>
<circle cx="303.8" cy="70.2" r="1.15"/>
<circle cx="303.8" cy="70.6" r="1.15"/>
<circle cx="298.7" cy="67.7" r="1.15"/>
<circle cx="302.5" cy="66.7" r="1.15"/>
<circle cx="305.6" cy="60.0" r="1.15"/>
<circle cx="302.9" cy="71.8" r="1.15"/>
<circle cx="299.5" cy="70.7" r="1.15"/>
<circle cx="299.2" cy="66.1" r="1.15"/>
<circle cx="298.4" cy="75.0" r="1.15"/>
<circle cx="300.3" cy="65.2" r="1.15"/>
<circle cx="299.8" cy="81.9" r="1.15"/>
<circle cx="306.0" cy="61.2" r="1.15"/>
<circle cx="305.5" cy="72.8" r="1.15"/>
<circle cx="301.0" cy="68.5" r="1.15"/>
<circle cx="299.0" cy="94.7" r="1.15"/>
<circle cx="302.3" cy="74.0" r="1.15"/>
<circle cx="300.2" cy="76.3" r="1.15"/>
<circle cx="305.4" cy="54.6" r="1.15"/>
<circle cx="300.0" cy="67.5" r="1.15"/>
<circle cx="297.9" cy="72.9" r="1.15"/>
<circle cx="304.5" cy="66.8" r="1.15"/>
<circle cx="301.0" cy="56.8" r="1.15"/>
<circle cx="306.4" cy="65.7" r="1.15"/>
<circle cx="305.5" cy="65.2" r="1.15"/>
<circle cx="297.6" cy="84.4" r="1.15"/>
<circle cx="304.2" cy="64.0" r="1.15"/>
<circle cx="305.1" cy="66.1" r="1.15"/>
<circle cx="302.2" cy="65.3" r="1.15"/>
<circle cx="306.3" cy="64.6" r="1.15"/>
<circle cx="302.8" cy="62.8" r="1.15"/>
<circle cx="301.5" cy="79.3" r="1.15"/>
<circle cx="300.4" cy="78.4" r="1.15"/>
<circle cx="299.9" cy="68.7" r="1.15"/>
<circle cx="301.9" cy="75.0" r="1.15"/>
<circle cx="301.3" cy="70.6" r="1.15"/>
<circle cx="299.2" cy="61.0" r="1.15"/>
<circle cx="302.2" cy="67.5" r="1.15"/>
<circle cx="302.5" cy="66.9" r="1.15"/>
<circle cx="300.6" cy="71.5" r="1.15"/>
<circle cx="300.1" cy="67.5" r="1.15"/>
<circle cx="302.3" cy="71.6" r="1.15"/>
<circle cx="300.8" cy="62.3" r="1.15"/>
<circle cx="303.3" cy="64.1" r="1.15"/>
<circle cx="301.9" cy="61.4" r="1.15"/>
<circle cx="298.6" cy="58.9" r="1.15"/>
<circle cx="302.8" cy="65.0" r="1.15"/>
<circle cx="300.1" cy="78.3" r="1.15"/>
<circle cx="306.2" cy="64.4" r="1.15"/>
<circle cx="305.4" cy="57.8" r="1.15"/>
<circle cx="301.5" cy="74.8" r="1.15"/>
<circle cx="305.4" cy="60.8" r="1.15"/>
<circle cx="303.9" cy="68.8" r="1.15"/>
<circle cx="299.6" cy="70.7" r="1.15"/>
<circle cx="297.6" cy="73.5" r="1.15"/>
<circle cx="299.4" cy="71.8" r="1.15"/>
<circle cx="298.4" cy="80.1" r="1.15"/>
<circle cx="306.2" cy="66.1" r="1.15"/>
<circle cx="298.3" cy="79.8" r="1.15"/>
<circle cx="304.1" cy="65.5" r="1.15"/>
<circle cx="299.3" cy="71.6" r="1.15"/>
<circle cx="298.3" cy="68.9" r="1.15"/>
<circle cx="303.0" cy="69.4" r="1.15"/>
<circle cx="306.2" cy="64.4" r="1.15"/>
<circle cx="298.2" cy="68.5" r="1.15"/>
<circle cx="300.1" cy="71.7" r="1.15"/>
<circle cx="303.8" cy="73.8" r="1.15"/>
<circle cx="302.3" cy="58.3" r="1.15"/>
<circle cx="302.1" cy="69.3" r="1.15"/>
<circle cx="301.3" cy="58.5" r="1.15"/>
<circle cx="305.2" cy="70.8" r="1.15"/>
<circle cx="304.3" cy="61.8" r="1.15"/>
<circle cx="298.0" cy="65.2" r="1.15"/>
<circle cx="302.3" cy="66.0" r="1.15"/>
<circle cx="306.0" cy="62.7" r="1.15"/>
<circle cx="304.4" cy="69.7" r="1.15"/>
<circle cx="305.3" cy="60.5" r="1.15"/>
<circle cx="302.4" cy="74.6" r="1.15"/>
<circle cx="305.9" cy="61.0" r="1.15"/>
<circle cx="298.1" cy="70.1" r="1.15"/>
<circle cx="303.4" cy="76.0" r="1.15"/>
<circle cx="306.2" cy="63.8" r="1.15"/>
<circle cx="301.6" cy="76.3" r="1.15"/>
<circle cx="303.8" cy="66.7" r="1.15"/>
<circle cx="298.8" cy="74.2" r="1.15"/>
<circle cx="298.6" cy="76.7" r="1.15"/>
<circle cx="305.0" cy="59.9" r="1.15"/>
<circle cx="305.3" cy="66.5" r="1.15"/>
<circle cx="301.6" cy="70.5" r="1.15"/>
<circle cx="305.4" cy="67.3" r="1.15"/>
<circle cx="303.7" cy="70.2" r="1.15"/>
<circle cx="298.9" cy="74.5" r="1.15"/>
<circle cx="303.4" cy="64.6" r="1.15"/>
<circle cx="306.4" cy="60.0" r="1.15"/>
<circle cx="303.9" cy="64.9" r="1.15"/>
<circle cx="306.3" cy="62.9" r="1.15"/>
<circle cx="304.9" cy="75.3" r="1.15"/>
<circle cx="299.5" cy="66.9" r="1.15"/>
<circle cx="305.9" cy="68.7" r="1.15"/>
<circle cx="304.1" cy="64.9" r="1.15"/>
<circle cx="300.3" cy="69.2" r="1.15"/>
<circle cx="304.8" cy="69.0" r="1.15"/>
<circle cx="304.7" cy="64.8" r="1.15"/>
<circle cx="301.8" cy="68.3" r="1.15"/>
<circle cx="303.9" cy="67.2" r="1.15"/>
<circle cx="303.3" cy="65.3" r="1.15"/>
<circle cx="301.3" cy="66.6" r="1.15"/>
<circle cx="303.4" cy="76.7" r="1.15"/>
<circle cx="299.8" cy="69.4" r="1.15"/>
<circle cx="298.2" cy="81.8" r="1.15"/>
<circle cx="305.4" cy="55.6" r="1.15"/>
<circle cx="302.6" cy="59.0" r="1.15"/>
<circle cx="301.4" cy="66.0" r="1.15"/>
<circle cx="305.7" cy="70.4" r="1.15"/>
<circle cx="302.3" cy="69.5" r="1.15"/>
<circle cx="305.8" cy="66.7" r="1.15"/>
<circle cx="301.1" cy="75.5" r="1.15"/>
<circle cx="303.3" cy="65.2" r="1.15"/>
<circle cx="299.0" cy="67.1" r="1.15"/>
<circle cx="304.2" cy="65.2" r="1.15"/>
<circle cx="298.7" cy="59.5" r="1.15"/>
<circle cx="304.8" cy="66.2" r="1.15"/>
<circle cx="300.0" cy="77.9" r="1.15"/>
<circle cx="299.3" cy="75.1" r="1.15"/>
<circle cx="306.3" cy="58.6" r="1.15"/>
<circle cx="304.1" cy="65.9" r="1.15"/>
<circle cx="305.9" cy="64.1" r="1.15"/>
<circle cx="302.6" cy="62.2" r="1.15"/>
<circle cx="298.4" cy="72.9" r="1.15"/>
<circle cx="304.2" cy="62.8" r="1.15"/>
<circle cx="299.2" cy="75.8" r="1.15"/>
<circle cx="298.5" cy="68.9" r="1.15"/>
<circle cx="304.2" cy="77.7" r="1.15"/>
<circle cx="304.0" cy="77.0" r="1.15"/>
<circle cx="301.2" cy="72.4" r="1.15"/>
<circle cx="303.2" cy="71.5" r="1.15"/>
<circle cx="306.3" cy="59.6" r="1.15"/>
<circle cx="302.4" cy="63.7" r="1.15"/>
<circle cx="301.0" cy="72.2" r="1.15"/>
<circle cx="305.7" cy="66.8" r="1.15"/>
<circle cx="300.9" cy="83.1" r="1.15"/>
<circle cx="306.4" cy="72.2" r="1.15"/>
<circle cx="305.6" cy="58.7" r="1.15"/>
<circle cx="302.8" cy="65.6" r="1.15"/>
<circle cx="299.6" cy="64.4" r="1.15"/>
<circle cx="299.9" cy="82.0" r="1.15"/>
<circle cx="302.7" cy="70.0" r="1.15"/>
<circle cx="299.4" cy="67.1" r="1.15"/>
<circle cx="301.7" cy="76.5" r="1.15"/>
<circle cx="299.3" cy="70.7" r="1.15"/>
<circle cx="300.2" cy="72.3" r="1.15"/>
<circle cx="302.4" cy="66.0" r="1.15"/>
<circle cx="305.0" cy="68.1" r="1.15"/>
<circle cx="298.1" cy="68.7" r="1.15"/>
<circle cx="303.3" cy="70.8" r="1.15"/>
<circle cx="306.2" cy="60.9" r="1.15"/>
<circle cx="301.7" cy="64.6" r="1.15"/>
<circle cx="303.5" cy="66.5" r="1.15"/>
<circle cx="305.7" cy="65.5" r="1.15"/>
<circle cx="297.8" cy="68.1" r="1.15"/>
<circle cx="306.2" cy="65.1" r="1.15"/>
<circle cx="304.7" cy="59.6" r="1.15"/>
<circle cx="298.5" cy="68.3" r="1.15"/>
<circle cx="303.3" cy="63.4" r="1.15"/>
<circle cx="298.5" cy="79.4" r="1.15"/>
<circle cx="300.2" cy="73.2" r="1.15"/>
<circle cx="304.2" cy="65.2" r="1.15"/>
<circle cx="302.9" cy="69.6" r="1.15"/>
<circle cx="303.5" cy="59.8" r="1.15"/>
<circle cx="299.8" cy="70.2" r="1.15"/>
<circle cx="302.1" cy="67.2" r="1.15"/>
<circle cx="301.6" cy="64.6" r="1.15"/>
<circle cx="305.5" cy="66.3" r="1.15"/>
<circle cx="298.0" cy="74.9" r="1.15"/>
<circle cx="306.2" cy="67.9" r="1.15"/>
<circle cx="298.8" cy="76.3" r="1.15"/>
<circle cx="303.3" cy="68.1" r="1.15"/>
<circle cx="299.3" cy="63.8" r="1.15"/>
<circle cx="299.7" cy="71.2" r="1.15"/>
<circle cx="302.9" cy="83.8" r="1.15"/>
<circle cx="298.0" cy="64.8" r="1.15"/>
<circle cx="298.0" cy="66.3" r="1.15"/>
<circle cx="304.5" cy="61.7" r="1.15"/>
<circle cx="304.0" cy="72.9" r="1.15"/>
<circle cx="306.3" cy="62.2" r="1.15"/>
<circle cx="303.0" cy="80.8" r="1.15"/>
<circle cx="299.5" cy="62.7" r="1.15"/>
<circle cx="304.3" cy="70.2" r="1.15"/>
<circle cx="304.2" cy="67.3" r="1.15"/>
<circle cx="299.0" cy="69.4" r="1.15"/>
<circle cx="297.6" cy="71.2" r="1.15"/>
<circle cx="297.8" cy="67.9" r="1.15"/>
<circle cx="301.5" cy="71.2" r="1.15"/>
<circle cx="303.3" cy="74.2" r="1.15"/>
<circle cx="298.3" cy="71.9" r="1.15"/>
<circle cx="304.1" cy="95.3" r="1.15"/>
<circle cx="302.9" cy="73.5" r="1.15"/>
<circle cx="299.6" cy="69.5" r="1.15"/>
<circle cx="304.4" cy="86.8" r="1.15"/>
<circle cx="304.3" cy="68.9" r="1.15"/>
<circle cx="298.7" cy="65.3" r="1.15"/>
<circle cx="305.7" cy="65.7" r="1.15"/>
<circle cx="299.6" cy="79.4" r="1.15"/>
<circle cx="298.0" cy="70.5" r="1.15"/>
<circle cx="305.1" cy="69.8" r="1.15"/>
<circle cx="297.8" cy="68.0" r="1.15"/>
<circle cx="302.7" cy="72.3" r="1.15"/>
<circle cx="303.9" cy="71.2" r="1.15"/>
<circle cx="300.6" cy="70.4" r="1.15"/>
<circle cx="303.9" cy="61.4" r="1.15"/>
<circle cx="298.0" cy="74.3" r="1.15"/>
<circle cx="298.6" cy="77.4" r="1.15"/>
<circle cx="297.8" cy="67.4" r="1.15"/>
<circle cx="299.0" cy="72.0" r="1.15"/>
<circle cx="302.4" cy="66.4" r="1.15"/>
<circle cx="304.6" cy="64.4" r="1.15"/>
<circle cx="300.0" cy="68.0" r="1.15"/>
<circle cx="305.6" cy="58.0" r="1.15"/>
<circle cx="300.6" cy="68.7" r="1.15"/>
<circle cx="302.2" cy="67.6" r="1.15"/>
<circle cx="298.9" cy="65.6" r="1.15"/>
<circle cx="297.7" cy="67.2" r="1.15"/>
<circle cx="302.1" cy="78.6" r="1.15"/>
<circle cx="305.3" cy="64.7" r="1.15"/>
<circle cx="303.3" cy="69.9" r="1.15"/>
<circle cx="300.9" cy="75.2" r="1.15"/>
<circle cx="300.4" cy="73.8" r="1.15"/>
<circle cx="298.5" cy="78.8" r="1.15"/>
<circle cx="298.1" cy="72.7" r="1.15"/>
<circle cx="300.9" cy="70.9" r="1.15"/>
<circle cx="304.5" cy="66.0" r="1.15"/>
<circle cx="301.8" cy="84.9" r="1.15"/>
<circle cx="299.7" cy="65.3" r="1.15"/>
<circle cx="300.4" cy="73.6" r="1.15"/>
<circle cx="305.6" cy="61.5" r="1.15"/>
<circle cx="301.9" cy="69.5" r="1.15"/>
<circle cx="298.9" cy="70.0" r="1.15"/>
<circle cx="299.2" cy="61.4" r="1.15"/>
<circle cx="298.2" cy="59.0" r="1.15"/>
<circle cx="300.9" cy="62.3" r="1.15"/>
<circle cx="304.8" cy="58.5" r="1.15"/>
<circle cx="300.4" cy="61.5" r="1.15"/>
<circle cx="298.8" cy="75.9" r="1.15"/>
<circle cx="303.4" cy="70.9" r="1.15"/>
<circle cx="303.9" cy="69.0" r="1.15"/>
<circle cx="302.8" cy="69.9" r="1.15"/>
<circle cx="299.5" cy="64.8" r="1.15"/>
<circle cx="299.2" cy="63.2" r="1.15"/>
<circle cx="305.9" cy="62.4" r="1.15"/>
<circle cx="300.6" cy="73.7" r="1.15"/>
<circle cx="300.3" cy="70.3" r="1.15"/>
<circle cx="298.3" cy="77.3" r="1.15"/>
<circle cx="301.9" cy="67.4" r="1.15"/>
<circle cx="302.9" cy="64.2" r="1.15"/>
<circle cx="302.9" cy="62.9" r="1.15"/>
<circle cx="300.8" cy="71.2" r="1.15"/>
<circle cx="304.9" cy="64.7" r="1.15"/>
<circle cx="297.9" cy="73.8" r="1.15"/>
<circle cx="298.8" cy="77.1" r="1.15"/>
<circle cx="303.0" cy="68.8" r="1.15"/>
<circle cx="305.5" cy="68.6" r="1.15"/>
<circle cx="299.8" cy="72.3" r="1.15"/>
<circle cx="300.6" cy="76.5" r="1.15"/>
<circle cx="300.3" cy="65.2" r="1.15"/>
<circle cx="297.9" cy="73.3" r="1.15"/>
<circle cx="299.8" cy="71.6" r="1.15"/>
<circle cx="303.9" cy="76.3" r="1.15"/>
<circle cx="298.8" cy="67.3" r="1.15"/>
<circle cx="303.7" cy="72.6" r="1.15"/>
<circle cx="305.0" cy="60.2" r="1.15"/>
<circle cx="305.5" cy="63.6" r="1.15"/>
<circle cx="298.8" cy="77.6" r="1.15"/>
<circle cx="301.3" cy="66.0" r="1.15"/>
<circle cx="301.9" cy="57.6" r="1.15"/>
<circle cx="300.2" cy="64.4" r="1.15"/>
<circle cx="298.9" cy="77.5" r="1.15"/>
<circle cx="301.7" cy="68.3" r="1.15"/>
<circle cx="306.0" cy="64.6" r="1.15"/>
<circle cx="305.1" cy="70.5" r="1.15"/>
<circle cx="302.5" cy="56.9" r="1.15"/>
<circle cx="304.7" cy="68.3" r="1.15"/>
<circle cx="300.6" cy="67.8" r="1.15"/>
<circle cx="301.1" cy="66.6" r="1.15"/>
<circle cx="301.5" cy="61.8" r="1.15"/>
<circle cx="302.8" cy="70.9" r="1.15"/>
<circle cx="303.7" cy="63.2" r="1.15"/>
<circle cx="303.2" cy="67.1" r="1.15"/>
<circle cx="299.0" cy="74.5" r="1.15"/>
<circle cx="305.4" cy="73.8" r="1.15"/>
<circle cx="305.4" cy="64.6" r="1.15"/>
<circle cx="300.5" cy="70.8" r="1.15"/>
<circle cx="300.0" cy="65.8" r="1.15"/>
<circle cx="301.1" cy="64.2" r="1.15"/>
<circle cx="304.1" cy="67.6" r="1.15"/>
<circle cx="297.6" cy="73.8" r="1.15"/>
<circle cx="301.2" cy="69.7" r="1.15"/>
<circle cx="297.8" cy="77.6" r="1.15"/>
<circle cx="303.5" cy="66.6" r="1.15"/>
<circle cx="298.3" cy="70.2" r="1.15"/>
<circle cx="300.2" cy="73.4" r="1.15"/>
<circle cx="300.0" cy="60.9" r="1.15"/>
<circle cx="304.7" cy="69.5" r="1.15"/>
<circle cx="299.2" cy="69.6" r="1.15"/>
<circle cx="306.1" cy="64.6" r="1.15"/>
<circle cx="301.6" cy="60.0" r="1.15"/>
<circle cx="299.0" cy="78.1" r="1.15"/>
<circle cx="297.8" cy="70.8" r="1.15"/>
<circle cx="297.6" cy="69.2" r="1.15"/>
<circle cx="305.2" cy="60.5" r="1.15"/>
<circle cx="298.6" cy="76.1" r="1.15"/>
<circle cx="298.3" cy="73.6" r="1.15"/>
<circle cx="297.7" cy="72.4" r="1.15"/>
<circle cx="302.2" cy="70.4" r="1.15"/>
<circle cx="299.5" cy="69.6" r="1.15"/>
<circle cx="298.7" cy="78.6" r="1.15"/>
<circle cx="302.6" cy="70.6" r="1.15"/>
<circle cx="301.8" cy="79.9" r="1.15"/>
<circle cx="304.6" cy="71.4" r="1.15"/>
<circle cx="305.7" cy="69.7" r="1.15"/>
<circle cx="299.5" cy="63.8" r="1.15"/>
<circle cx="303.4" cy="63.0" r="1.15"/>
<circle cx="301.1" cy="71.6" r="1.15"/>
<circle cx="298.2" cy="71.3" r="1.15"/>
<circle cx="303.2" cy="68.7" r="1.15"/>
<circle cx="305.3" cy="66.1" r="1.15"/>
<circle cx="302.8" cy="70.0" r="1.15"/>
<circle cx="303.6" cy="62.8" r="1.15"/>
<circle cx="304.0" cy="67.4" r="1.15"/>
<circle cx="303.0" cy="71.2" r="1.15"/>
<circle cx="298.2" cy="74.6" r="1.15"/>
<circle cx="297.9" cy="72.9" r="1.15"/>
<circle cx="306.2" cy="58.9" r="1.15"/>
<circle cx="301.0" cy="72.2" r="1.15"/>
<circle cx="300.9" cy="66.0" r="1.15"/>
<circle cx="300.9" cy="65.3" r="1.15"/>
<circle cx="297.8" cy="77.4" r="1.15"/>
<circle cx="304.4" cy="64.1" r="1.15"/>
<circle cx="299.3" cy="69.7" r="1.15"/>
<circle cx="304.2" cy="71.0" r="1.15"/>
<circle cx="303.4" cy="69.1" r="1.15"/>
<circle cx="300.9" cy="64.2" r="1.15"/>
<circle cx="301.6" cy="59.9" r="1.15"/>
<circle cx="299.9" cy="65.0" r="1.15"/>
<circle cx="302.5" cy="73.3" r="1.15"/>
<circle cx="304.8" cy="67.7" r="1.15"/>
<circle cx="301.7" cy="63.1" r="1.15"/>
<circle cx="300.9" cy="68.3" r="1.15"/>
<circle cx="299.1" cy="68.1" r="1.15"/>
<circle cx="299.7" cy="64.3" r="1.15"/>
<circle cx="305.9" cy="62.4" r="1.15"/>
<circle cx="306.4" cy="62.6" r="1.15"/>
<circle cx="305.7" cy="68.7" r="1.15"/>
<circle cx="305.9" cy="66.8" r="1.15"/>
<circle cx="300.2" cy="68.5" r="1.15"/>
<circle cx="301.1" cy="60.4" r="1.15"/>
<circle cx="297.7" cy="77.0" r="1.15"/>
<circle cx="304.0" cy="66.0" r="1.15"/>
<circle cx="299.8" cy="69.1" r="1.15"/>
<circle cx="301.4" cy="68.7" r="1.15"/>
<circle cx="303.7" cy="66.6" r="1.15"/>
<circle cx="299.2" cy="77.4" r="1.15"/>
<circle cx="300.7" cy="61.9" r="1.15"/>
<circle cx="300.2" cy="67.4" r="1.15"/>
<circle cx="304.1" cy="73.1" r="1.15"/>
<circle cx="301.1" cy="77.3" r="1.15"/>
<circle cx="299.4" cy="66.2" r="1.15"/>
<circle cx="299.6" cy="71.7" r="1.15"/>
<circle cx="297.6" cy="67.7" r="1.15"/>
<circle cx="301.9" cy="65.1" r="1.15"/>
<circle cx="304.2" cy="68.4" r="1.15"/>
<circle cx="300.0" cy="66.0" r="1.15"/>
<circle cx="306.2" cy="67.5" r="1.15"/>
<circle cx="297.6" cy="71.4" r="1.15"/>
<circle cx="301.8" cy="67.5" r="1.15"/>
<circle cx="301.5" cy="65.9" r="1.15"/>
<circle cx="303.7" cy="70.4" r="1.15"/>
<circle cx="301.6" cy="63.9" r="1.15"/>
<circle cx="302.1" cy="67.5" r="1.15"/>
<circle cx="299.4" cy="62.4" r="1.15"/>
<circle cx="300.2" cy="71.3" r="1.15"/>
<circle cx="306.1" cy="65.6" r="1.15"/>
<circle cx="306.1" cy="64.8" r="1.15"/>
<circle cx="297.8" cy="73.8" r="1.15"/>
<circle cx="298.2" cy="69.0" r="1.15"/>
<circle cx="304.3" cy="67.1" r="1.15"/>
<circle cx="304.4" cy="63.9" r="1.15"/>
<circle cx="300.2" cy="66.8" r="1.15"/>
<circle cx="298.0" cy="78.8" r="1.15"/>
<circle cx="305.1" cy="62.9" r="1.15"/>
<circle cx="300.4" cy="72.4" r="1.15"/>
<circle cx="301.9" cy="60.2" r="1.15"/>
<circle cx="301.9" cy="68.2" r="1.15"/>
<circle cx="302.0" cy="69.7" r="1.15"/>
<circle cx="298.6" cy="79.4" r="1.15"/>
<circle cx="304.9" cy="65.8" r="1.15"/>
<circle cx="304.7" cy="66.1" r="1.15"/>
<circle cx="303.5" cy="66.2" r="1.15"/>
<circle cx="302.8" cy="75.4" r="1.15"/>
<circle cx="299.5" cy="70.7" r="1.15"/>
<circle cx="302.4" cy="63.7" r="1.15"/>
<circle cx="298.8" cy="67.8" r="1.15"/>
<circle cx="301.2" cy="60.3" r="1.15"/>
<circle cx="300.5" cy="66.1" r="1.15"/>
<circle cx="300.8" cy="91.9" r="1.15"/>
<circle cx="301.3" cy="58.7" r="1.15"/>
<circle cx="302.0" cy="59.0" r="1.15"/>
<circle cx="298.0" cy="75.2" r="1.15"/>
<circle cx="301.6" cy="75.6" r="1.15"/>
<circle cx="297.7" cy="77.8" r="1.15"/>
<circle cx="300.3" cy="66.0" r="1.15"/>
<circle cx="302.6" cy="67.3" r="1.15"/>
<circle cx="300.7" cy="65.2" r="1.15"/>
<circle cx="300.6" cy="71.7" r="1.15"/>
<circle cx="301.4" cy="64.1" r="1.15"/>
<circle cx="306.1" cy="65.8" r="1.15"/>
<circle cx="304.9" cy="59.6" r="1.15"/>
<circle cx="305.4" cy="60.4" r="1.15"/>
<circle cx="304.8" cy="64.9" r="1.15"/>
<circle cx="306.1" cy="65.8" r="1.15"/>
<circle cx="299.8" cy="66.8" r="1.15"/>
<circle cx="298.0" cy="67.2" r="1.15"/>
<circle cx="301.9" cy="71.2" r="1.15"/>
<circle cx="303.6" cy="65.9" r="1.15"/>
<circle cx="297.9" cy="78.0" r="1.15"/>
<circle cx="301.3" cy="75.2" r="1.15"/>
<circle cx="299.3" cy="68.8" r="1.15"/>
<circle cx="302.1" cy="65.2" r="1.15"/>
<circle cx="304.6" cy="60.6" r="1.15"/>
<circle cx="297.7" cy="70.1" r="1.15"/>
<circle cx="303.9" cy="65.9" r="1.15"/>
<circle cx="304.5" cy="61.8" r="1.15"/>
<circle cx="299.7" cy="66.0" r="1.15"/>
<circle cx="301.1" cy="65.3" r="1.15"/>
<circle cx="299.0" cy="76.6" r="1.15"/>
<circle cx="304.5" cy="62.7" r="1.15"/>
<circle cx="299.3" cy="65.2" r="1.15"/>
<circle cx="299.4" cy="74.1" r="1.15"/>
<circle cx="302.4" cy="68.1" r="1.15"/>
<circle cx="303.9" cy="73.2" r="1.15"/>
<circle cx="301.6" cy="67.6" r="1.15"/>
<circle cx="299.4" cy="71.3" r="1.15"/>
<circle cx="305.1" cy="68.2" r="1.15"/>
<circle cx="300.7" cy="63.8" r="1.15"/>
<circle cx="304.8" cy="79.0" r="1.15"/>
<circle cx="300.9" cy="74.9" r="1.15"/>
<circle cx="301.3" cy="63.8" r="1.15"/>
<circle cx="303.3" cy="64.3" r="1.15"/>
<circle cx="304.6" cy="70.0" r="1.15"/>
<circle cx="303.2" cy="63.4" r="1.15"/>
<circle cx="304.3" cy="68.2" r="1.15"/>
<circle cx="305.5" cy="62.7" r="1.15"/>
<circle cx="300.7" cy="77.1" r="1.15"/>
<circle cx="299.9" cy="75.0" r="1.15"/>
<circle cx="306.2" cy="62.6" r="1.15"/>
<circle cx="303.0" cy="74.3" r="1.15"/>
<circle cx="298.3" cy="71.7" r="1.15"/>
<circle cx="298.2" cy="65.4" r="1.15"/>
<circle cx="297.9" cy="79.8" r="1.15"/>
<circle cx="299.7" cy="73.4" r="1.15"/>
<circle cx="302.5" cy="73.1" r="1.15"/>
<circle cx="300.3" cy="65.1" r="1.15"/>
<circle cx="303.9" cy="84.5" r="1.15"/>
<circle cx="305.2" cy="68.6" r="1.15"/>
<circle cx="304.4" cy="56.6" r="1.15"/>
<circle cx="298.3" cy="80.0" r="1.15"/>
<circle cx="300.2" cy="77.4" r="1.15"/>
<circle cx="302.3" cy="69.4" r="1.15"/>
<circle cx="302.7" cy="59.5" r="1.15"/>
<circle cx="299.7" cy="62.8" r="1.15"/>
<circle cx="305.8" cy="66.9" r="1.15"/>
<circle cx="305.2" cy="65.9" r="1.15"/>
<circle cx="302.6" cy="66.5" r="1.15"/>
<circle cx="305.1" cy="65.5" r="1.15"/>
<circle cx="299.9" cy="64.2" r="1.15"/>
<circle cx="297.7" cy="78.1" r="1.15"/>
<circle cx="303.1" cy="67.2" r="1.15"/>
<circle cx="299.5" cy="66.8" r="1.15"/>
<circle cx="300.1" cy="78.5" r="1.15"/>
<circle cx="300.8" cy="66.7" r="1.15"/>
<circle cx="304.2" cy="65.3" r="1.15"/>
<circle cx="299.1" cy="69.6" r="1.15"/>
<circle cx="304.9" cy="63.8" r="1.15"/>
<circle cx="299.9" cy="72.4" r="1.15"/>
<circle cx="300.4" cy="75.5" r="1.15"/>
<circle cx="299.5" cy="66.2" r="1.15"/>
<circle cx="305.0" cy="63.2" r="1.15"/>
<circle cx="302.5" cy="60.8" r="1.15"/>
<circle cx="301.6" cy="71.1" r="1.15"/>
<circle cx="305.3" cy="68.7" r="1.15"/>
<circle cx="297.7" cy="79.2" r="1.15"/>
<circle cx="299.3" cy="64.0" r="1.15"/>
<circle cx="304.2" cy="65.0" r="1.15"/>
<circle cx="304.9" cy="69.7" r="1.15"/>
<circle cx="298.6" cy="74.3" r="1.15"/>
<circle cx="300.5" cy="66.4" r="1.15"/>
<circle cx="303.3" cy="71.1" r="1.15"/>
<circle cx="299.2" cy="63.9" r="1.15"/>
<circle cx="299.1" cy="70.0" r="1.15"/>
<circle cx="302.2" cy="70.8" r="1.15"/>
<circle cx="301.4" cy="72.3" r="1.15"/>
<circle cx="300.3" cy="75.0" r="1.15"/>
<circle cx="302.6" cy="65.7" r="1.15"/>
<circle cx="305.9" cy="58.8" r="1.15"/>
<circle cx="297.8" cy="73.0" r="1.15"/>
<circle cx="299.2" cy="80.2" r="1.15"/>
<circle cx="299.6" cy="68.1" r="1.15"/>
<circle cx="302.0" cy="69.0" r="1.15"/>
<circle cx="299.7" cy="68.7" r="1.15"/>
<circle cx="302.1" cy="64.1" r="1.15"/>
<circle cx="304.2" cy="73.4" r="1.15"/>
<circle cx="302.5" cy="76.9" r="1.15"/>
<circle cx="300.3" cy="69.0" r="1.15"/>
<circle cx="298.1" cy="66.5" r="1.15"/>
<circle cx="305.9" cy="67.5" r="1.15"/>
<circle cx="303.7" cy="73.8" r="1.15"/>
<circle cx="299.2" cy="79.7" r="1.15"/>
<circle cx="304.6" cy="66.5" r="1.15"/>
<circle cx="300.6" cy="70.5" r="1.15"/>
<circle cx="300.4" cy="67.9" r="1.15"/>
<circle cx="297.8" cy="70.3" r="1.15"/>
<circle cx="299.1" cy="80.3" r="1.15"/>
<circle cx="297.9" cy="84.8" r="1.15"/>
<circle cx="303.8" cy="69.0" r="1.15"/>
<circle cx="301.3" cy="76.3" r="1.15"/>
<circle cx="300.7" cy="78.8" r="1.15"/>
<circle cx="305.0" cy="64.8" r="1.15"/>
<circle cx="302.0" cy="66.6" r="1.15"/>
<circle cx="299.6" cy="69.1" r="1.15"/>
<circle cx="302.4" cy="67.9" r="1.15"/>
<circle cx="301.3" cy="72.3" r="1.15"/>
<circle cx="301.9" cy="76.3" r="1.15"/>
<circle cx="299.3" cy="67.5" r="1.15"/>
<circle cx="303.2" cy="70.0" r="1.15"/>
<circle cx="304.7" cy="70.4" r="1.15"/>
<circle cx="301.5" cy="66.2" r="1.15"/>
<circle cx="305.3" cy="69.0" r="1.15"/>
<circle cx="299.2" cy="71.6" r="1.15"/>
<circle cx="305.3" cy="66.8" r="1.15"/>
<circle cx="301.3" cy="57.0" r="1.15"/>
<circle cx="298.5" cy="74.0" r="1.15"/>
<circle cx="301.1" cy="71.3" r="1.15"/>
<circle cx="301.0" cy="67.3" r="1.15"/>
<circle cx="298.8" cy="69.4" r="1.15"/>
<circle cx="305.5" cy="64.1" r="1.15"/>
<circle cx="301.0" cy="69.2" r="1.15"/>
<circle cx="300.4" cy="70.0" r="1.15"/>
<circle cx="300.6" cy="64.7" r="1.15"/>
<circle cx="305.6" cy="62.3" r="1.15"/>
<circle cx="300.5" cy="65.2" r="1.15"/>
<circle cx="299.2" cy="64.3" r="1.15"/>
<circle cx="303.7" cy="69.9" r="1.15"/>
<circle cx="300.5" cy="60.2" r="1.15"/>
<circle cx="304.0" cy="55.8" r="1.15"/>
<circle cx="300.4" cy="72.9" r="1.15"/>
<circle cx="302.4" cy="76.2" r="1.15"/>
<circle cx="305.4" cy="68.0" r="1.15"/>
<circle cx="305.9" cy="67.0" r="1.15"/>
<circle cx="301.9" cy="69.9" r="1.15"/>
<circle cx="301.1" cy="61.6" r="1.15"/>
<circle cx="301.3" cy="68.2" r="1.15"/>
<circle cx="303.8" cy="57.3" r="1.15"/>
<circle cx="301.2" cy="75.6" r="1.15"/>
<circle cx="299.4" cy="64.7" r="1.15"/>
<circle cx="306.2" cy="63.2" r="1.15"/>
<circle cx="300.6" cy="71.3" r="1.15"/>
<circle cx="302.4" cy="58.1" r="1.15"/>
<circle cx="300.4" cy="69.6" r="1.15"/>
<circle cx="299.6" cy="71.5" r="1.15"/>
<circle cx="300.6" cy="65.8" r="1.15"/>
<circle cx="301.2" cy="71.5" r="1.15"/>
<circle cx="297.8" cy="79.2" r="1.15"/>
<circle cx="304.1" cy="74.1" r="1.15"/>
<circle cx="303.3" cy="59.5" r="1.15"/>
<circle cx="298.0" cy="75.5" r="1.15"/>
<circle cx="301.1" cy="64.2" r="1.15"/>
<circle cx="302.0" cy="69.0" r="1.15"/>
<circle cx="303.4" cy="65.2" r="1.15"/>
<circle cx="306.2" cy="63.9" r="1.15"/>
<circle cx="305.1" cy="64.6" r="1.15"/>
<circle cx="304.5" cy="63.1" r="1.15"/>
<circle cx="304.8" cy="61.3" r="1.15"/>
<circle cx="298.8" cy="66.9" r="1.15"/>
<circle cx="302.3" cy="72.9" r="1.15"/>
<circle cx="304.0" cy="66.2" r="1.15"/>
<circle cx="300.9" cy="70.0" r="1.15"/>
<circle cx="304.2" cy="70.7" r="1.15"/>
<circle cx="304.9" cy="61.8" r="1.15"/>
<circle cx="305.4" cy="59.6" r="1.15"/>
<circle cx="303.5" cy="76.9" r="1.15"/>
<circle cx="303.5" cy="65.0" r="1.15"/>
<circle cx="305.2" cy="61.6" r="1.15"/>
<circle cx="301.2" cy="68.7" r="1.15"/>
<circle cx="303.9" cy="70.0" r="1.15"/>
<circle cx="304.8" cy="64.4" r="1.15"/>
<circle cx="304.3" cy="60.1" r="1.15"/>
<circle cx="299.6" cy="81.2" r="1.15"/>
<circle cx="298.9" cy="70.7" r="1.15"/>
<circle cx="303.2" cy="66.0" r="1.15"/>
<circle cx="301.3" cy="62.3" r="1.15"/>
<circle cx="298.1" cy="82.2" r="1.15"/>
<circle cx="305.4" cy="65.7" r="1.15"/>
<circle cx="302.2" cy="65.9" r="1.15"/>
<circle cx="306.0" cy="65.4" r="1.15"/>
<circle cx="297.6" cy="79.9" r="1.15"/>
<circle cx="304.3" cy="72.9" r="1.15"/>
<circle cx="302.5" cy="70.6" r="1.15"/>
<circle cx="303.1" cy="73.6" r="1.15"/>
<circle cx="304.6" cy="63.7" r="1.15"/>
<circle cx="297.9" cy="74.0" r="1.15"/>
<circle cx="299.1" cy="83.6" r="1.15"/>
<circle cx="305.0" cy="69.7" r="1.15"/>
<circle cx="303.2" cy="67.9" r="1.15"/>
<circle cx="298.7" cy="75.2" r="1.15"/>
<circle cx="305.1" cy="62.4" r="1.15"/>
<circle cx="301.0" cy="60.7" r="1.15"/>
<circle cx="303.4" cy="66.9" r="1.15"/>
<circle cx="303.1" cy="66.6" r="1.15"/>
<circle cx="303.1" cy="69.2" r="1.15"/>
<circle cx="304.6" cy="64.7" r="1.15"/>
<circle cx="306.2" cy="66.9" r="1.15"/>
<circle cx="303.6" cy="60.5" r="1.15"/>
<circle cx="298.1" cy="77.4" r="1.15"/>
<circle cx="304.9" cy="67.6" r="1.15"/>
<circle cx="303.2" cy="69.9" r="1.15"/>
<circle cx="298.2" cy="72.9" r="1.15"/>
<circle cx="304.2" cy="66.5" r="1.15"/>
<circle cx="300.3" cy="64.2" r="1.15"/>
<circle cx="301.6" cy="69.9" r="1.15"/>
<circle cx="301.2" cy="76.5" r="1.15"/>
<circle cx="303.5" cy="72.7" r="1.15"/>
<circle cx="299.6" cy="72.0" r="1.15"/>
<circle cx="306.0" cy="69.1" r="1.15"/>
<circle cx="306.4" cy="63.5" r="1.15"/>
<circle cx="304.4" cy="66.4" r="1.15"/>
<circle cx="302.7" cy="67.4" r="1.15"/>
<circle cx="300.5" cy="65.8" r="1.15"/>
<circle cx="300.2" cy="64.2" r="1.15"/>
<circle cx="298.0" cy="69.7" r="1.15"/>
<circle cx="299.6" cy="70.2" r="1.15"/>
<circle cx="302.6" cy="73.3" r="1.15"/>
<circle cx="303.1" cy="69.5" r="1.15"/>
<circle cx="299.1" cy="70.4" r="1.15"/>
<circle cx="297.9" cy="77.8" r="1.15"/>
<circle cx="299.3" cy="71.7" r="1.15"/>
<circle cx="303.2" cy="64.8" r="1.15"/>
<circle cx="302.6" cy="74.3" r="1.15"/>
<circle cx="297.9" cy="71.7" r="1.15"/>
<circle cx="299.7" cy="73.9" r="1.15"/>
<circle cx="300.0" cy="71.5" r="1.15"/>
<circle cx="299.0" cy="63.4" r="1.15"/>
<circle cx="304.2" cy="59.2" r="1.15"/>
<circle cx="304.2" cy="60.7" r="1.15"/>
<circle cx="300.9" cy="65.9" r="1.15"/>
<circle cx="300.0" cy="71.1" r="1.15"/>
<circle cx="298.8" cy="77.1" r="1.15"/>
<circle cx="298.0" cy="70.3" r="1.15"/>
<circle cx="301.9" cy="65.3" r="1.15"/>
<circle cx="297.6" cy="60.3" r="1.15"/>
<circle cx="305.6" cy="59.9" r="1.15"/>
<circle cx="303.3" cy="72.9" r="1.15"/>
<circle cx="301.7" cy="68.4" r="1.15"/>
<circle cx="299.4" cy="71.8" r="1.15"/>
<circle cx="301.1" cy="69.7" r="1.15"/>
<circle cx="305.0" cy="64.1" r="1.15"/>
<circle cx="299.0" cy="67.4" r="1.15"/>
<circle cx="303.2" cy="67.1" r="1.15"/>
<circle cx="298.8" cy="58.6" r="1.15"/>
<circle cx="304.5" cy="66.2" r="1.15"/>
<circle cx="302.3" cy="70.5" r="1.15"/>
<circle cx="306.1" cy="55.4" r="1.15"/>
<circle cx="299.2" cy="62.3" r="1.15"/>
<circle cx="298.6" cy="82.5" r="1.15"/>
<circle cx="302.1" cy="64.5" r="1.15"/>
<circle cx="300.4" cy="77.2" r="1.15"/>
<circle cx="302.0" cy="77.5" r="1.15"/>
<circle cx="301.4" cy="70.5" r="1.15"/>
<circle cx="304.4" cy="74.2" r="1.15"/>
<circle cx="301.6" cy="68.3" r="1.15"/>
<circle cx="298.3" cy="76.6" r="1.15"/>
<circle cx="305.8" cy="68.7" r="1.15"/>
<circle cx="304.9" cy="60.6" r="1.15"/>
<circle cx="306.0" cy="62.2" r="1.15"/>
<circle cx="302.1" cy="67.5" r="1.15"/>
<circle cx="297.8" cy="77.0" r="1.15"/>
<circle cx="302.6" cy="62.5" r="1.15"/>
<circle cx="304.8" cy="70.9" r="1.15"/>
<circle cx="305.8" cy="68.0" r="1.15"/>
<circle cx="298.2" cy="72.4" r="1.15"/>
<circle cx="300.5" cy="65.5" r="1.15"/>
<circle cx="298.0" cy="73.4" r="1.15"/>
<circle cx="306.3" cy="65.2" r="1.15"/>
<circle cx="298.0" cy="61.6" r="1.15"/>
<circle cx="305.7" cy="69.1" r="1.15"/>
<circle cx="300.4" cy="77.5" r="1.15"/>
<circle cx="300.4" cy="65.9" r="1.15"/>
<circle cx="298.2" cy="67.1" r="1.15"/>
<circle cx="304.8" cy="61.6" r="1.15"/>
<circle cx="303.0" cy="67.0" r="1.15"/>
<circle cx="305.1" cy="68.3" r="1.15"/>
<circle cx="303.8" cy="62.1" r="1.15"/>
<circle cx="305.3" cy="60.0" r="1.15"/>
<circle cx="301.4" cy="63.3" r="1.15"/>
<circle cx="300.7" cy="73.2" r="1.15"/>
<circle cx="304.7" cy="67.3" r="1.15"/>
<circle cx="299.9" cy="61.5" r="1.15"/>
<circle cx="303.8" cy="61.5" r="1.15"/>
<circle cx="305.9" cy="58.7" r="1.15"/>
<circle cx="304.8" cy="68.8" r="1.15"/>
<circle cx="301.6" cy="54.8" r="1.15"/>
<circle cx="301.4" cy="66.2" r="1.15"/>
<circle cx="305.4" cy="68.4" r="1.15"/>
<circle cx="299.8" cy="64.0" r="1.15"/>
<circle cx="300.1" cy="66.3" r="1.15"/>
<circle cx="298.8" cy="67.5" r="1.15"/>
<circle cx="305.9" cy="68.9" r="1.15"/>
<circle cx="303.3" cy="57.2" r="1.15"/>
<circle cx="303.5" cy="60.6" r="1.15"/>
<circle cx="305.9" cy="68.0" r="1.15"/>
<circle cx="302.4" cy="71.0" r="1.15"/>
<circle cx="302.8" cy="71.5" r="1.15"/>
<circle cx="301.8" cy="70.5" r="1.15"/>
<circle cx="300.2" cy="68.7" r="1.15"/>
<circle cx="297.8" cy="76.7" r="1.15"/>
<circle cx="301.9" cy="61.7" r="1.15"/>
<circle cx="300.1" cy="69.8" r="1.15"/>
<circle cx="304.9" cy="68.4" r="1.15"/>
<circle cx="306.1" cy="60.5" r="1.15"/>
<circle cx="302.3" cy="59.3" r="1.15"/>
<circle cx="301.3" cy="61.8" r="1.15"/>
<circle cx="303.9" cy="75.1" r="1.15"/>
<circle cx="301.6" cy="65.5" r="1.15"/>
<circle cx="297.6" cy="77.4" r="1.15"/>
<circle cx="299.2" cy="69.6" r="1.15"/>
<circle cx="306.1" cy="56.6" r="1.15"/>
<circle cx="305.7" cy="67.3" r="1.15"/>
<circle cx="300.0" cy="73.9" r="1.15"/>
<circle cx="304.8" cy="68.0" r="1.15"/>
<circle cx="302.3" cy="70.7" r="1.15"/>
<circle cx="304.0" cy="63.5" r="1.15"/>
<circle cx="304.5" cy="64.9" r="1.15"/>
<circle cx="300.9" cy="72.0" r="1.15"/>
<circle cx="301.8" cy="66.9" r="1.15"/>
<circle cx="300.8" cy="68.1" r="1.15"/>
<circle cx="300.7" cy="68.8" r="1.15"/>
<circle cx="300.4" cy="65.5" r="1.15"/>
<circle cx="303.3" cy="65.7" r="1.15"/>
<circle cx="303.3" cy="67.7" r="1.15"/>
<circle cx="302.6" cy="67.5" r="1.15"/>
<circle cx="298.9" cy="74.2" r="1.15"/>
<circle cx="300.6" cy="67.5" r="1.15"/>
<circle cx="302.0" cy="77.7" r="1.15"/>
<circle cx="301.2" cy="63.0" r="1.15"/>
<circle cx="303.1" cy="69.3" r="1.15"/>
<circle cx="299.6" cy="72.2" r="1.15"/>
<circle cx="297.9" cy="64.4" r="1.15"/>
<circle cx="301.4" cy="67.5" r="1.15"/>
<circle cx="304.6" cy="65.2" r="1.15"/>
<circle cx="304.3" cy="67.5" r="1.15"/>
<circle cx="302.5" cy="63.9" r="1.15"/>
<circle cx="303.9" cy="71.5" r="1.15"/>
<circle cx="300.1" cy="62.9" r="1.15"/>
<circle cx="302.4" cy="60.9" r="1.15"/>
<circle cx="306.1" cy="63.8" r="1.15"/>
<circle cx="298.5" cy="66.9" r="1.15"/>
<circle cx="304.7" cy="69.4" r="1.15"/>
<circle cx="304.8" cy="70.6" r="1.15"/>
<circle cx="300.5" cy="72.2" r="1.15"/>
<circle cx="303.0" cy="60.7" r="1.15"/>
<circle cx="300.9" cy="69.7" r="1.15"/>
<circle cx="298.0" cy="68.5" r="1.15"/>
<circle cx="298.6" cy="69.9" r="1.15"/>
<circle cx="301.2" cy="77.9" r="1.15"/>
<circle cx="299.6" cy="72.0" r="1.15"/>
<circle cx="299.7" cy="65.7" r="1.15"/>
<circle cx="303.8" cy="62.5" r="1.15"/>
<circle cx="297.6" cy="75.4" r="1.15"/>
<circle cx="301.4" cy="69.6" r="1.15"/>
<circle cx="300.8" cy="70.8" r="1.15"/>
<circle cx="297.6" cy="66.8" r="1.15"/>
<circle cx="302.4" cy="72.1" r="1.15"/>
<circle cx="303.7" cy="69.6" r="1.15"/>
<circle cx="303.2" cy="68.4" r="1.15"/>
<circle cx="302.3" cy="76.0" r="1.15"/>
<circle cx="299.0" cy="65.1" r="1.15"/>
<circle cx="300.5" cy="68.0" r="1.15"/>
<circle cx="302.6" cy="71.7" r="1.15"/>
<circle cx="298.1" cy="82.1" r="1.15"/>
<circle cx="304.5" cy="68.5" r="1.15"/>
<circle cx="301.9" cy="98.5" r="1.15"/>
<circle cx="300.1" cy="68.3" r="1.15"/>
<circle cx="301.7" cy="63.1" r="1.15"/>
<circle cx="300.2" cy="67.2" r="1.15"/>
<circle cx="297.6" cy="70.5" r="1.15"/>
<circle cx="300.1" cy="72.0" r="1.15"/>
<circle cx="301.5" cy="77.3" r="1.15"/>
<circle cx="301.7" cy="69.4" r="1.15"/>
<circle cx="302.3" cy="69.4" r="1.15"/>
<circle cx="302.0" cy="71.3" r="1.15"/>
<circle cx="305.8" cy="69.1" r="1.15"/>
<circle cx="301.3" cy="71.9" r="1.15"/>
<circle cx="302.2" cy="63.3" r="1.15"/>
<circle cx="299.6" cy="72.9" r="1.15"/>
<circle cx="305.1" cy="96.0" r="1.15"/>
<circle cx="302.6" cy="72.4" r="1.15"/>
<circle cx="300.2" cy="72.2" r="1.15"/>
<circle cx="301.8" cy="74.2" r="1.15"/>
<circle cx="306.0" cy="65.2" r="1.15"/>
<circle cx="298.9" cy="78.5" r="1.15"/>
<circle cx="302.9" cy="60.2" r="1.15"/>
<circle cx="303.7" cy="57.0" r="1.15"/>
<circle cx="303.4" cy="61.7" r="1.15"/>
<circle cx="305.8" cy="61.9" r="1.15"/>
<circle cx="298.3" cy="66.2" r="1.15"/>
<circle cx="300.8" cy="66.1" r="1.15"/>
<circle cx="305.3" cy="63.9" r="1.15"/>
<circle cx="303.7" cy="64.2" r="1.15"/>
<circle cx="305.2" cy="69.0" r="1.15"/>
<circle cx="305.2" cy="64.2" r="1.15"/>
<circle cx="303.4" cy="65.1" r="1.15"/>
<circle cx="304.3" cy="62.4" r="1.15"/>
<circle cx="304.3" cy="69.0" r="1.15"/>
<circle cx="304.1" cy="64.4" r="1.15"/>
<circle cx="300.4" cy="74.0" r="1.15"/>
<circle cx="299.3" cy="75.2" r="1.15"/>
<circle cx="300.0" cy="70.7" r="1.15"/>
<circle cx="305.9" cy="56.0" r="1.15"/>
<circle cx="303.2" cy="64.4" r="1.15"/>
<circle cx="305.9" cy="59.7" r="1.15"/>
<circle cx="304.0" cy="59.5" r="1.15"/>
<circle cx="300.7" cy="69.4" r="1.15"/>
<circle cx="304.6" cy="65.0" r="1.15"/>
<circle cx="303.4" cy="65.5" r="1.15"/>
<circle cx="305.1" cy="67.8" r="1.15"/>
<circle cx="302.3" cy="74.5" r="1.15"/>
<circle cx="305.3" cy="66.0" r="1.15"/>
<circle cx="304.7" cy="69.1" r="1.15"/>
<circle cx="303.4" cy="65.6" r="1.15"/>
<circle cx="302.7" cy="66.2" r="1.15"/>
<circle cx="300.4" cy="74.2" r="1.15"/>
<circle cx="301.5" cy="74.9" r="1.15"/>
<circle cx="305.4" cy="60.4" r="1.15"/>
<circle cx="300.6" cy="63.2" r="1.15"/>
<circle cx="298.5" cy="71.3" r="1.15"/>
<circle cx="304.1" cy="71.3" r="1.15"/>
<circle cx="300.4" cy="66.3" r="1.15"/>
<circle cx="303.4" cy="73.4" r="1.15"/>
<circle cx="304.4" cy="60.7" r="1.15"/>
<circle cx="301.0" cy="64.4" r="1.15"/>
<circle cx="300.0" cy="72.2" r="1.15"/>
<circle cx="303.0" cy="76.4" r="1.15"/>
<circle cx="302.8" cy="66.4" r="1.15"/>
<circle cx="304.0" cy="71.0" r="1.15"/>
<circle cx="301.9" cy="63.7" r="1.15"/>
<circle cx="304.4" cy="63.8" r="1.15"/>
<circle cx="303.2" cy="58.5" r="1.15"/>
<circle cx="298.0" cy="74.0" r="1.15"/>
<circle cx="299.5" cy="64.3" r="1.15"/>
<circle cx="301.9" cy="60.4" r="1.15"/>
<circle cx="306.2" cy="65.9" r="1.15"/>
<circle cx="305.9" cy="61.8" r="1.15"/>
<circle cx="302.2" cy="64.8" r="1.15"/>
<circle cx="298.1" cy="74.8" r="1.15"/>
<circle cx="299.1" cy="81.8" r="1.15"/>
<circle cx="305.4" cy="65.0" r="1.15"/>
<circle cx="300.6" cy="68.3" r="1.15"/>
<circle cx="300.8" cy="78.7" r="1.15"/>
<circle cx="305.9" cy="61.2" r="1.15"/>
<circle cx="301.3" cy="60.3" r="1.15"/>
<circle cx="303.2" cy="68.8" r="1.15"/>
<circle cx="298.1" cy="75.8" r="1.15"/>
<circle cx="305.6" cy="59.4" r="1.15"/>
<circle cx="304.7" cy="70.7" r="1.15"/>
<circle cx="300.3" cy="61.8" r="1.15"/>
<circle cx="302.1" cy="70.2" r="1.15"/>
<circle cx="300.7" cy="79.1" r="1.15"/>
<circle cx="302.1" cy="66.9" r="1.15"/>
<circle cx="302.4" cy="74.0" r="1.15"/>
<circle cx="300.2" cy="64.1" r="1.15"/>
<circle cx="298.6" cy="74.9" r="1.15"/>
<circle cx="302.5" cy="67.1" r="1.15"/>
<circle cx="306.0" cy="66.4" r="1.15"/>
<circle cx="301.9" cy="70.2" r="1.15"/>
<circle cx="304.0" cy="63.2" r="1.15"/>
<circle cx="300.9" cy="86.0" r="1.15"/>
<circle cx="304.4" cy="69.1" r="1.15"/>
<circle cx="302.2" cy="75.1" r="1.15"/>
<circle cx="303.0" cy="59.7" r="1.15"/>
<circle cx="306.3" cy="64.0" r="1.15"/>
<circle cx="303.0" cy="63.9" r="1.15"/>
<circle cx="299.6" cy="74.3" r="1.15"/>
<circle cx="299.0" cy="72.1" r="1.15"/>
<circle cx="306.0" cy="62.3" r="1.15"/>
<circle cx="306.2" cy="71.1" r="1.15"/>
<circle cx="301.5" cy="69.5" r="1.15"/>
<circle cx="304.7" cy="71.1" r="1.15"/>
<circle cx="304.8" cy="60.2" r="1.15"/>
<circle cx="302.3" cy="57.4" r="1.15"/>
<circle cx="303.4" cy="61.3" r="1.15"/>
<circle cx="303.6" cy="57.5" r="1.15"/>
<circle cx="299.8" cy="68.4" r="1.15"/>
<circle cx="302.6" cy="77.1" r="1.15"/>
<circle cx="305.2" cy="66.0" r="1.15"/>
<circle cx="303.7" cy="69.7" r="1.15"/>
<circle cx="304.0" cy="64.7" r="1.15"/>
<circle cx="302.1" cy="65.5" r="1.15"/>
<circle cx="305.4" cy="74.0" r="1.15"/>
<circle cx="302.4" cy="76.3" r="1.15"/>
<circle cx="305.5" cy="65.5" r="1.15"/>
<circle cx="301.9" cy="56.1" r="1.15"/>
<circle cx="304.0" cy="75.6" r="1.15"/>
<circle cx="299.1" cy="67.4" r="1.15"/>
<circle cx="303.9" cy="62.6" r="1.15"/>
<circle cx="303.5" cy="64.3" r="1.15"/>
<circle cx="298.3" cy="77.1" r="1.15"/>
<circle cx="302.0" cy="63.9" r="1.15"/>
<circle cx="299.6" cy="64.6" r="1.15"/>
<circle cx="299.3" cy="73.5" r="1.15"/>
<circle cx="299.6" cy="70.2" r="1.15"/>
<circle cx="301.3" cy="70.6" r="1.15"/>
<circle cx="297.6" cy="82.6" r="1.15"/>
<circle cx="301.8" cy="62.9" r="1.15"/>
<circle cx="302.3" cy="72.5" r="1.15"/>
<circle cx="300.8" cy="77.2" r="1.15"/>
<circle cx="305.8" cy="62.0" r="1.15"/>
<circle cx="305.5" cy="56.5" r="1.15"/>
<circle cx="302.2" cy="72.1" r="1.15"/>
<circle cx="298.2" cy="63.4" r="1.15"/>
<circle cx="305.6" cy="59.2" r="1.15"/>
<circle cx="299.6" cy="77.7" r="1.15"/>
<circle cx="302.2" cy="73.7" r="1.15"/>
<circle cx="300.0" cy="64.4" r="1.15"/>
<circle cx="301.6" cy="60.4" r="1.15"/>
<circle cx="299.4" cy="72.6" r="1.15"/>
<circle cx="301.0" cy="73.3" r="1.15"/>
<circle cx="301.1" cy="63.6" r="1.15"/>
<circle cx="304.8" cy="64.0" r="1.15"/>
<circle cx="300.2" cy="72.2" r="1.15"/>
<circle cx="299.0" cy="65.4" r="1.15"/>
<circle cx="303.7" cy="69.1" r="1.15"/>
<circle cx="297.9" cy="71.4" r="1.15"/>
<circle cx="300.6" cy="68.7" r="1.15"/>
<circle cx="301.0" cy="67.3" r="1.15"/>
<circle cx="303.9" cy="62.7" r="1.15"/>
<circle cx="305.7" cy="69.5" r="1.15"/>
<circle cx="305.4" cy="66.4" r="1.15"/>
<circle cx="304.0" cy="68.5" r="1.15"/>
<circle cx="301.9" cy="66.5" r="1.15"/>
<circle cx="306.4" cy="63.1" r="1.15"/>
<circle cx="299.3" cy="68.3" r="1.15"/>
<circle cx="301.6" cy="74.4" r="1.15"/>
<circle cx="303.9" cy="59.4" r="1.15"/>
<circle cx="304.8" cy="69.2" r="1.15"/>
<circle cx="300.0" cy="67.9" r="1.15"/>
<circle cx="300.1" cy="72.5" r="1.15"/>
<circle cx="299.1" cy="61.5" r="1.15"/>
<circle cx="301.6" cy="68.1" r="1.15"/>
<circle cx="303.0" cy="59.0" r="1.15"/>
<circle cx="298.2" cy="79.0" r="1.15"/>
<circle cx="297.6" cy="74.6" r="1.15"/>
<circle cx="299.9" cy="71.1" r="1.15"/>
<circle cx="299.5" cy="73.4" r="1.15"/>
<circle cx="297.8" cy="65.8" r="1.15"/>
<circle cx="303.7" cy="59.9" r="1.15"/>
<circle cx="302.4" cy="70.8" r="1.15"/>
<circle cx="302.0" cy="64.5" r="1.15"/>
<circle cx="298.2" cy="68.3" r="1.15"/>
<circle cx="301.1" cy="72.5" r="1.15"/>
<circle cx="302.8" cy="71.1" r="1.15"/>
<circle cx="304.7" cy="65.9" r="1.15"/>
<circle cx="304.0" cy="69.9" r="1.15"/>
<circle cx="301.9" cy="73.8" r="1.15"/>
<circle cx="303.1" cy="68.3" r="1.15"/>
<circle cx="297.9" cy="78.2" r="1.15"/>
<circle cx="300.0" cy="66.2" r="1.15"/>
<circle cx="298.2" cy="69.4" r="1.15"/>
<circle cx="300.1" cy="64.0" r="1.15"/>
<circle cx="298.9" cy="68.8" r="1.15"/>
<circle cx="303.2" cy="69.8" r="1.15"/>
<circle cx="300.7" cy="73.2" r="1.15"/>
<circle cx="298.5" cy="76.9" r="1.15"/>
<circle cx="300.0" cy="71.6" r="1.15"/>
<circle cx="302.1" cy="75.3" r="1.15"/>
<circle cx="303.8" cy="63.3" r="1.15"/>
<circle cx="301.0" cy="71.2" r="1.15"/>
<circle cx="301.5" cy="68.7" r="1.15"/>
<circle cx="300.8" cy="79.6" r="1.15"/>
<circle cx="302.4" cy="63.9" r="1.15"/>
<circle cx="304.2" cy="66.6" r="1.15"/>
<circle cx="305.3" cy="73.2" r="1.15"/>
<circle cx="303.1" cy="62.1" r="1.15"/>
<circle cx="300.0" cy="70.9" r="1.15"/>
<circle cx="305.2" cy="63.4" r="1.15"/>
<circle cx="304.4" cy="59.1" r="1.15"/>
<circle cx="304.4" cy="64.4" r="1.15"/>
<circle cx="304.5" cy="67.5" r="1.15"/>
<circle cx="302.6" cy="70.1" r="1.15"/>
<circle cx="303.4" cy="74.0" r="1.15"/>
<circle cx="297.9" cy="71.1" r="1.15"/>
<circle cx="298.7" cy="70.7" r="1.15"/>
<circle cx="305.8" cy="68.5" r="1.15"/>
<circle cx="305.5" cy="63.6" r="1.15"/>
<circle cx="302.8" cy="63.8" r="1.15"/>
<circle cx="304.1" cy="62.4" r="1.15"/>
<circle cx="301.8" cy="66.2" r="1.15"/>
<circle cx="305.8" cy="68.4" r="1.15"/>
<circle cx="305.3" cy="71.2" r="1.15"/>
<circle cx="302.9" cy="66.9" r="1.15"/>
<circle cx="302.0" cy="76.9" r="1.15"/>
<circle cx="306.1" cy="63.1" r="1.15"/>
<circle cx="298.4" cy="72.9" r="1.15"/>
<circle cx="298.7" cy="66.2" r="1.15"/>
<circle cx="304.0" cy="69.9" r="1.15"/>
<circle cx="301.4" cy="65.4" r="1.15"/>
<circle cx="304.1" cy="69.0" r="1.15"/>
<circle cx="297.7" cy="64.0" r="1.15"/>
<circle cx="302.8" cy="65.9" r="1.15"/>
<circle cx="298.5" cy="70.3" r="1.15"/>
<circle cx="297.9" cy="72.5" r="1.15"/>
<circle cx="305.2" cy="61.3" r="1.15"/>
<circle cx="302.7" cy="64.1" r="1.15"/>
<circle cx="302.5" cy="63.4" r="1.15"/>
<circle cx="306.1" cy="60.7" r="1.15"/>
<circle cx="300.6" cy="70.1" r="1.15"/>
<circle cx="300.2" cy="65.3" r="1.15"/>
<circle cx="305.8" cy="63.4" r="1.15"/>
<circle cx="299.1" cy="75.0" r="1.15"/>
<circle cx="301.9" cy="63.2" r="1.15"/>
<circle cx="301.4" cy="71.7" r="1.15"/>
<circle cx="306.4" cy="65.4" r="1.15"/>
<circle cx="299.6" cy="69.1" r="1.15"/>
<circle cx="300.0" cy="73.7" r="1.15"/>
<circle cx="304.4" cy="65.5" r="1.15"/>
<circle cx="303.8" cy="67.2" r="1.15"/>
<circle cx="306.2" cy="66.0" r="1.15"/>
<circle cx="301.6" cy="73.0" r="1.15"/>
<circle cx="299.6" cy="70.1" r="1.15"/>
<circle cx="298.0" cy="66.1" r="1.15"/>
<circle cx="300.3" cy="64.0" r="1.15"/>
<circle cx="300.6" cy="59.4" r="1.15"/>
<circle cx="305.7" cy="64.2" r="1.15"/>
<circle cx="302.8" cy="66.8" r="1.15"/>
<circle cx="299.7" cy="60.2" r="1.15"/>
<circle cx="303.8" cy="65.3" r="1.15"/>
<circle cx="306.2" cy="71.4" r="1.15"/>
<circle cx="304.1" cy="63.2" r="1.15"/>
<circle cx="304.5" cy="65.3" r="1.15"/>
<circle cx="300.6" cy="74.4" r="1.15"/>
<circle cx="298.8" cy="66.0" r="1.15"/>
<circle cx="300.6" cy="64.3" r="1.15"/>
<circle cx="306.2" cy="63.3" r="1.15"/>
<circle cx="306.4" cy="61.2" r="1.15"/>
<circle cx="305.4" cy="72.4" r="1.15"/>
<circle cx="304.3" cy="59.0" r="1.15"/>
<circle cx="305.8" cy="71.0" r="1.15"/>
<circle cx="305.6" cy="64.4" r="1.15"/>
<circle cx="302.9" cy="71.5" r="1.15"/>
<circle cx="305.4" cy="67.2" r="1.15"/>
<circle cx="300.2" cy="65.6" r="1.15"/>
<circle cx="303.1" cy="70.5" r="1.15"/>
<circle cx="298.7" cy="73.1" r="1.15"/>
<circle cx="297.6" cy="66.2" r="1.15"/>
<circle cx="301.8" cy="58.2" r="1.15"/>
<circle cx="303.4" cy="68.5" r="1.15"/>
<circle cx="300.4" cy="64.9" r="1.15"/>
<circle cx="301.2" cy="82.3" r="1.15"/>
<circle cx="305.3" cy="63.9" r="1.15"/>
<circle cx="298.9" cy="72.6" r="1.15"/>
<circle cx="305.8" cy="62.1" r="1.15"/>
<circle cx="304.8" cy="65.8" r="1.15"/>
<circle cx="303.8" cy="64.7" r="1.15"/>
<circle cx="298.5" cy="78.3" r="1.15"/>
<circle cx="304.6" cy="62.4" r="1.15"/>
<circle cx="303.1" cy="68.8" r="1.15"/>
<circle cx="299.5" cy="66.6" r="1.15"/>
<circle cx="304.1" cy="65.2" r="1.15"/>
<circle cx="305.6" cy="67.5" r="1.15"/>
<circle cx="302.3" cy="74.3" r="1.15"/>
<circle cx="306.1" cy="65.5" r="1.15"/>
<circle cx="297.8" cy="65.6" r="1.15"/>
<circle cx="305.7" cy="91.4" r="1.15"/>
<circle cx="304.7" cy="65.1" r="1.15"/>
<circle cx="302.4" cy="64.8" r="1.15"/>
<circle cx="300.8" cy="67.7" r="1.15"/>
<circle cx="301.8" cy="71.7" r="1.15"/>
<circle cx="303.3" cy="65.9" r="1.15"/>
<circle cx="303.4" cy="59.7" r="1.15"/>
<circle cx="303.2" cy="67.3" r="1.15"/>
<circle cx="302.1" cy="67.2" r="1.15"/>
<circle cx="299.1" cy="69.5" r="1.15"/>
<circle cx="298.8" cy="73.6" r="1.15"/>
<circle cx="303.7" cy="64.6" r="1.15"/>
<circle cx="301.5" cy="68.7" r="1.15"/>
<circle cx="303.1" cy="65.9" r="1.15"/>
<circle cx="300.4" cy="76.5" r="1.15"/>
<circle cx="303.7" cy="70.1" r="1.15"/>
<circle cx="302.0" cy="72.0" r="1.15"/>
<circle cx="297.9" cy="74.8" r="1.15"/>
<circle cx="297.6" cy="78.4" r="1.15"/>
<circle cx="305.2" cy="68.2" r="1.15"/>
<circle cx="299.6" cy="74.9" r="1.15"/>
<circle cx="303.0" cy="66.7" r="1.15"/>
<circle cx="306.2" cy="61.4" r="1.15"/>
<circle cx="303.5" cy="73.0" r="1.15"/>
<circle cx="303.8" cy="63.7" r="1.15"/>
<circle cx="305.1" cy="67.1" r="1.15"/>
<circle cx="302.0" cy="69.2" r="1.15"/>
<circle cx="306.2" cy="57.9" r="1.15"/>
<circle cx="301.4" cy="76.1" r="1.15"/>
<circle cx="304.3" cy="61.0" r="1.15"/>
<circle cx="300.5" cy="62.3" r="1.15"/>
<circle cx="302.2" cy="73.4" r="1.15"/>
<circle cx="302.8" cy="64.8" r="1.15"/>
<circle cx="303.6" cy="62.8" r="1.15"/>
<circle cx="297.7" cy="75.7" r="1.15"/>
<circle cx="302.3" cy="68.7" r="1.15"/>
<circle cx="302.3" cy="62.2" r="1.15"/>
<circle cx="305.7" cy="64.6" r="1.15"/>
<circle cx="302.6" cy="73.0" r="1.15"/>
<circle cx="302.1" cy="58.1" r="1.15"/>
<circle cx="304.7" cy="68.7" r="1.15"/>
<circle cx="302.5" cy="64.4" r="1.15"/>
<circle cx="301.5" cy="60.9" r="1.15"/>
<circle cx="302.4" cy="70.5" r="1.15"/>
<circle cx="303.6" cy="63.5" r="1.15"/>
<circle cx="298.2" cy="65.3" r="1.15"/>
<circle cx="302.2" cy="64.6" r="1.15"/>
<circle cx="299.9" cy="68.8" r="1.15"/>
<circle cx="301.2" cy="75.7" r="1.15"/>
<circle cx="302.0" cy="65.5" r="1.15"/>
<circle cx="300.8" cy="63.2" r="1.15"/>
<circle cx="301.7" cy="73.8" r="1.15"/>
<circle cx="299.5" cy="66.9" r="1.15"/>
<circle cx="303.6" cy="69.1" r="1.15"/>
<circle cx="306.2" cy="62.0" r="1.15"/>
<circle cx="301.0" cy="70.0" r="1.15"/>
<circle cx="304.9" cy="58.9" r="1.15"/>
<circle cx="304.9" cy="68.5" r="1.15"/>
<circle cx="300.5" cy="82.0" r="1.15"/>
<circle cx="299.4" cy="72.4" r="1.15"/>
<circle cx="300.3" cy="63.2" r="1.15"/>
<circle cx="303.3" cy="64.5" r="1.15"/>
<circle cx="298.0" cy="75.7" r="1.15"/>
<circle cx="300.9" cy="71.2" r="1.15"/>
<circle cx="302.6" cy="67.5" r="1.15"/>
<circle cx="300.7" cy="61.0" r="1.15"/>
<circle cx="302.9" cy="69.8" r="1.15"/>
<circle cx="300.5" cy="62.3" r="1.15"/>
<circle cx="302.1" cy="78.2" r="1.15"/>
<circle cx="304.9" cy="64.6" r="1.15"/>
<circle cx="303.7" cy="61.2" r="1.15"/>
<circle cx="301.0" cy="70.7" r="1.15"/>
<circle cx="300.2" cy="71.9" r="1.15"/>
<circle cx="305.4" cy="61.3" r="1.15"/>
<circle cx="302.6" cy="59.4" r="1.15"/>
<circle cx="305.4" cy="66.7" r="1.15"/>
<circle cx="303.0" cy="62.4" r="1.15"/>
<circle cx="299.1" cy="71.5" r="1.15"/>
<circle cx="300.1" cy="73.3" r="1.15"/>
<circle cx="303.4" cy="72.4" r="1.15"/>
<circle cx="302.5" cy="66.9" r="1.15"/>
<circle cx="300.0" cy="72.6" r="1.15"/>
<circle cx="303.0" cy="62.8" r="1.15"/>
<circle cx="299.8" cy="69.7" r="1.15"/>
<circle cx="300.3" cy="76.8" r="1.15"/>
<circle cx="298.7" cy="66.5" r="1.15"/>
<circle cx="298.9" cy="74.9" r="1.15"/>
<circle cx="297.6" cy="62.1" r="1.15"/>
<circle cx="298.7" cy="69.2" r="1.15"/>
<circle cx="303.9" cy="62.9" r="1.15"/>
<circle cx="300.8" cy="70.4" r="1.15"/>
<circle cx="300.3" cy="74.4" r="1.15"/>
<circle cx="301.3" cy="74.1" r="1.15"/>
<circle cx="298.5" cy="63.6" r="1.15"/>
<circle cx="300.4" cy="66.7" r="1.15"/>
<circle cx="300.0" cy="71.4" r="1.15"/>
<circle cx="301.1" cy="68.1" r="1.15"/>
<circle cx="304.5" cy="60.7" r="1.15"/>
<circle cx="297.6" cy="71.4" r="1.15"/>
<circle cx="298.3" cy="70.9" r="1.15"/>
<circle cx="302.9" cy="69.6" r="1.15"/>
<circle cx="302.2" cy="68.2" r="1.15"/>
<circle cx="302.5" cy="64.9" r="1.15"/>
<circle cx="301.7" cy="66.9" r="1.15"/>
<circle cx="305.8" cy="58.1" r="1.15"/>
<circle cx="305.9" cy="57.8" r="1.15"/>
<circle cx="301.6" cy="71.5" r="1.15"/>
<circle cx="306.4" cy="65.9" r="1.15"/>
<circle cx="298.6" cy="73.8" r="1.15"/>
<circle cx="305.7" cy="65.9" r="1.15"/>
<circle cx="299.2" cy="76.3" r="1.15"/>
<circle cx="298.2" cy="77.9" r="1.15"/>
<circle cx="301.1" cy="66.4" r="1.15"/>
<circle cx="299.1" cy="76.7" r="1.15"/>
<circle cx="299.2" cy="87.7" r="1.15"/>
<circle cx="300.2" cy="65.2" r="1.15"/>
<circle cx="306.1" cy="69.3" r="1.15"/>
<circle cx="300.0" cy="70.2" r="1.15"/>
<circle cx="304.0" cy="64.3" r="1.15"/>
<circle cx="305.7" cy="59.8" r="1.15"/>
<circle cx="304.5" cy="68.1" r="1.15"/>
<circle cx="300.9" cy="72.2" r="1.15"/>
<circle cx="301.7" cy="71.9" r="1.15"/>
<circle cx="302.6" cy="66.0" r="1.15"/>
<circle cx="298.0" cy="77.9" r="1.15"/>
<circle cx="305.0" cy="65.5" r="1.15"/>
<circle cx="300.9" cy="73.8" r="1.15"/>
<circle cx="299.3" cy="63.5" r="1.15"/>
<circle cx="303.7" cy="72.2" r="1.15"/>
<circle cx="304.6" cy="69.2" r="1.15"/>
<circle cx="301.5" cy="67.1" r="1.15"/>
<circle cx="305.5" cy="62.4" r="1.15"/>
<circle cx="304.1" cy="68.8" r="1.15"/>
<circle cx="305.6" cy="62.6" r="1.15"/>
<circle cx="301.1" cy="67.2" r="1.15"/>
<circle cx="301.0" cy="69.7" r="1.15"/>
<circle cx="298.9" cy="68.8" r="1.15"/>
<circle cx="302.2" cy="64.9" r="1.15"/>
<circle cx="300.2" cy="76.7" r="1.15"/>
<circle cx="300.6" cy="69.9" r="1.15"/>
<circle cx="300.4" cy="61.7" r="1.15"/>
<circle cx="304.0" cy="68.3" r="1.15"/>
<circle cx="304.0" cy="67.9" r="1.15"/>
<circle cx="301.1" cy="68.4" r="1.15"/>
<circle cx="302.0" cy="74.8" r="1.15"/>
<circle cx="298.9" cy="66.0" r="1.15"/>
<circle cx="298.3" cy="74.0" r="1.15"/>
<circle cx="302.5" cy="60.3" r="1.15"/>
<circle cx="301.5" cy="67.7" r="1.15"/>
<circle cx="304.3" cy="63.1" r="1.15"/>
<circle cx="304.2" cy="69.7" r="1.15"/>
<circle cx="303.8" cy="67.4" r="1.15"/>
<circle cx="297.9" cy="67.8" r="1.15"/>
<circle cx="300.9" cy="64.0" r="1.15"/>
<circle cx="298.8" cy="64.1" r="1.15"/>
<circle cx="302.8" cy="60.8" r="1.15"/>
<circle cx="303.4" cy="70.1" r="1.15"/>
<circle cx="298.9" cy="68.4" r="1.15"/>
<circle cx="306.3" cy="69.5" r="1.15"/>
<circle cx="302.0" cy="65.4" r="1.15"/>
<circle cx="303.3" cy="62.9" r="1.15"/>
<circle cx="305.2" cy="67.0" r="1.15"/>
<circle cx="305.5" cy="55.4" r="1.15"/>
<circle cx="303.0" cy="65.8" r="1.15"/>
<circle cx="300.6" cy="69.1" r="1.15"/>
<circle cx="302.5" cy="76.0" r="1.15"/>
<circle cx="301.4" cy="63.6" r="1.15"/>
<circle cx="303.8" cy="70.1" r="1.15"/>
<circle cx="303.8" cy="68.0" r="1.15"/>
<circle cx="301.8" cy="74.5" r="1.15"/>
<circle cx="302.3" cy="76.2" r="1.15"/>
<circle cx="306.2" cy="66.8" r="1.15"/>
<circle cx="299.5" cy="65.7" r="1.15"/>
<circle cx="304.6" cy="59.6" r="1.15"/>
<circle cx="298.0" cy="61.6" r="1.15"/>
<circle cx="298.0" cy="73.1" r="1.15"/>
<circle cx="304.8" cy="60.5" r="1.15"/>
<circle cx="299.6" cy="65.1" r="1.15"/>
<circle cx="306.3" cy="66.9" r="1.15"/>
<circle cx="297.7" cy="80.0" r="1.15"/>
<circle cx="305.2" cy="65.9" r="1.15"/>
<circle cx="305.6" cy="63.7" r="1.15"/>
<circle cx="302.5" cy="73.4" r="1.15"/>
<circle cx="298.5" cy="70.7" r="1.15"/>
<circle cx="303.2" cy="66.6" r="1.15"/>
<circle cx="298.2" cy="75.4" r="1.15"/>
<circle cx="298.2" cy="70.9" r="1.15"/>
<circle cx="305.8" cy="70.0" r="1.15"/>
<circle cx="299.9" cy="70.3" r="1.15"/>
<circle cx="305.5" cy="65.9" r="1.15"/>
<circle cx="305.1" cy="68.0" r="1.15"/>
<circle cx="300.1" cy="63.5" r="1.15"/>
<circle cx="305.9" cy="66.4" r="1.15"/>
<circle cx="300.4" cy="65.8" r="1.15"/>
<circle cx="305.3" cy="66.5" r="1.15"/>
<circle cx="303.6" cy="65.8" r="1.15"/>
<circle cx="299.6" cy="73.3" r="1.15"/>
<circle cx="298.6" cy="67.5" r="1.15"/>
<circle cx="304.9" cy="66.5" r="1.15"/>
<circle cx="305.6" cy="67.0" r="1.15"/>
<circle cx="300.3" cy="74.9" r="1.15"/>
<circle cx="305.3" cy="58.9" r="1.15"/>
<circle cx="305.2" cy="67.0" r="1.15"/>
<circle cx="306.3" cy="61.9" r="1.15"/>
<circle cx="298.7" cy="69.1" r="1.15"/>
<circle cx="297.6" cy="67.9" r="1.15"/>
<circle cx="303.3" cy="67.1" r="1.15"/>
<circle cx="302.0" cy="69.4" r="1.15"/>
<circle cx="305.0" cy="62.9" r="1.15"/>
<circle cx="306.2" cy="67.9" r="1.15"/>
<circle cx="303.5" cy="74.8" r="1.15"/>
<circle cx="304.3" cy="62.9" r="1.15"/>
<circle cx="297.6" cy="66.0" r="1.15"/>
<circle cx="300.7" cy="72.8" r="1.15"/>
<circle cx="303.8" cy="62.6" r="1.15"/>
<circle cx="302.3" cy="71.6" r="1.15"/>
<circle cx="304.3" cy="60.4" r="1.15"/>
<circle cx="306.1" cy="62.5" r="1.15"/>
<circle cx="303.0" cy="72.0" r="1.15"/>
<circle cx="305.9" cy="65.0" r="1.15"/>
<circle cx="302.9" cy="67.1" r="1.15"/>
<circle cx="297.7" cy="64.3" r="1.15"/>
<circle cx="297.8" cy="71.7" r="1.15"/>
<circle cx="300.8" cy="66.9" r="1.15"/>
<circle cx="301.0" cy="68.3" r="1.15"/>
<circle cx="298.4" cy="73.5" r="1.15"/>
<circle cx="304.0" cy="61.0" r="1.15"/>
<circle cx="302.7" cy="68.6" r="1.15"/>
<circle cx="305.2" cy="67.0" r="1.15"/>
<circle cx="301.0" cy="69.7" r="1.15"/>
<circle cx="297.9" cy="72.8" r="1.15"/>
<circle cx="303.3" cy="64.5" r="1.15"/>
<circle cx="298.2" cy="67.5" r="1.15"/>
<circle cx="302.5" cy="62.6" r="1.15"/>
<circle cx="305.8" cy="61.4" r="1.15"/>
<circle cx="300.6" cy="63.3" r="1.15"/>
<circle cx="300.5" cy="63.6" r="1.15"/>
<circle cx="303.1" cy="59.3" r="1.15"/>
<circle cx="298.4" cy="72.2" r="1.15"/>
<circle cx="297.9" cy="78.8" r="1.15"/>
<circle cx="299.1" cy="74.4" r="1.15"/>
<circle cx="303.5" cy="69.2" r="1.15"/>
<circle cx="305.8" cy="69.2" r="1.15"/>
<circle cx="302.6" cy="67.5" r="1.15"/>
<circle cx="299.3" cy="75.9" r="1.15"/>
<circle cx="297.6" cy="76.3" r="1.15"/>
<circle cx="306.2" cy="56.2" r="1.15"/>
<circle cx="299.0" cy="78.1" r="1.15"/>
<circle cx="306.1" cy="65.0" r="1.15"/>
<circle cx="304.7" cy="59.0" r="1.15"/>
<circle cx="302.6" cy="68.4" r="1.15"/>
<circle cx="299.3" cy="68.2" r="1.15"/>
<circle cx="301.0" cy="69.8" r="1.15"/>
<circle cx="303.9" cy="68.2" r="1.15"/>
<circle cx="300.6" cy="67.2" r="1.15"/>
<circle cx="301.7" cy="66.6" r="1.15"/>
<circle cx="299.7" cy="62.7" r="1.15"/>
<circle cx="299.5" cy="75.9" r="1.15"/>
<circle cx="299.1" cy="74.5" r="1.15"/>
<circle cx="299.5" cy="62.4" r="1.15"/>
<circle cx="306.1" cy="66.3" r="1.15"/>
<circle cx="302.8" cy="63.3" r="1.15"/>
<circle cx="300.0" cy="65.0" r="1.15"/>
<circle cx="305.0" cy="56.2" r="1.15"/>
<circle cx="302.8" cy="72.1" r="1.15"/>
<circle cx="299.6" cy="72.0" r="1.15"/>
<circle cx="302.3" cy="67.8" r="1.15"/>
<circle cx="305.4" cy="70.4" r="1.15"/>
<circle cx="302.4" cy="63.4" r="1.15"/>
<circle cx="300.4" cy="69.6" r="1.15"/>
<circle cx="300.7" cy="65.1" r="1.15"/>
<circle cx="303.5" cy="70.7" r="1.15"/>
<circle cx="298.5" cy="69.7" r="1.15"/>
<circle cx="301.2" cy="66.2" r="1.15"/>
<circle cx="304.5" cy="69.5" r="1.15"/>
<circle cx="302.9" cy="58.6" r="1.15"/>
<circle cx="299.2" cy="72.0" r="1.15"/>
<circle cx="301.7" cy="75.3" r="1.15"/>
<circle cx="298.4" cy="69.0" r="1.15"/>
<circle cx="299.0" cy="64.8" r="1.15"/>
<circle cx="303.7" cy="63.7" r="1.15"/>
<circle cx="305.7" cy="68.3" r="1.15"/>
<circle cx="303.5" cy="73.5" r="1.15"/>
<circle cx="298.9" cy="66.1" r="1.15"/>
<circle cx="302.9" cy="68.3" r="1.15"/>
<circle cx="298.6" cy="70.9" r="1.15"/>
<circle cx="298.4" cy="62.6" r="1.15"/>
<circle cx="302.2" cy="66.2" r="1.15"/>
<circle cx="298.5" cy="69.7" r="1.15"/>
<circle cx="303.4" cy="68.5" r="1.15"/>
<circle cx="306.2" cy="66.7" r="1.15"/>
<circle cx="305.9" cy="66.2" r="1.15"/>
<circle cx="304.2" cy="70.7" r="1.15"/>
<circle cx="300.2" cy="72.2" r="1.15"/>
<circle cx="298.8" cy="72.1" r="1.15"/>
<circle cx="302.7" cy="73.6" r="1.15"/>
<circle cx="303.6" cy="65.1" r="1.15"/>
<circle cx="304.6" cy="71.7" r="1.15"/>
<circle cx="302.1" cy="77.9" r="1.15"/>
<circle cx="304.6" cy="64.7" r="1.15"/>
<circle cx="300.4" cy="77.0" r="1.15"/>
<circle cx="300.5" cy="69.6" r="1.15"/>
<circle cx="299.5" cy="65.8" r="1.15"/>
<circle cx="305.7" cy="58.5" r="1.15"/>
<circle cx="299.1" cy="67.6" r="1.15"/>
<circle cx="303.6" cy="61.8" r="1.15"/>
<circle cx="303.2" cy="68.2" r="1.15"/>
<circle cx="302.8" cy="75.0" r="1.15"/>
<circle cx="304.8" cy="66.2" r="1.15"/>
<circle cx="306.2" cy="60.4" r="1.15"/>
<circle cx="298.1" cy="70.7" r="1.15"/>
<circle cx="306.0" cy="60.1" r="1.15"/>
<circle cx="300.1" cy="73.1" r="1.15"/>
<circle cx="300.7" cy="65.1" r="1.15"/>
<circle cx="302.3" cy="63.4" r="1.15"/>
<circle cx="298.5" cy="79.4" r="1.15"/>
<circle cx="301.3" cy="73.4" r="1.15"/>
<circle cx="301.9" cy="67.3" r="1.15"/>
<circle cx="305.9" cy="60.2" r="1.15"/>
<circle cx="298.6" cy="78.5" r="1.15"/>
<circle cx="304.0" cy="74.8" r="1.15"/>
<circle cx="302.8" cy="61.2" r="1.15"/>
<circle cx="302.5" cy="73.8" r="1.15"/>
<circle cx="302.3" cy="62.9" r="1.15"/>
<circle cx="303.0" cy="78.9" r="1.15"/>
<circle cx="301.1" cy="59.3" r="1.15"/>
<circle cx="302.6" cy="64.8" r="1.15"/>
<circle cx="306.2" cy="67.8" r="1.15"/>
<circle cx="303.0" cy="68.4" r="1.15"/>
<circle cx="299.2" cy="69.5" r="1.15"/>
<circle cx="302.4" cy="64.1" r="1.15"/>
<circle cx="298.8" cy="80.6" r="1.15"/>
<circle cx="297.9" cy="82.4" r="1.15"/>
<circle cx="297.8" cy="63.5" r="1.15"/>
<circle cx="305.7" cy="69.1" r="1.15"/>
<circle cx="306.0" cy="63.5" r="1.15"/>
<circle cx="304.5" cy="64.2" r="1.15"/>
<circle cx="301.3" cy="68.4" r="1.15"/>
<circle cx="304.7" cy="69.2" r="1.15"/>
<circle cx="299.0" cy="84.4" r="1.15"/>
<circle cx="301.2" cy="71.9" r="1.15"/>
<circle cx="298.1" cy="71.7" r="1.15"/>
<circle cx="303.6" cy="71.7" r="1.15"/>
<circle cx="302.8" cy="85.2" r="1.15"/>
<circle cx="298.4" cy="78.8" r="1.15"/>
<circle cx="304.0" cy="68.7" r="1.15"/>
<circle cx="300.4" cy="85.6" r="1.15"/>
<circle cx="302.0" cy="71.7" r="1.15"/>
<circle cx="301.1" cy="68.2" r="1.15"/>
<circle cx="299.6" cy="66.7" r="1.15"/>
<circle cx="299.3" cy="74.3" r="1.15"/>
<circle cx="301.9" cy="72.5" r="1.15"/>
<circle cx="302.1" cy="70.7" r="1.15"/>
<circle cx="303.8" cy="72.9" r="1.15"/>
<circle cx="303.4" cy="57.2" r="1.15"/>
<circle cx="302.4" cy="65.0" r="1.15"/>
<circle cx="303.8" cy="66.6" r="1.15"/>
<circle cx="301.9" cy="69.7" r="1.15"/>
<circle cx="306.1" cy="57.7" r="1.15"/>
<circle cx="301.3" cy="70.5" r="1.15"/>
<circle cx="300.4" cy="69.5" r="1.15"/>
<circle cx="303.0" cy="66.8" r="1.15"/>
<circle cx="302.6" cy="62.3" r="1.15"/>
<circle cx="303.7" cy="64.9" r="1.15"/>
<circle cx="301.0" cy="76.7" r="1.15"/>
<circle cx="302.2" cy="62.4" r="1.15"/>
<circle cx="299.2" cy="85.0" r="1.15"/>
<circle cx="303.6" cy="63.8" r="1.15"/>
<circle cx="301.5" cy="69.3" r="1.15"/>
<circle cx="297.8" cy="75.4" r="1.15"/>
<circle cx="306.2" cy="69.6" r="1.15"/>
<circle cx="306.2" cy="68.2" r="1.15"/>
<circle cx="297.5" cy="74.6" r="1.15"/>
<circle cx="303.6" cy="73.7" r="1.15"/>
<circle cx="305.9" cy="64.1" r="1.15"/>
<circle cx="300.9" cy="70.1" r="1.15"/>
<circle cx="298.4" cy="61.2" r="1.15"/>
<circle cx="301.4" cy="69.6" r="1.15"/>
<circle cx="302.3" cy="62.9" r="1.15"/>
<circle cx="297.8" cy="85.9" r="1.15"/>
<circle cx="299.2" cy="66.6" r="1.15"/>
<circle cx="306.1" cy="63.6" r="1.15"/>
<circle cx="306.0" cy="70.7" r="1.15"/>
<circle cx="299.6" cy="69.6" r="1.15"/>
<circle cx="299.0" cy="75.5" r="1.15"/>
<circle cx="300.1" cy="61.0" r="1.15"/>
<circle cx="305.5" cy="63.5" r="1.15"/>
<circle cx="300.3" cy="57.6" r="1.15"/>
<circle cx="299.7" cy="92.8" r="1.15"/>
<circle cx="303.6" cy="68.2" r="1.15"/>
<circle cx="304.4" cy="70.5" r="1.15"/>
<circle cx="304.3" cy="78.0" r="1.15"/>
<circle cx="298.2" cy="59.4" r="1.15"/>
<circle cx="304.5" cy="70.5" r="1.15"/>
<circle cx="297.6" cy="68.7" r="1.15"/>
<circle cx="302.1" cy="58.8" r="1.15"/>
<circle cx="298.0" cy="67.8" r="1.15"/>
<circle cx="303.9" cy="67.5" r="1.15"/>
<circle cx="300.9" cy="67.0" r="1.15"/>
<circle cx="302.2" cy="71.4" r="1.15"/>
<circle cx="302.7" cy="62.3" r="1.15"/>
<circle cx="298.3" cy="68.3" r="1.15"/>
<circle cx="300.8" cy="75.7" r="1.15"/>
<circle cx="305.5" cy="59.9" r="1.15"/>
<circle cx="305.9" cy="69.0" r="1.15"/>
<circle cx="300.4" cy="72.3" r="1.15"/>
<circle cx="306.1" cy="61.0" r="1.15"/>
<circle cx="298.0" cy="67.0" r="1.15"/>
<circle cx="303.7" cy="62.3" r="1.15"/>
<circle cx="302.3" cy="72.8" r="1.15"/>
<circle cx="306.3" cy="64.3" r="1.15"/>
<circle cx="305.7" cy="64.4" r="1.15"/>
<circle cx="305.8" cy="64.3" r="1.15"/>
<circle cx="306.0" cy="63.4" r="1.15"/>
<circle cx="301.9" cy="72.2" r="1.15"/>
<circle cx="300.3" cy="70.5" r="1.15"/>
<circle cx="299.3" cy="75.6" r="1.15"/>
<circle cx="298.8" cy="72.6" r="1.15"/>
<circle cx="298.0" cy="69.2" r="1.15"/>
<circle cx="300.3" cy="62.9" r="1.15"/>
<circle cx="298.8" cy="96.8" r="1.15"/>
<circle cx="299.8" cy="75.4" r="1.15"/>
<circle cx="301.9" cy="73.5" r="1.15"/>
<circle cx="303.0" cy="76.9" r="1.15"/>
<circle cx="301.8" cy="69.1" r="1.15"/>
<circle cx="302.4" cy="65.0" r="1.15"/>
<circle cx="304.1" cy="65.1" r="1.15"/>
<circle cx="299.2" cy="71.1" r="1.15"/>
<circle cx="304.0" cy="66.1" r="1.15"/>
<circle cx="302.2" cy="80.4" r="1.15"/>
<circle cx="304.6" cy="66.9" r="1.15"/>
<circle cx="298.3" cy="75.0" r="1.15"/>
<circle cx="305.9" cy="67.7" r="1.15"/>
<circle cx="297.8" cy="64.0" r="1.15"/>
<circle cx="299.6" cy="66.3" r="1.15"/>
<circle cx="305.4" cy="91.3" r="1.15"/>
<circle cx="299.7" cy="79.5" r="1.15"/>
<circle cx="305.5" cy="62.0" r="1.15"/>
<circle cx="306.4" cy="60.2" r="1.15"/>
<circle cx="305.7" cy="62.0" r="1.15"/>
<circle cx="304.1" cy="68.5" r="1.15"/>
<circle cx="301.3" cy="66.5" r="1.15"/>
<circle cx="305.6" cy="59.6" r="1.15"/>
<circle cx="304.6" cy="72.4" r="1.15"/>
<circle cx="300.7" cy="64.8" r="1.15"/>
<circle cx="302.8" cy="65.8" r="1.15"/>
<circle cx="300.1" cy="79.7" r="1.15"/>
<circle cx="303.0" cy="57.7" r="1.15"/>
<circle cx="298.9" cy="65.3" r="1.15"/>
<circle cx="305.3" cy="61.5" r="1.15"/>
<circle cx="305.3" cy="68.9" r="1.15"/>
<circle cx="302.6" cy="65.2" r="1.15"/>
<circle cx="300.9" cy="72.8" r="1.15"/>
<circle cx="303.0" cy="61.9" r="1.15"/>
<circle cx="300.9" cy="62.7" r="1.15"/>
<circle cx="303.4" cy="60.9" r="1.15"/>
<circle cx="298.8" cy="77.2" r="1.15"/>
<circle cx="300.0" cy="67.8" r="1.15"/>
<circle cx="301.3" cy="75.1" r="1.15"/>
<circle cx="305.7" cy="67.3" r="1.15"/>
<circle cx="305.7" cy="69.3" r="1.15"/>
<circle cx="301.8" cy="74.7" r="1.15"/>
<circle cx="306.3" cy="66.2" r="1.15"/>
<circle cx="297.9" cy="65.7" r="1.15"/>
<circle cx="306.0" cy="69.0" r="1.15"/>
<circle cx="299.6" cy="71.2" r="1.15"/>
<circle cx="300.7" cy="72.5" r="1.15"/>
<circle cx="301.5" cy="66.7" r="1.15"/>
<circle cx="304.7" cy="65.7" r="1.15"/>
<circle cx="305.1" cy="67.7" r="1.15"/>
<circle cx="302.9" cy="79.4" r="1.15"/>
<circle cx="300.7" cy="67.2" r="1.15"/>
<circle cx="300.2" cy="72.5" r="1.15"/>
<circle cx="305.1" cy="59.3" r="1.15"/>
<circle cx="298.8" cy="72.6" r="1.15"/>
<circle cx="306.4" cy="63.1" r="1.15"/>
<circle cx="299.8" cy="68.8" r="1.15"/>
<circle cx="303.4" cy="55.5" r="1.15"/>
<circle cx="302.2" cy="74.3" r="1.15"/>
<circle cx="298.9" cy="69.6" r="1.15"/>
<circle cx="304.7" cy="68.7" r="1.15"/>
<circle cx="298.6" cy="70.9" r="1.15"/>
<circle cx="304.9" cy="67.6" r="1.15"/>
<circle cx="306.2" cy="67.2" r="1.15"/>
<circle cx="303.7" cy="67.4" r="1.15"/>
<circle cx="303.5" cy="62.5" r="1.15"/>
<circle cx="299.4" cy="74.7" r="1.15"/>
<circle cx="304.9" cy="63.8" r="1.15"/>
<circle cx="304.1" cy="65.8" r="1.15"/>
<circle cx="298.4" cy="72.7" r="1.15"/>
<circle cx="305.2" cy="68.6" r="1.15"/>
<circle cx="298.3" cy="74.4" r="1.15"/>
<circle cx="302.2" cy="67.9" r="1.15"/>
<circle cx="303.4" cy="76.5" r="1.15"/>
<circle cx="301.7" cy="78.2" r="1.15"/>
<circle cx="297.8" cy="75.6" r="1.15"/>
<circle cx="301.2" cy="69.7" r="1.15"/>
<circle cx="303.2" cy="61.1" r="1.15"/>
<circle cx="298.0" cy="70.4" r="1.15"/>
<circle cx="298.3" cy="68.5" r="1.15"/>
<circle cx="305.5" cy="67.0" r="1.15"/>
<circle cx="303.0" cy="67.1" r="1.15"/>
<circle cx="305.7" cy="65.5" r="1.15"/>
<circle cx="305.0" cy="65.1" r="1.15"/>
<circle cx="302.6" cy="61.7" r="1.15"/>
<circle cx="302.9" cy="69.9" r="1.15"/>
<circle cx="301.7" cy="62.6" r="1.15"/>
<circle cx="303.3" cy="82.2" r="1.15"/>
<circle cx="300.4" cy="60.5" r="1.15"/>
<circle cx="298.0" cy="73.3" r="1.15"/>
<circle cx="303.0" cy="76.0" r="1.15"/>
<circle cx="302.6" cy="75.1" r="1.15"/>
<circle cx="303.1" cy="59.7" r="1.15"/>
<circle cx="303.0" cy="68.3" r="1.15"/>
<circle cx="304.1" cy="74.5" r="1.15"/>
<circle cx="305.5" cy="75.9" r="1.15"/>
<circle cx="301.5" cy="76.4" r="1.15"/>
<circle cx="301.2" cy="64.1" r="1.15"/>
<circle cx="303.6" cy="69.4" r="1.15"/>
<circle cx="305.6" cy="60.6" r="1.15"/>
<circle cx="298.3" cy="75.8" r="1.15"/>
<circle cx="300.4" cy="71.2" r="1.15"/>
<circle cx="299.0" cy="75.1" r="1.15"/>
<circle cx="301.9" cy="71.9" r="1.15"/>
<circle cx="302.2" cy="69.7" r="1.15"/>
<circle cx="303.3" cy="59.2" r="1.15"/>
<circle cx="306.1" cy="59.8" r="1.15"/>
<circle cx="303.0" cy="65.2" r="1.15"/>
<circle cx="299.2" cy="71.5" r="1.15"/>
<circle cx="298.0" cy="71.3" r="1.15"/>
<circle cx="304.2" cy="61.5" r="1.15"/>
<circle cx="299.6" cy="69.1" r="1.15"/>
<circle cx="301.3" cy="72.5" r="1.15"/>
<circle cx="303.3" cy="66.7" r="1.15"/>
<circle cx="301.2" cy="73.0" r="1.15"/>
<circle cx="305.7" cy="61.6" r="1.15"/>
<circle cx="299.5" cy="64.5" r="1.15"/>
<circle cx="302.1" cy="69.8" r="1.15"/>
<circle cx="303.1" cy="58.0" r="1.15"/>
<circle cx="300.8" cy="84.6" r="1.15"/>
<circle cx="301.2" cy="70.3" r="1.15"/>
<circle cx="304.2" cy="66.8" r="1.15"/>
<circle cx="303.0" cy="61.9" r="1.15"/>
<circle cx="304.3" cy="66.1" r="1.15"/>
<circle cx="299.9" cy="76.3" r="1.15"/>
<circle cx="303.5" cy="62.0" r="1.15"/>
<circle cx="299.4" cy="67.7" r="1.15"/>
<circle cx="305.8" cy="67.8" r="1.15"/>
<circle cx="302.2" cy="61.4" r="1.15"/>
<circle cx="306.0" cy="61.9" r="1.15"/>
<circle cx="305.9" cy="65.0" r="1.15"/>
<circle cx="304.1" cy="55.7" r="1.15"/>
<circle cx="300.5" cy="76.9" r="1.15"/>
<circle cx="301.0" cy="69.4" r="1.15"/>
<circle cx="298.0" cy="73.2" r="1.15"/>
<circle cx="301.8" cy="75.4" r="1.15"/>
<circle cx="302.8" cy="65.3" r="1.15"/>
<circle cx="306.1" cy="68.0" r="1.15"/>
<circle cx="300.1" cy="74.3" r="1.15"/>
<circle cx="304.8" cy="73.1" r="1.15"/>
<circle cx="300.9" cy="68.0" r="1.15"/>
<circle cx="298.5" cy="90.8" r="1.15"/>
<circle cx="300.4" cy="79.8" r="1.15"/>
<circle cx="299.4" cy="70.7" r="1.15"/>
<circle cx="305.4" cy="61.2" r="1.15"/>
<circle cx="303.2" cy="68.5" r="1.15"/>
<circle cx="302.9" cy="63.9" r="1.15"/>
<circle cx="300.0" cy="74.2" r="1.15"/>
<circle cx="299.5" cy="65.2" r="1.15"/>
<circle cx="300.7" cy="60.2" r="1.15"/>
<circle cx="305.0" cy="67.9" r="1.15"/>
<circle cx="298.1" cy="77.0" r="1.15"/>
<circle cx="304.8" cy="69.2" r="1.15"/>
<circle cx="302.8" cy="75.2" r="1.15"/>
<circle cx="298.5" cy="71.3" r="1.15"/>
<circle cx="298.2" cy="69.7" r="1.15"/>
<circle cx="298.1" cy="69.4" r="1.15"/>
<circle cx="303.5" cy="68.4" r="1.15"/>
<circle cx="300.6" cy="69.6" r="1.15"/>
<circle cx="298.3" cy="73.5" r="1.15"/>
<circle cx="300.1" cy="70.9" r="1.15"/>
<circle cx="305.8" cy="67.2" r="1.15"/>
<circle cx="298.7" cy="79.9" r="1.15"/>
<circle cx="301.5" cy="64.2" r="1.15"/>
<circle cx="298.4" cy="74.9" r="1.15"/>
<circle cx="305.8" cy="65.3" r="1.15"/>
<circle cx="306.1" cy="63.6" r="1.15"/>
<circle cx="302.9" cy="70.1" r="1.15"/>
<circle cx="298.1" cy="77.3" r="1.15"/>
<circle cx="304.9" cy="67.4" r="1.15"/>
<circle cx="302.8" cy="71.0" r="1.15"/>
<circle cx="306.3" cy="60.4" r="1.15"/>
<circle cx="300.9" cy="63.0" r="1.15"/>
<circle cx="305.3" cy="67.6" r="1.15"/>
<circle cx="301.3" cy="67.0" r="1.15"/>
<circle cx="303.1" cy="65.8" r="1.15"/>
<circle cx="301.8" cy="56.9" r="1.15"/>
<circle cx="297.9" cy="75.6" r="1.15"/>
<circle cx="305.4" cy="67.2" r="1.15"/>
<circle cx="303.4" cy="70.2" r="1.15"/>
<circle cx="299.9" cy="73.0" r="1.15"/>
<circle cx="298.9" cy="75.4" r="1.15"/>
<circle cx="302.2" cy="94.4" r="1.15"/>
<circle cx="300.9" cy="59.8" r="1.15"/>
<circle cx="301.7" cy="73.8" r="1.15"/>
<circle cx="303.4" cy="64.7" r="1.15"/>
<circle cx="300.3" cy="63.6" r="1.15"/>
<circle cx="297.9" cy="78.0" r="1.15"/>
<circle cx="303.1" cy="73.0" r="1.15"/>
<circle cx="306.1" cy="62.2" r="1.15"/>
<circle cx="305.9" cy="64.2" r="1.15"/>
<circle cx="301.0" cy="67.6" r="1.15"/>
<circle cx="298.4" cy="69.0" r="1.15"/>
<circle cx="304.1" cy="66.5" r="1.15"/>
<circle cx="303.1" cy="64.3" r="1.15"/>
<circle cx="301.9" cy="69.9" r="1.15"/>
<circle cx="297.7" cy="78.2" r="1.15"/>
<circle cx="302.6" cy="71.0" r="1.15"/>
<circle cx="305.6" cy="62.6" r="1.15"/>
<circle cx="298.7" cy="75.5" r="1.15"/>
<circle cx="303.5" cy="59.9" r="1.15"/>
<circle cx="299.2" cy="76.3" r="1.15"/>
<circle cx="299.2" cy="70.4" r="1.15"/>
<circle cx="304.0" cy="64.9" r="1.15"/>
<circle cx="299.5" cy="68.7" r="1.15"/>
<circle cx="298.1" cy="60.8" r="1.15"/>
<circle cx="300.9" cy="72.5" r="1.15"/>
<circle cx="303.5" cy="76.1" r="1.15"/>
<circle cx="299.1" cy="62.9" r="1.15"/>
<circle cx="302.1" cy="64.2" r="1.15"/>
<circle cx="301.6" cy="75.7" r="1.15"/>
<circle cx="303.0" cy="60.8" r="1.15"/>
<circle cx="305.1" cy="68.0" r="1.15"/>
<circle cx="299.1" cy="69.8" r="1.15"/>
<circle cx="305.4" cy="66.4" r="1.15"/>
<circle cx="302.9" cy="60.6" r="1.15"/>
<circle cx="304.2" cy="60.1" r="1.15"/>
<circle cx="303.0" cy="64.1" r="1.15"/>
<circle cx="303.4" cy="68.1" r="1.15"/>
<circle cx="301.0" cy="68.2" r="1.15"/>
<circle cx="298.1" cy="82.3" r="1.15"/>
<circle cx="302.5" cy="61.2" r="1.15"/>
<circle cx="306.0" cy="65.5" r="1.15"/>
<circle cx="298.5" cy="71.0" r="1.15"/>
<circle cx="304.7" cy="73.9" r="1.15"/>
<circle cx="298.4" cy="70.5" r="1.15"/>
<circle cx="301.2" cy="66.1" r="1.15"/>
<circle cx="304.8" cy="67.2" r="1.15"/>
<circle cx="304.8" cy="67.7" r="1.15"/>
<circle cx="305.9" cy="69.1" r="1.15"/>
<circle cx="302.7" cy="63.8" r="1.15"/>
<circle cx="301.7" cy="65.5" r="1.15"/>
<circle cx="301.7" cy="71.7" r="1.15"/>
<circle cx="301.3" cy="74.6" r="1.15"/>
<circle cx="300.9" cy="67.6" r="1.15"/>
<circle cx="302.9" cy="69.0" r="1.15"/>
<circle cx="297.9" cy="74.3" r="1.15"/>
<circle cx="301.1" cy="68.1" r="1.15"/>
<circle cx="301.8" cy="72.0" r="1.15"/>
<circle cx="304.5" cy="66.4" r="1.15"/>
<circle cx="299.3" cy="74.1" r="1.15"/>
<circle cx="305.8" cy="68.2" r="1.15"/>
<circle cx="303.2" cy="75.6" r="1.15"/>
<circle cx="300.4" cy="70.7" r="1.15"/>
<circle cx="302.1" cy="64.8" r="1.15"/>
<circle cx="304.2" cy="70.4" r="1.15"/>
<circle cx="299.2" cy="78.1" r="1.15"/>
<circle cx="302.1" cy="64.4" r="1.15"/>
<circle cx="301.0" cy="65.8" r="1.15"/>
<circle cx="305.6" cy="65.4" r="1.15"/>
<circle cx="300.7" cy="68.5" r="1.15"/>
<circle cx="300.2" cy="63.7" r="1.15"/>
<circle cx="300.3" cy="69.5" r="1.15"/>
<circle cx="302.6" cy="64.9" r="1.15"/>
<circle cx="299.2" cy="74.0" r="1.15"/>
<circle cx="303.8" cy="62.3" r="1.15"/>
<circle cx="302.8" cy="70.8" r="1.15"/>
<circle cx="305.6" cy="66.9" r="1.15"/>
<circle cx="299.9" cy="69.7" r="1.15"/>
<circle cx="304.9" cy="60.7" r="1.15"/>
<circle cx="305.9" cy="58.2" r="1.15"/>
<circle cx="302.7" cy="72.5" r="1.15"/>
<circle cx="299.8" cy="65.2" r="1.15"/>
<circle cx="306.1" cy="69.6" r="1.15"/>
<circle cx="302.5" cy="75.3" r="1.15"/>
<circle cx="305.7" cy="63.8" r="1.15"/>
<circle cx="301.0" cy="67.1" r="1.15"/>
<circle cx="305.4" cy="66.9" r="1.15"/>
<circle cx="305.4" cy="74.2" r="1.15"/>
<circle cx="300.9" cy="64.8" r="1.15"/>
<circle cx="305.3" cy="70.6" r="1.15"/>
<circle cx="303.8" cy="61.5" r="1.15"/>
<circle cx="299.3" cy="65.7" r="1.15"/>
<circle cx="297.6" cy="67.3" r="1.15"/>
<circle cx="303.8" cy="70.8" r="1.15"/>
<circle cx="305.6" cy="60.2" r="1.15"/>
<circle cx="303.7" cy="65.9" r="1.15"/>
<circle cx="304.9" cy="71.0" r="1.15"/>
<circle cx="302.8" cy="65.9" r="1.15"/>
<circle cx="302.0" cy="66.1" r="1.15"/>
<circle cx="306.2" cy="65.6" r="1.15"/>
<circle cx="304.4" cy="64.8" r="1.15"/>
<circle cx="304.0" cy="57.0" r="1.15"/>
<circle cx="298.1" cy="73.4" r="1.15"/>
<circle cx="305.6" cy="60.4" r="1.15"/>
<circle cx="302.9" cy="61.3" r="1.15"/>
<circle cx="300.8" cy="63.6" r="1.15"/>
<circle cx="302.9" cy="64.6" r="1.15"/>
<circle cx="304.0" cy="72.2" r="1.15"/>
<circle cx="304.8" cy="57.7" r="1.15"/>
<circle cx="302.8" cy="65.9" r="1.15"/>
<circle cx="302.5" cy="63.7" r="1.15"/>
<circle cx="300.4" cy="74.2" r="1.15"/>
<circle cx="302.4" cy="67.6" r="1.15"/>
<circle cx="306.4" cy="63.5" r="1.15"/>
<circle cx="304.1" cy="68.0" r="1.15"/>
<circle cx="299.5" cy="72.6" r="1.15"/>
<circle cx="302.9" cy="65.6" r="1.15"/>
<circle cx="306.3" cy="63.2" r="1.15"/>
<circle cx="302.7" cy="62.6" r="1.15"/>
<circle cx="303.6" cy="64.7" r="1.15"/>
<circle cx="301.4" cy="60.8" r="1.15"/>
<circle cx="300.5" cy="70.8" r="1.15"/>
<circle cx="305.3" cy="65.1" r="1.15"/>
<circle cx="302.3" cy="68.4" r="1.15"/>
<circle cx="300.9" cy="68.7" r="1.15"/>
<circle cx="305.2" cy="72.5" r="1.15"/>
<circle cx="300.2" cy="69.1" r="1.15"/>
<circle cx="297.8" cy="64.8" r="1.15"/>
<circle cx="305.6" cy="65.0" r="1.15"/>
<circle cx="304.9" cy="60.5" r="1.15"/>
<circle cx="302.9" cy="68.9" r="1.15"/>
<circle cx="298.2" cy="74.1" r="1.15"/>
<circle cx="300.0" cy="69.5" r="1.15"/>
<circle cx="306.4" cy="64.7" r="1.15"/>
<circle cx="302.7" cy="93.8" r="1.15"/>
<circle cx="300.3" cy="64.2" r="1.15"/>
<circle cx="300.5" cy="73.7" r="1.15"/>
<circle cx="303.4" cy="68.7" r="1.15"/>
<circle cx="298.3" cy="60.3" r="1.15"/>
<circle cx="300.2" cy="73.0" r="1.15"/>
<circle cx="297.9" cy="77.0" r="1.15"/>
<circle cx="304.3" cy="68.2" r="1.15"/>
<circle cx="304.3" cy="67.0" r="1.15"/>
<circle cx="306.2" cy="64.6" r="1.15"/>
<circle cx="304.6" cy="69.5" r="1.15"/>
<circle cx="303.4" cy="62.5" r="1.15"/>
<circle cx="303.4" cy="64.1" r="1.15"/>
<circle cx="304.3" cy="65.7" r="1.15"/>
<circle cx="303.4" cy="64.2" r="1.15"/>
<circle cx="298.3" cy="64.2" r="1.15"/>
<circle cx="300.2" cy="67.3" r="1.15"/>
<circle cx="303.8" cy="64.5" r="1.15"/>
<circle cx="301.3" cy="69.5" r="1.15"/>
<circle cx="303.9" cy="62.3" r="1.15"/>
<circle cx="298.8" cy="70.4" r="1.15"/>
<circle cx="305.7" cy="59.3" r="1.15"/>
<circle cx="305.7" cy="71.2" r="1.15"/>
<circle cx="299.3" cy="73.2" r="1.15"/>
<circle cx="305.3" cy="59.7" r="1.15"/>
<circle cx="302.0" cy="59.3" r="1.15"/>
<circle cx="297.7" cy="70.6" r="1.15"/>
<circle cx="298.1" cy="71.9" r="1.15"/>
<circle cx="300.8" cy="65.3" r="1.15"/>
<circle cx="301.8" cy="70.8" r="1.15"/>
<circle cx="302.0" cy="72.4" r="1.15"/>
<circle cx="299.1" cy="59.9" r="1.15"/>
<circle cx="303.7" cy="65.7" r="1.15"/>
<circle cx="300.5" cy="70.7" r="1.15"/>
<circle cx="300.6" cy="66.8" r="1.15"/>
<circle cx="298.4" cy="76.6" r="1.15"/>
<circle cx="304.8" cy="62.2" r="1.15"/>
<circle cx="305.3" cy="61.6" r="1.15"/>
<circle cx="298.4" cy="62.8" r="1.15"/>
<circle cx="301.2" cy="66.0" r="1.15"/>
<circle cx="303.0" cy="77.4" r="1.15"/>
<circle cx="304.3" cy="67.3" r="1.15"/>
<circle cx="302.3" cy="72.0" r="1.15"/>
<circle cx="301.2" cy="63.0" r="1.15"/>
<circle cx="300.5" cy="69.2" r="1.15"/>
<circle cx="303.0" cy="72.4" r="1.15"/>
<circle cx="300.1" cy="71.3" r="1.15"/>
<circle cx="298.7" cy="72.0" r="1.15"/>
<circle cx="302.9" cy="69.0" r="1.15"/>
<circle cx="305.0" cy="61.0" r="1.15"/>
<circle cx="298.2" cy="67.1" r="1.15"/>
<circle cx="305.5" cy="65.9" r="1.15"/>
<circle cx="300.0" cy="74.0" r="1.15"/>
<circle cx="304.4" cy="61.5" r="1.15"/>
<circle cx="300.6" cy="76.5" r="1.15"/>
<circle cx="305.2" cy="67.9" r="1.15"/>
<circle cx="302.1" cy="63.1" r="1.15"/>
<circle cx="298.6" cy="72.4" r="1.15"/>
<circle cx="304.5" cy="68.5" r="1.15"/>
<circle cx="299.9" cy="65.9" r="1.15"/>
<circle cx="305.4" cy="65.1" r="1.15"/>
<circle cx="305.2" cy="61.1" r="1.15"/>
<circle cx="305.3" cy="70.0" r="1.15"/>
<circle cx="305.7" cy="64.8" r="1.15"/>
<circle cx="304.0" cy="67.7" r="1.15"/>
<circle cx="301.1" cy="62.4" r="1.15"/>
<circle cx="302.7" cy="70.3" r="1.15"/>
<circle cx="305.7" cy="67.2" r="1.15"/>
<circle cx="300.4" cy="73.7" r="1.15"/>
<circle cx="301.0" cy="72.5" r="1.15"/>
<circle cx="306.1" cy="63.6" r="1.15"/>
<circle cx="301.0" cy="68.1" r="1.15"/>
<circle cx="301.6" cy="68.6" r="1.15"/>
<circle cx="303.6" cy="67.4" r="1.15"/>
<circle cx="298.8" cy="64.5" r="1.15"/>
<circle cx="304.3" cy="59.9" r="1.15"/>
<circle cx="306.4" cy="67.9" r="1.15"/>
<circle cx="298.0" cy="71.3" r="1.15"/>
<circle cx="305.0" cy="61.7" r="1.15"/>
<circle cx="299.7" cy="72.2" r="1.15"/>
<circle cx="298.3" cy="62.3" r="1.15"/>
<circle cx="298.3" cy="71.7" r="1.15"/>
<circle cx="301.2" cy="65.8" r="1.15"/>
<circle cx="302.4" cy="67.8" r="1.15"/>
<circle cx="305.8" cy="61.6" r="1.15"/>
<circle cx="302.8" cy="67.2" r="1.15"/>
<circle cx="306.0" cy="66.4" r="1.15"/>
<circle cx="302.0" cy="67.8" r="1.15"/>
<circle cx="304.4" cy="70.7" r="1.15"/>
<circle cx="302.8" cy="73.5" r="1.15"/>
<circle cx="303.2" cy="70.7" r="1.15"/>
<circle cx="306.1" cy="66.0" r="1.15"/>
<circle cx="303.6" cy="62.7" r="1.15"/>
<circle cx="301.0" cy="64.7" r="1.15"/>
<circle cx="299.0" cy="62.5" r="1.15"/>
<circle cx="306.3" cy="63.8" r="1.15"/>
<circle cx="298.3" cy="71.1" r="1.15"/>
<circle cx="298.2" cy="72.8" r="1.15"/>
<circle cx="302.7" cy="59.1" r="1.15"/>
<circle cx="305.9" cy="67.5" r="1.15"/>
<circle cx="303.2" cy="66.1" r="1.15"/>
<circle cx="300.0" cy="70.4" r="1.15"/>
<circle cx="306.1" cy="59.8" r="1.15"/>
<circle cx="304.8" cy="59.5" r="1.15"/>
<circle cx="304.8" cy="66.5" r="1.15"/>
<circle cx="298.4" cy="77.6" r="1.15"/>
<circle cx="297.7" cy="68.2" r="1.15"/>
<circle cx="305.6" cy="56.8" r="1.15"/>
<circle cx="300.0" cy="68.4" r="1.15"/>
<circle cx="299.6" cy="67.7" r="1.15"/>
<circle cx="300.8" cy="63.3" r="1.15"/>
<circle cx="297.9" cy="68.3" r="1.15"/>
<circle cx="305.3" cy="62.5" r="1.15"/>
<circle cx="302.6" cy="65.0" r="1.15"/>
<circle cx="297.8" cy="65.7" r="1.15"/>
<circle cx="303.4" cy="73.4" r="1.15"/>
<circle cx="302.0" cy="64.7" r="1.15"/>
<circle cx="300.7" cy="69.8" r="1.15"/>
<circle cx="303.6" cy="68.2" r="1.15"/>
<circle cx="304.7" cy="61.6" r="1.15"/>
<circle cx="306.0" cy="61.1" r="1.15"/>
<circle cx="303.1" cy="69.3" r="1.15"/>
<circle cx="305.5" cy="59.1" r="1.15"/>
<circle cx="299.1" cy="60.9" r="1.15"/>
<circle cx="304.4" cy="72.3" r="1.15"/>
<circle cx="298.6" cy="77.4" r="1.15"/>
<circle cx="299.8" cy="64.5" r="1.15"/>
<circle cx="306.2" cy="65.9" r="1.15"/>
<circle cx="302.4" cy="77.1" r="1.15"/>
<circle cx="301.9" cy="68.1" r="1.15"/>
<circle cx="300.5" cy="73.3" r="1.15"/>
<circle cx="298.9" cy="69.3" r="1.15"/>
<circle cx="305.2" cy="66.3" r="1.15"/>
<circle cx="302.0" cy="66.7" r="1.15"/>
<circle cx="305.1" cy="61.4" r="1.15"/>
<circle cx="302.3" cy="70.3" r="1.15"/>
<circle cx="305.5" cy="58.8" r="1.15"/>
<circle cx="306.0" cy="61.9" r="1.15"/>
<circle cx="305.0" cy="70.2" r="1.15"/>
<circle cx="304.3" cy="69.5" r="1.15"/>
<circle cx="302.4" cy="64.9" r="1.15"/>
<circle cx="301.2" cy="72.5" r="1.15"/>
<circle cx="302.7" cy="59.9" r="1.15"/>
<circle cx="303.2" cy="67.8" r="1.15"/>
<circle cx="300.9" cy="75.8" r="1.15"/>
<circle cx="300.9" cy="66.8" r="1.15"/>
<circle cx="298.9" cy="62.7" r="1.15"/>
<circle cx="300.9" cy="64.2" r="1.15"/>
<circle cx="301.6" cy="74.4" r="1.15"/>
<circle cx="302.8" cy="72.4" r="1.15"/>
<circle cx="300.1" cy="64.6" r="1.15"/>
<circle cx="304.2" cy="62.0" r="1.15"/>
<circle cx="302.3" cy="64.8" r="1.15"/>
<circle cx="304.6" cy="60.5" r="1.15"/>
<circle cx="302.7" cy="69.1" r="1.15"/>
<circle cx="305.6" cy="68.0" r="1.15"/>
<circle cx="305.9" cy="61.5" r="1.15"/>
<circle cx="299.0" cy="72.0" r="1.15"/>
<circle cx="299.6" cy="69.6" r="1.15"/>
<circle cx="303.3" cy="57.2" r="1.15"/>
<circle cx="303.0" cy="63.1" r="1.15"/>
<circle cx="298.7" cy="71.7" r="1.15"/>
<circle cx="304.0" cy="58.0" r="1.15"/>
<circle cx="302.0" cy="63.8" r="1.15"/>
<circle cx="300.3" cy="72.1" r="1.15"/>
<circle cx="303.8" cy="58.4" r="1.15"/>
<circle cx="306.3" cy="65.4" r="1.15"/>
<circle cx="305.1" cy="62.0" r="1.15"/>
<circle cx="301.9" cy="74.1" r="1.15"/>
<circle cx="300.4" cy="61.8" r="1.15"/>
<circle cx="299.4" cy="72.7" r="1.15"/>
<circle cx="301.4" cy="67.6" r="1.15"/>
<circle cx="297.6" cy="75.1" r="1.15"/>
<circle cx="300.0" cy="66.9" r="1.15"/>
<circle cx="301.1" cy="68.8" r="1.15"/>
<circle cx="305.4" cy="67.0" r="1.15"/>
<circle cx="301.2" cy="70.4" r="1.15"/>
<circle cx="305.5" cy="65.8" r="1.15"/>
<circle cx="300.0" cy="65.8" r="1.15"/>
<circle cx="303.4" cy="55.6" r="1.15"/>
<circle cx="303.6" cy="55.7" r="1.15"/>
<circle cx="300.7" cy="62.2" r="1.15"/>
<circle cx="302.9" cy="65.1" r="1.15"/>
<circle cx="299.9" cy="62.2" r="1.15"/>
<circle cx="306.3" cy="67.9" r="1.15"/>
<circle cx="300.7" cy="67.0" r="1.15"/>
<circle cx="302.4" cy="68.6" r="1.15"/>
<circle cx="298.9" cy="66.0" r="1.15"/>
<circle cx="304.7" cy="64.3" r="1.15"/>
<circle cx="306.4" cy="62.4" r="1.15"/>
<circle cx="301.5" cy="69.3" r="1.15"/>
<circle cx="305.1" cy="64.2" r="1.15"/>
<circle cx="305.1" cy="60.8" r="1.15"/>
<circle cx="301.7" cy="58.9" r="1.15"/>
<circle cx="300.2" cy="69.5" r="1.15"/>
<circle cx="298.9" cy="80.7" r="1.15"/>
<circle cx="302.9" cy="77.6" r="1.15"/>
<circle cx="303.9" cy="63.0" r="1.15"/>
<circle cx="305.5" cy="63.8" r="1.15"/>
<circle cx="300.2" cy="68.0" r="1.15"/>
<circle cx="299.5" cy="78.0" r="1.15"/>
<circle cx="301.0" cy="74.5" r="1.15"/>
<circle cx="298.2" cy="79.3" r="1.15"/>
<circle cx="304.2" cy="65.6" r="1.15"/>
<circle cx="302.2" cy="71.0" r="1.15"/>
<circle cx="304.2" cy="70.3" r="1.15"/>
<circle cx="302.0" cy="71.4" r="1.15"/>
<circle cx="299.8" cy="66.8" r="1.15"/>
<circle cx="301.2" cy="70.4" r="1.15"/>
<circle cx="300.2" cy="61.7" r="1.15"/>
<circle cx="305.3" cy="62.2" r="1.15"/>
<circle cx="306.0" cy="64.7" r="1.15"/>
<circle cx="303.2" cy="62.7" r="1.15"/>
<circle cx="298.2" cy="74.7" r="1.15"/>
<circle cx="299.7" cy="72.1" r="1.15"/>
<circle cx="302.4" cy="69.2" r="1.15"/>
<circle cx="304.6" cy="63.5" r="1.15"/>
<circle cx="305.4" cy="60.8" r="1.15"/>
<circle cx="297.9" cy="76.8" r="1.15"/>
<circle cx="305.6" cy="65.2" r="1.15"/>
<circle cx="305.8" cy="64.7" r="1.15"/>
<circle cx="298.8" cy="62.2" r="1.15"/>
<circle cx="300.4" cy="67.5" r="1.15"/>
<circle cx="300.3" cy="71.4" r="1.15"/>
<circle cx="303.8" cy="70.0" r="1.15"/>
<circle cx="297.7" cy="65.3" r="1.15"/>
<circle cx="299.0" cy="60.6" r="1.15"/>
<circle cx="298.6" cy="73.2" r="1.15"/>
<circle cx="300.9" cy="64.4" r="1.15"/>
<circle cx="302.4" cy="64.8" r="1.15"/>
<circle cx="300.3" cy="78.5" r="1.15"/>
<circle cx="301.9" cy="71.9" r="1.15"/>
<circle cx="302.5" cy="67.3" r="1.15"/>
<circle cx="300.3" cy="76.4" r="1.15"/>
<circle cx="298.0" cy="74.1" r="1.15"/>
<circle cx="306.9" cy="62.2" r="1.15"/>
<circle cx="306.7" cy="60.9" r="1.15"/>
<circle cx="307.2" cy="59.5" r="1.15"/>
<circle cx="306.9" cy="61.9" r="1.15"/>
<circle cx="307.4" cy="65.4" r="1.15"/>
<circle cx="308.6" cy="63.1" r="1.15"/>
<circle cx="307.7" cy="65.7" r="1.15"/>
<circle cx="309.1" cy="61.5" r="1.15"/>
<circle cx="307.2" cy="62.3" r="1.15"/>
<circle cx="308.7" cy="59.2" r="1.15"/>
<circle cx="308.0" cy="62.4" r="1.15"/>
<circle cx="306.9" cy="64.4" r="1.15"/>
<circle cx="308.9" cy="63.1" r="1.15"/>
<circle cx="309.2" cy="60.2" r="1.15"/>
<circle cx="308.2" cy="66.4" r="1.15"/>
<circle cx="307.8" cy="58.1" r="1.15"/>
<circle cx="308.0" cy="62.1" r="1.15"/>
<circle cx="308.4" cy="60.4" r="1.15"/>
<circle cx="309.5" cy="57.2" r="1.15"/>
<circle cx="306.7" cy="63.9" r="1.15"/>
<circle cx="307.8" cy="61.8" r="1.15"/>
<circle cx="306.5" cy="69.9" r="1.15"/>
<circle cx="306.4" cy="65.2" r="1.15"/>
<circle cx="308.2" cy="61.2" r="1.15"/>
<circle cx="307.3" cy="70.5" r="1.15"/>
<circle cx="309.0" cy="63.0" r="1.15"/>
<circle cx="309.3" cy="63.1" r="1.15"/>
<circle cx="308.3" cy="62.2" r="1.15"/>
<circle cx="306.7" cy="65.5" r="1.15"/>
<circle cx="308.1" cy="60.5" r="1.15"/>
<circle cx="309.1" cy="58.6" r="1.15"/>
<circle cx="307.0" cy="61.4" r="1.15"/>
<circle cx="306.9" cy="65.0" r="1.15"/>
<circle cx="308.5" cy="60.6" r="1.15"/>
<circle cx="307.1" cy="65.2" r="1.15"/>
<circle cx="308.0" cy="60.9" r="1.15"/>
<circle cx="309.0" cy="61.8" r="1.15"/>
<circle cx="309.7" cy="56.7" r="1.15"/>
<circle cx="308.8" cy="59.3" r="1.15"/>
<circle cx="308.7" cy="60.9" r="1.15"/>
<circle cx="307.8" cy="60.8" r="1.15"/>
<circle cx="309.7" cy="63.2" r="1.15"/>
<circle cx="307.1" cy="66.0" r="1.15"/>
<circle cx="309.8" cy="57.1" r="1.15"/>
<circle cx="308.2" cy="57.9" r="1.15"/>
<circle cx="307.5" cy="62.4" r="1.15"/>
<circle cx="308.5" cy="61.5" r="1.15"/>
<circle cx="308.1" cy="62.7" r="1.15"/>
<circle cx="309.1" cy="63.6" r="1.15"/>
<circle cx="309.8" cy="59.1" r="1.15"/>
<circle cx="306.8" cy="64.7" r="1.15"/>
<circle cx="307.5" cy="65.3" r="1.15"/>
<circle cx="306.5" cy="58.9" r="1.15"/>
<circle cx="307.2" cy="69.7" r="1.15"/>
<circle cx="307.6" cy="62.6" r="1.15"/>
<circle cx="306.7" cy="60.3" r="1.15"/>
<circle cx="309.3" cy="61.7" r="1.15"/>
<circle cx="308.5" cy="61.7" r="1.15"/>
<circle cx="306.9" cy="66.9" r="1.15"/>
<circle cx="309.1" cy="65.4" r="1.15"/>
<circle cx="308.6" cy="60.7" r="1.15"/>
<circle cx="308.4" cy="60.5" r="1.15"/>
<circle cx="307.8" cy="59.6" r="1.15"/>
<circle cx="307.5" cy="62.5" r="1.15"/>
</g>
<line x1="40.0" y1="309.40" x2="339.0" y2="1.60" stroke="#222" stroke-width="1.2"/>
<line x1="40.0" x2="339.0" y1="309.9" y2="309.9" stroke="#6b6b6b" stroke-width="1.2"/>
<text x="53.5" y="321.7" text-anchor="middle" font-size="9.1" fill="#7a7a7a" font-family="Liberation Sans, Arial, sans-serif">0.00</text>
<text x="35.3" y="298.4" text-anchor="end" font-size="9.1" fill="#7a7a7a" font-family="Liberation Sans, Arial, sans-serif">0.00</text>
<text x="121.5" y="321.7" text-anchor="middle" font-size="9.1" fill="#7a7a7a" font-family="Liberation Sans, Arial, sans-serif">0.05</text>
<text x="35.3" y="228.4" text-anchor="end" font-size="9.1" fill="#7a7a7a" font-family="Liberation Sans, Arial, sans-serif">0.05</text>
<text x="189.5" y="321.7" text-anchor="middle" font-size="9.1" fill="#7a7a7a" font-family="Liberation Sans, Arial, sans-serif">0.10</text>
<text x="35.3" y="158.4" text-anchor="end" font-size="9.1" fill="#7a7a7a" font-family="Liberation Sans, Arial, sans-serif">0.10</text>
<text x="257.5" y="321.7" text-anchor="middle" font-size="9.1" fill="#7a7a7a" font-family="Liberation Sans, Arial, sans-serif">0.15</text>
<text x="35.3" y="88.4" text-anchor="end" font-size="9.1" fill="#7a7a7a" font-family="Liberation Sans, Arial, sans-serif">0.15</text>
<text x="325.5" y="321.7" text-anchor="middle" font-size="9.1" fill="#7a7a7a" font-family="Liberation Sans, Arial, sans-serif">0.20</text>
<text x="35.3" y="18.4" text-anchor="end" font-size="9.1" fill="#7a7a7a" font-family="Liberation Sans, Arial, sans-serif">0.20</text>
<text x="117.6" y="333" text-anchor="start" font-size="9.9" fill="#666666" font-family="Liberation Sans, Arial, sans-serif">Public leaderboard pAUC<tspan font-size="6.9" dy="1.5">&gt;80% TPR</tspan></text>
<text x="11.2" y="229.2" text-anchor="start" font-size="9.9" fill="#666666" font-family="Liberation Sans, Arial, sans-serif" transform="rotate(-90 11.2 229.2)">Private leaderboard pAUC<tspan font-size="6.9" dy="1.5">&gt;80% TPR</tspan></text>
<text x="-1.1" y="12.8" letter-spacing="1.1" font-size="17.6" fill="#666666" font-family="Liberation Sans, Arial, sans-serif">a)</text>
<line x1="386.1" x2="685" y1="130.10" y2="130.10" stroke="#ebebeb" stroke-width="0.6"/>
<text x="381.3" y="132.9" text-anchor="end" font-size="9.1" fill="#7a7a7a" font-family="Liberation Sans, Arial, sans-serif">0</text>
<line x1="386.1" x2="685" y1="112.45" y2="112.45" stroke="#f3f3f3" stroke-width="0.5"/>
<line x1="386.1" x2="685" y1="94.80" y2="94.80" stroke="#ebebeb" stroke-width="0.6"/>
<text x="381.3" y="97.6" text-anchor="end" font-size="9.1" fill="#7a7a7a" font-family="Liberation Sans, Arial, sans-serif">500</text>
<line x1="386.1" x2="685" y1="77.15" y2="77.15" stroke="#f3f3f3" stroke-width="0.5"/>
<line x1="386.1" x2="685" y1="59.50" y2="59.50" stroke="#ebebeb" stroke-width="0.6"/>
<text x="381.3" y="62.3" text-anchor="end" font-size="9.1" fill="#7a7a7a" font-family="Liberation Sans, Arial, sans-serif">1000</text>
<line x1="386.1" x2="685" y1="41.85" y2="41.85" stroke="#f3f3f3" stroke-width="0.5"/>
<line x1="386.1" x2="685" y1="24.20" y2="24.20" stroke="#ebebeb" stroke-width="0.6"/>
<text x="381.3" y="27.0" text-anchor="end" font-size="9.1" fill="#7a7a7a" font-family="Liberation Sans, Arial, sans-serif">1500</text>
<line x1="386.1" x2="685" y1="6.55" y2="6.55" stroke="#f3f3f3" stroke-width="0.5"/>
<rect x="395.20" y="129.89" width="8.11" height="0.21" fill="#b6b7b9" stroke="#2a2a2a" stroke-width="0.95"/>
<rect x="403.31" y="129.89" width="8.11" height="0.21" fill="#b6b7b9" stroke="#2a2a2a" stroke-width="0.95"/>
<rect x="411.41" y="129.82" width="8.11" height="0.28" fill="#b6b7b9" stroke="#2a2a2a" stroke-width="0.95"/>
<rect x="419.51" y="123.60" width="8.11" height="6.50" fill="#b6b7b9" stroke="#2a2a2a" stroke-width="0.95"/>
<rect x="427.62" y="127.98" width="8.11" height="2.12" fill="#b6b7b9" stroke="#2a2a2a" stroke-width="0.95"/>
<rect x="435.73" y="128.97" width="8.11" height="1.13" fill="#b6b7b9" stroke="#2a2a2a" stroke-width="0.95"/>
<rect x="443.83" y="129.39" width="8.11" height="0.71" fill="#b6b7b9" stroke="#2a2a2a" stroke-width="0.95"/>
<rect x="451.94" y="129.25" width="8.11" height="0.85" fill="#b6b7b9" stroke="#2a2a2a" stroke-width="0.95"/>
<rect x="460.04" y="128.69" width="8.11" height="1.41" fill="#b6b7b9" stroke="#2a2a2a" stroke-width="0.95"/>
<rect x="468.14" y="129.11" width="8.11" height="0.99" fill="#b6b7b9" stroke="#2a2a2a" stroke-width="0.95"/>
<rect x="476.25" y="129.39" width="8.11" height="0.71" fill="#b6b7b9" stroke="#2a2a2a" stroke-width="0.95"/>
<rect x="484.36" y="127.98" width="8.11" height="2.12" fill="#b6b7b9" stroke="#2a2a2a" stroke-width="0.95"/>
<rect x="492.46" y="128.41" width="8.11" height="1.69" fill="#b6b7b9" stroke="#2a2a2a" stroke-width="0.95"/>
<rect x="500.56" y="128.69" width="8.11" height="1.41" fill="#b6b7b9" stroke="#2a2a2a" stroke-width="0.95"/>
<rect x="508.67" y="128.41" width="8.11" height="1.69" fill="#b6b7b9" stroke="#2a2a2a" stroke-width="0.95"/>
<rect x="516.77" y="127.98" width="8.11" height="2.12" fill="#b6b7b9" stroke="#2a2a2a" stroke-width="0.95"/>
<rect x="524.88" y="126.71" width="8.11" height="3.39" fill="#b6b7b9" stroke="#2a2a2a" stroke-width="0.95"/>
<rect x="532.99" y="126.22" width="8.11" height="3.88" fill="#b6b7b9" stroke="#2a2a2a" stroke-width="0.95"/>
<rect x="541.09" y="126.71" width="8.11" height="3.39" fill="#b6b7b9" stroke="#2a2a2a" stroke-width="0.95"/>
<rect x="549.19" y="126.08" width="8.11" height="4.02" fill="#b6b7b9" stroke="#2a2a2a" stroke-width="0.95"/>
<rect x="557.30" y="124.88" width="8.11" height="5.22" fill="#b6b7b9" stroke="#2a2a2a" stroke-width="0.95"/>
<rect x="565.40" y="123.68" width="8.11" height="6.42" fill="#b6b7b9" stroke="#2a2a2a" stroke-width="0.95"/>
<rect x="573.51" y="119.09" width="8.11" height="11.01" fill="#b6b7b9" stroke="#2a2a2a" stroke-width="0.95"/>
<rect x="581.62" y="117.67" width="8.11" height="12.43" fill="#b6b7b9" stroke="#2a2a2a" stroke-width="0.95"/>
<rect x="589.72" y="93.11" width="8.11" height="36.99" fill="#b6b7b9" stroke="#2a2a2a" stroke-width="0.95"/>
<rect x="597.83" y="109.70" width="8.11" height="20.40" fill="#b6b7b9" stroke="#2a2a2a" stroke-width="0.95"/>
<rect x="605.93" y="100.09" width="8.11" height="30.00" fill="#b6b7b9" stroke="#2a2a2a" stroke-width="0.95"/>
<rect x="614.03" y="76.09" width="8.11" height="54.01" fill="#b6b7b9" stroke="#2a2a2a" stroke-width="0.95"/>
<rect x="622.14" y="7.11" width="8.11" height="122.99" fill="#b6b7b9" stroke="#2a2a2a" stroke-width="0.95"/>
<rect x="630.25" y="123.68" width="8.11" height="6.42" fill="#b6b7b9" stroke="#2a2a2a" stroke-width="0.95"/>
<line x1="386.1" x2="685" y1="136.4" y2="136.4" stroke="#6b6b6b" stroke-width="1.2"/>
<text x="399.6" y="147.7" text-anchor="middle" font-size="9.1" fill="#7a7a7a" font-family="Liberation Sans, Arial, sans-serif">0.00</text>
<text x="426.8" y="147.7" text-anchor="middle" font-size="9.1" fill="#7a7a7a" font-family="Liberation Sans, Arial, sans-serif">0.02</text>
<text x="454.0" y="147.7" text-anchor="middle" font-size="9.1" fill="#7a7a7a" font-family="Liberation Sans, Arial, sans-serif">0.04</text>
<text x="481.2" y="147.7" text-anchor="middle" font-size="9.1" fill="#7a7a7a" font-family="Liberation Sans, Arial, sans-serif">0.06</text>
<text x="508.4" y="147.7" text-anchor="middle" font-size="9.1" fill="#7a7a7a" font-family="Liberation Sans, Arial, sans-serif">0.08</text>
<text x="535.6" y="147.7" text-anchor="middle" font-size="9.1" fill="#7a7a7a" font-family="Liberation Sans, Arial, sans-serif">0.10</text>
<text x="562.8" y="147.7" text-anchor="middle" font-size="9.1" fill="#7a7a7a" font-family="Liberation Sans, Arial, sans-serif">0.12</text>
<text x="590.0" y="147.7" text-anchor="middle" font-size="9.1" fill="#7a7a7a" font-family="Liberation Sans, Arial, sans-serif">0.14</text>
<text x="617.2" y="147.7" text-anchor="middle" font-size="9.1" fill="#7a7a7a" font-family="Liberation Sans, Arial, sans-serif">0.16</text>
<text x="644.4" y="147.7" text-anchor="middle" font-size="9.1" fill="#7a7a7a" font-family="Liberation Sans, Arial, sans-serif">0.18</text>
<text x="671.6" y="147.7" text-anchor="middle" font-size="9.1" fill="#7a7a7a" font-family="Liberation Sans, Arial, sans-serif">0.20</text>
<text x="461.6" y="159.2" font-size="9.9" fill="#666666" font-family="Liberation Sans, Arial, sans-serif">Private leaderboard pAUC<tspan font-size="6.9" dy="1.5">&gt;80% TPR</tspan></text>
<text x="357.3" y="68.7" text-anchor="middle" font-size="9.9" fill="#666666" font-family="Liberation Sans, Arial, sans-serif" transform="rotate(-90 357.3 68.7)">Count</text>
<text x="343.2" y="14.8" letter-spacing="1.1" font-size="17.6" fill="#666666" font-family="Liberation Sans, Arial, sans-serif">b)</text>
<line x1="386.1" x2="685" y1="303.70" y2="303.70" stroke="#ebebeb" stroke-width="0.6"/>
<text x="381.3" y="306.5" text-anchor="end" font-size="9.1" fill="#7a7a7a" font-family="Liberation Sans, Arial, sans-serif">0</text>
<line x1="386.1" x2="685" y1="289.65" y2="289.65" stroke="#f3f3f3" stroke-width="0.5"/>
<line x1="386.1" x2="685" y1="275.60" y2="275.60" stroke="#ebebeb" stroke-width="0.6"/>
<text x="381.3" y="278.4" text-anchor="end" font-size="9.1" fill="#7a7a7a" font-family="Liberation Sans, Arial, sans-serif">500</text>
<line x1="386.1" x2="685" y1="261.55" y2="261.55" stroke="#f3f3f3" stroke-width="0.5"/>
<line x1="386.1" x2="685" y1="247.50" y2="247.50" stroke="#ebebeb" stroke-width="0.6"/>
<text x="381.3" y="250.3" text-anchor="end" font-size="9.1" fill="#7a7a7a" font-family="Liberation Sans, Arial, sans-serif">1000</text>
<line x1="386.1" x2="685" y1="233.45" y2="233.45" stroke="#f3f3f3" stroke-width="0.5"/>
<line x1="386.1" x2="685" y1="219.40" y2="219.40" stroke="#ebebeb" stroke-width="0.6"/>
<text x="381.3" y="222.2" text-anchor="end" font-size="9.1" fill="#7a7a7a" font-family="Liberation Sans, Arial, sans-serif">1500</text>
<line x1="386.1" x2="685" y1="205.35" y2="205.35" stroke="#f3f3f3" stroke-width="0.5"/>
<line x1="386.1" x2="685" y1="191.30" y2="191.30" stroke="#ebebeb" stroke-width="0.6"/>
<text x="381.3" y="194.1" text-anchor="end" font-size="9.1" fill="#7a7a7a" font-family="Liberation Sans, Arial, sans-serif">2000</text>
<line x1="386.1" x2="685" y1="177.25" y2="177.25" stroke="#f3f3f3" stroke-width="0.5"/>
<rect x="395.10" y="303.53" width="8.86" height="0.17" fill="#b6b7b9" stroke="#2a2a2a" stroke-width="0.95"/>
<rect x="403.96" y="303.53" width="8.86" height="0.17" fill="#b6b7b9" stroke="#2a2a2a" stroke-width="0.95"/>
<rect x="412.82" y="303.42" width="8.86" height="0.28" fill="#b6b7b9" stroke="#2a2a2a" stroke-width="0.95"/>
<rect x="421.68" y="298.36" width="8.86" height="5.34" fill="#b6b7b9" stroke="#2a2a2a" stroke-width="0.95"/>
<rect x="430.54" y="301.73" width="8.86" height="1.97" fill="#b6b7b9" stroke="#2a2a2a" stroke-width="0.95"/>
<rect x="439.40" y="302.69" width="8.86" height="1.01" fill="#b6b7b9" stroke="#2a2a2a" stroke-width="0.95"/>
<rect x="448.26" y="303.03" width="8.86" height="0.67" fill="#b6b7b9" stroke="#2a2a2a" stroke-width="0.95"/>
<rect x="457.12" y="302.69" width="8.86" height="1.01" fill="#b6b7b9" stroke="#2a2a2a" stroke-width="0.95"/>
<rect x="465.98" y="302.69" width="8.86" height="1.01" fill="#b6b7b9" stroke="#2a2a2a" stroke-width="0.95"/>
<rect x="474.84" y="302.86" width="8.86" height="0.84" fill="#b6b7b9" stroke="#2a2a2a" stroke-width="0.95"/>
<rect x="483.70" y="302.91" width="8.86" height="0.79" fill="#b6b7b9" stroke="#2a2a2a" stroke-width="0.95"/>
<rect x="492.56" y="302.69" width="8.86" height="1.01" fill="#b6b7b9" stroke="#2a2a2a" stroke-width="0.95"/>
<rect x="501.42" y="302.58" width="8.86" height="1.12" fill="#b6b7b9" stroke="#2a2a2a" stroke-width="0.95"/>
<rect x="510.28" y="302.46" width="8.86" height="1.24" fill="#b6b7b9" stroke="#2a2a2a" stroke-width="0.95"/>
<rect x="519.14" y="301.85" width="8.86" height="1.85" fill="#b6b7b9" stroke="#2a2a2a" stroke-width="0.95"/>
<rect x="528.00" y="301.85" width="8.86" height="1.85" fill="#b6b7b9" stroke="#2a2a2a" stroke-width="0.95"/>
<rect x="536.86" y="302.01" width="8.86" height="1.69" fill="#b6b7b9" stroke="#2a2a2a" stroke-width="0.95"/>
<rect x="545.72" y="301.51" width="8.86" height="2.19" fill="#b6b7b9" stroke="#2a2a2a" stroke-width="0.95"/>
<rect x="554.58" y="300.89" width="8.86" height="2.81" fill="#b6b7b9" stroke="#2a2a2a" stroke-width="0.95"/>
<rect x="563.44" y="300.10" width="8.86" height="3.60" fill="#b6b7b9" stroke="#2a2a2a" stroke-width="0.95"/>
<rect x="572.30" y="299.09" width="8.86" height="4.61" fill="#b6b7b9" stroke="#2a2a2a" stroke-width="0.95"/>
<rect x="581.16" y="298.08" width="8.86" height="5.62" fill="#b6b7b9" stroke="#2a2a2a" stroke-width="0.95"/>
<rect x="590.02" y="297.12" width="8.86" height="6.58" fill="#b6b7b9" stroke="#2a2a2a" stroke-width="0.95"/>
<rect x="598.88" y="295.72" width="8.86" height="7.98" fill="#b6b7b9" stroke="#2a2a2a" stroke-width="0.95"/>
<rect x="607.74" y="294.09" width="8.86" height="9.61" fill="#b6b7b9" stroke="#2a2a2a" stroke-width="0.95"/>
<rect x="616.60" y="279.31" width="8.86" height="24.39" fill="#b6b7b9" stroke="#2a2a2a" stroke-width="0.95"/>
<rect x="625.46" y="279.65" width="8.86" height="24.05" fill="#b6b7b9" stroke="#2a2a2a" stroke-width="0.95"/>
<rect x="634.32" y="264.64" width="8.86" height="39.06" fill="#b6b7b9" stroke="#2a2a2a" stroke-width="0.95"/>
<rect x="643.18" y="180.62" width="8.86" height="123.08" fill="#b6b7b9" stroke="#2a2a2a" stroke-width="0.95"/>
<rect x="652.04" y="300.10" width="8.86" height="3.60" fill="#b6b7b9" stroke="#2a2a2a" stroke-width="0.95"/>
<line x1="386.1" x2="685" y1="309.9" y2="309.9" stroke="#6b6b6b" stroke-width="1.2"/>
<text x="399.6" y="321.8" text-anchor="middle" font-size="9.1" fill="#7a7a7a" font-family="Liberation Sans, Arial, sans-serif">0.00</text>
<text x="426.8" y="321.8" text-anchor="middle" font-size="9.1" fill="#7a7a7a" font-family="Liberation Sans, Arial, sans-serif">0.02</text>
<text x="454.0" y="321.8" text-anchor="middle" font-size="9.1" fill="#7a7a7a" font-family="Liberation Sans, Arial, sans-serif">0.04</text>
<text x="481.2" y="321.8" text-anchor="middle" font-size="9.1" fill="#7a7a7a" font-family="Liberation Sans, Arial, sans-serif">0.06</text>
<text x="508.4" y="321.8" text-anchor="middle" font-size="9.1" fill="#7a7a7a" font-family="Liberation Sans, Arial, sans-serif">0.08</text>
<text x="535.6" y="321.8" text-anchor="middle" font-size="9.1" fill="#7a7a7a" font-family="Liberation Sans, Arial, sans-serif">0.10</text>
<text x="562.8" y="321.8" text-anchor="middle" font-size="9.1" fill="#7a7a7a" font-family="Liberation Sans, Arial, sans-serif">0.12</text>
<text x="590.0" y="321.8" text-anchor="middle" font-size="9.1" fill="#7a7a7a" font-family="Liberation Sans, Arial, sans-serif">0.14</text>
<text x="617.2" y="321.8" text-anchor="middle" font-size="9.1" fill="#7a7a7a" font-family="Liberation Sans, Arial, sans-serif">0.16</text>
<text x="644.4" y="321.8" text-anchor="middle" font-size="9.1" fill="#7a7a7a" font-family="Liberation Sans, Arial, sans-serif">0.18</text>
<text x="671.6" y="321.8" text-anchor="middle" font-size="9.1" fill="#7a7a7a" font-family="Liberation Sans, Arial, sans-serif">0.20</text>
<text x="463.5" y="332.6" font-size="9.9" fill="#666666" font-family="Liberation Sans, Arial, sans-serif">Public leaderboard pAUC<tspan font-size="6.9" dy="1.5">&gt;80% TPR</tspan></text>
<text x="357.3" y="241.8" text-anchor="middle" font-size="9.9" fill="#666666" font-family="Liberation Sans, Arial, sans-serif" transform="rotate(-90 357.3 241.8)">Count</text>
<text x="341.5" y="178.6" letter-spacing="0.6" font-size="17.6" fill="#666666" font-family="Liberation Sans, Arial, sans-serif">c)</text></svg></body></html>
